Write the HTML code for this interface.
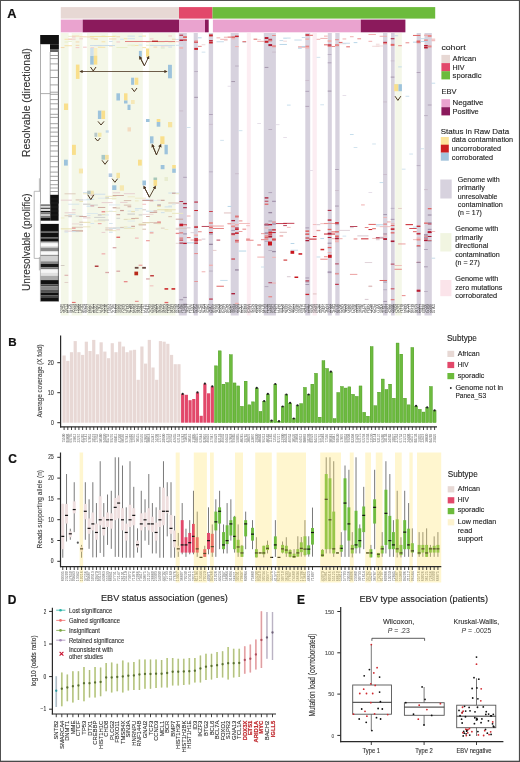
<!DOCTYPE html>
<html><head><meta charset="utf-8"><style>
html,body{margin:0;padding:0;background:#fff;overflow:hidden;width:520px;height:762px;}
svg{display:block;filter:blur(0.3px);font-family:"Liberation Sans",sans-serif;}
</style></head><body>
<svg width="520" height="762" viewBox="0 0 520 762">
<rect x="0" y="0" width="520" height="762" fill="#fff"/>
<rect x="60.8" y="7.1" width="118.2" height="11.5" fill="#e7d8d4" />
<rect x="179" y="7.1" width="33.5" height="11.5" fill="#e2486a" />
<rect x="212.5" y="7.1" width="222.7" height="11.5" fill="#6cbb3c" />
<rect x="60.8" y="19.6" width="21.9" height="12.7" fill="#eaa3cf" />
<rect x="82.7" y="19.6" width="96.3" height="12.7" fill="#8b1a5c" />
<rect x="179" y="19.6" width="26" height="12.7" fill="#eaa3cf" />
<rect x="205" y="19.6" width="3.7" height="12.7" fill="#8b1a5c" />
<rect x="212.9" y="19.6" width="147.9" height="12.7" fill="#eaa3cf" />
<rect x="360.8" y="19.6" width="44.6" height="12.7" fill="#8b1a5c" />
<rect x="60.8" y="33" width="118.2" height="282.5" fill="#f4f7e8" />
<rect x="68.6" y="33" width="3.1" height="282.5" fill="#ffffff" />
<rect x="82.5" y="33" width="4.5" height="282.5" fill="#ffffff" />
<rect x="108.2" y="33" width="3.6" height="282.5" fill="#ffffff" />
<rect x="142.8" y="33" width="6" height="282.5" fill="#ffffff" />
<rect x="175.5" y="33" width="3.5" height="282.5" fill="#ffffff" />
<rect x="111.8" y="200" width="3.7" height="115.5" fill="#ffffff" />
<rect x="178.8" y="33" width="8" height="282.5" fill="#d7d2de" />
<rect x="193.7" y="33" width="4.1" height="282.5" fill="#d7d2de" />
<rect x="208.7" y="33" width="4.4" height="282.5" fill="#d7d2de" />
<rect x="230.7" y="33" width="8" height="282.5" fill="#d7d2de" />
<rect x="263.8" y="33" width="12.1" height="282.5" fill="#d7d2de" />
<rect x="305.3" y="33" width="4.9" height="282.5" fill="#d7d2de" />
<rect x="327.8" y="33" width="4" height="282.5" fill="#d7d2de" />
<rect x="335.3" y="33" width="4.3" height="282.5" fill="#d7d2de" />
<rect x="383" y="33" width="4.4" height="282.5" fill="#d7d2de" />
<rect x="391" y="33" width="3.7" height="282.5" fill="#d7d2de" />
<rect x="416.7" y="33" width="4.2" height="282.5" fill="#d7d2de" />
<rect x="424.5" y="33" width="7.3" height="282.5" fill="#d7d2de" />
<rect x="246.8" y="33" width="4" height="282.5" fill="#fcedf2" />
<rect x="312.5" y="33" width="4.3" height="282.5" fill="#fcedf2" />
<rect x="395.2" y="33" width="6.6" height="282.5" fill="#f4f7e8" />
<rect x="60.8" y="47.04" width="3.71" height="1" fill="#f4d8b0" />
<rect x="60.8" y="265.07" width="3.71" height="0.8" fill="#c8c0b8" />
<rect x="60.8" y="228.35" width="11.12" height="1" fill="#e8e0b0" />
<rect x="60.8" y="199.67" width="11.12" height="1" fill="#e8d0d0" />
<rect x="60.8" y="217.56" width="3.71" height="0.8" fill="#ece8c0" />
<rect x="64.51" y="45.24" width="7.41" height="1" fill="#f6e2a8" />
<rect x="64.51" y="38.76" width="7.41" height="1" fill="#f6e2a8" />
<rect x="64.51" y="41.48" width="3.71" height="1" fill="#e8eec8" />
<rect x="64.51" y="274.76" width="3.71" height="1" fill="#d8a8a8" />
<rect x="64.51" y="281.96" width="3.71" height="1" fill="#e0d0c8" />
<rect x="64.51" y="230.56" width="3.71" height="1" fill="#d8e6ee" />
<rect x="64.51" y="193.44" width="11.12" height="0.8" fill="#d8c0b0" />
<rect x="64.51" y="230.62" width="11.12" height="1" fill="#e8d0d0" />
<rect x="64.51" y="212.29" width="11.12" height="1" fill="#e8d0d0" />
<rect x="64.51" y="215.37" width="7.41" height="0.8" fill="#d8c0b0" />
<rect x="64.51" y="231.64" width="3.71" height="1" fill="#d8e6ee" />
<rect x="68.21" y="38.63" width="7.41" height="1" fill="#f2c8c8" />
<rect x="68.21" y="40.82" width="3.71" height="1" fill="#e8eec8" />
<rect x="68.21" y="35.84" width="3.71" height="1" fill="#e8eec8" />
<rect x="68.21" y="203.76" width="11.12" height="0.8" fill="#cfe0ea" />
<rect x="68.21" y="216.2" width="3.71" height="1" fill="#c8c8c8" />
<rect x="68.21" y="214.03" width="7.41" height="0.8" fill="#cfe0ea" />
<rect x="71.92" y="35.58" width="7.41" height="1" fill="#f4d8b0" />
<rect x="71.92" y="36.45" width="3.71" height="1" fill="#f2c8c8" />
<rect x="71.92" y="227.39" width="3.71" height="1.3" fill="#e88a8a" />
<rect x="71.92" y="301.91" width="3.71" height="1" fill="#e06464" />
<rect x="71.92" y="230.35" width="11.12" height="1" fill="#c89890" />
<rect x="71.92" y="226.8" width="11.12" height="0.8" fill="#d8c0b0" />
<rect x="71.92" y="209.25" width="3.71" height="1" fill="#e8d0d0" />
<rect x="71.92" y="231.11" width="7.41" height="1" fill="#cfe0ea" />
<rect x="71.92" y="223.54" width="7.41" height="0.8" fill="#e8d0d0" />
<rect x="75.63" y="47.13" width="3.71" height="1" fill="#f2c8c8" />
<rect x="75.63" y="44.85" width="3.71" height="1" fill="#f4d8b0" />
<rect x="75.63" y="41.44" width="3.71" height="1" fill="#f4d8b0" />
<rect x="75.63" y="230.53" width="7.41" height="1" fill="#d8c0b0" />
<rect x="75.63" y="215.71" width="7.41" height="0.8" fill="#c8c8c8" />
<rect x="75.63" y="199.41" width="7.41" height="1" fill="#d8c0b0" />
<rect x="79.33" y="36.27" width="3.71" height="1" fill="#f4d8b0" />
<rect x="79.33" y="38.31" width="3.71" height="1" fill="#f2c8c8" />
<rect x="79.33" y="199.5" width="11.12" height="0.8" fill="#d8e6ee" />
<rect x="79.33" y="216.03" width="7.41" height="0.8" fill="#c89890" />
<rect x="79.33" y="224.39" width="3.71" height="0.8" fill="#c8c8c8" />
<rect x="79.33" y="221.68" width="3.71" height="1" fill="#d8c0b0" />
<rect x="79.33" y="201" width="3.71" height="0.8" fill="#e8e0b0" />
<rect x="83.04" y="46.68" width="3.71" height="1" fill="#f2c8c8" />
<rect x="83.04" y="36.31" width="3.71" height="1" fill="#f4d8b0" />
<rect x="83.04" y="203.68" width="7.41" height="1" fill="#c8c8c8" />
<rect x="83.04" y="217.37" width="7.41" height="1" fill="#e8d0d0" />
<rect x="83.04" y="193.42" width="11.12" height="0.8" fill="#e8e0b0" />
<rect x="83.04" y="192.19" width="11.12" height="0.8" fill="#cfe0ea" />
<rect x="83.04" y="221.82" width="7.41" height="1" fill="#e8e0b0" />
<rect x="83.04" y="226.46" width="7.41" height="0.8" fill="#e8e0b0" />
<rect x="86.75" y="36.4" width="7.41" height="1" fill="#f4d8b0" />
<rect x="86.75" y="215.08" width="3.71" height="1" fill="#d8e6ee" />
<rect x="86.75" y="198.87" width="7.41" height="0.8" fill="#cfe0ea" />
<rect x="86.75" y="213" width="11.12" height="0.8" fill="#d8e6ee" />
<rect x="86.75" y="205.65" width="7.41" height="1" fill="#cfe0ea" />
<rect x="86.75" y="206.07" width="3.71" height="0.8" fill="#d8e6ee" />
<rect x="86.75" y="198.85" width="7.41" height="0.8" fill="#cfe0ea" />
<rect x="90.46" y="47.36" width="3.71" height="1" fill="#f2c8c8" />
<rect x="90.46" y="38.27" width="7.41" height="1" fill="#f4d8b0" />
<rect x="90.46" y="205.3" width="3.71" height="1" fill="#e88a8a" />
<rect x="90.46" y="223.01" width="3.71" height="0.8" fill="#cfe0ea" />
<rect x="90.46" y="194.74" width="3.71" height="0.8" fill="#c89890" />
<rect x="90.46" y="204.64" width="7.41" height="0.8" fill="#c8c8c8" />
<rect x="94.16" y="45.09" width="3.71" height="1" fill="#f2c8c8" />
<rect x="94.16" y="38.99" width="3.71" height="1" fill="#f6e2a8" />
<rect x="94.16" y="220.64" width="11.12" height="0.8" fill="#ece8c0" />
<rect x="94.16" y="193.72" width="11.12" height="1" fill="#cfe0ea" />
<rect x="94.16" y="216.92" width="11.12" height="0.8" fill="#c8c8c8" />
<rect x="97.87" y="45.26" width="3.71" height="1" fill="#e8eec8" />
<rect x="97.87" y="44.96" width="3.71" height="1" fill="#cfe2ee" />
<rect x="97.87" y="46.77" width="7.41" height="1" fill="#f6e2a8" />
<rect x="97.87" y="223.34" width="3.71" height="0.8" fill="#e88a8a" />
<rect x="97.87" y="206.97" width="7.41" height="0.8" fill="#c89890" />
<rect x="97.87" y="219.62" width="11.12" height="0.8" fill="#c8c8c8" />
<rect x="97.87" y="214.55" width="3.71" height="0.8" fill="#c89890" />
<rect x="97.87" y="197.74" width="11.12" height="0.8" fill="#d8e6ee" />
<rect x="97.87" y="214.57" width="11.12" height="0.8" fill="#cfe0ea" />
<rect x="101.58" y="35.53" width="3.71" height="1" fill="#e8eec8" />
<rect x="101.58" y="41.28" width="3.71" height="1" fill="#f6e2a8" />
<rect x="101.58" y="253.18" width="3.71" height="1.3" fill="#f0b0b0" />
<rect x="101.58" y="211.1" width="3.71" height="1.3" fill="#e88a8a" />
<rect x="101.58" y="214" width="3.71" height="0.8" fill="#e8e0b0" />
<rect x="101.58" y="231.93" width="3.71" height="1" fill="#e8d0d0" />
<rect x="101.58" y="202.12" width="11.12" height="1" fill="#e8d0d0" />
<rect x="105.28" y="45" width="3.71" height="1" fill="#cfe2ee" />
<rect x="105.28" y="271.85" width="3.71" height="1.3" fill="#d8a8a8" />
<rect x="105.28" y="198.25" width="11.12" height="0.8" fill="#ece8c0" />
<rect x="105.28" y="195.83" width="11.12" height="1" fill="#ece8c0" />
<rect x="105.28" y="197.45" width="3.71" height="0.8" fill="#c8c8c8" />
<rect x="105.28" y="229.39" width="7.41" height="1" fill="#d8c0b0" />
<rect x="105.28" y="227.58" width="7.41" height="0.8" fill="#d8c0b0" />
<rect x="105.28" y="211.18" width="11.12" height="0.8" fill="#ece8c0" />
<rect x="108.99" y="40.94" width="3.71" height="1" fill="#cfe2ee" />
<rect x="108.99" y="45.49" width="3.71" height="1" fill="#f4d8b0" />
<rect x="108.99" y="38.47" width="7.41" height="1" fill="#f4d8b0" />
<rect x="108.99" y="231.71" width="3.71" height="1" fill="#cfe0ea" />
<rect x="108.99" y="210.7" width="3.71" height="0.8" fill="#d8e6ee" />
<rect x="108.99" y="230.35" width="7.41" height="0.8" fill="#e8e0b0" />
<rect x="108.99" y="223.03" width="3.71" height="0.8" fill="#cfe0ea" />
<rect x="108.99" y="227.99" width="7.41" height="0.8" fill="#cfe0ea" />
<rect x="108.99" y="204.54" width="11.12" height="0.8" fill="#d8e6ee" />
<rect x="112.7" y="35.76" width="3.71" height="1" fill="#f6e2a8" />
<rect x="112.7" y="247.05" width="3.71" height="1.3" fill="#d8a8a8" />
<rect x="112.7" y="192.28" width="7.41" height="1" fill="#e8d0d0" />
<rect x="112.7" y="207.19" width="3.71" height="0.8" fill="#c89890" />
<rect x="112.7" y="207.64" width="7.41" height="0.8" fill="#d8c0b0" />
<rect x="112.7" y="195.05" width="11.12" height="0.8" fill="#c89890" />
<rect x="112.7" y="227.49" width="7.41" height="0.8" fill="#c8c8c8" />
<rect x="116.4" y="41.46" width="3.71" height="1" fill="#f2c8c8" />
<rect x="116.4" y="36.25" width="3.71" height="1" fill="#f4d8b0" />
<rect x="116.4" y="47.03" width="7.41" height="1" fill="#e8eec8" />
<rect x="116.4" y="236.62" width="3.71" height="1.3" fill="#e06464" />
<rect x="116.4" y="270.57" width="3.71" height="1.3" fill="#d8a8a8" />
<rect x="116.4" y="217.83" width="3.71" height="0.8" fill="#c8c8c8" />
<rect x="116.4" y="227.6" width="11.12" height="0.8" fill="#d8e6ee" />
<rect x="116.4" y="229.27" width="3.71" height="1" fill="#e8d0d0" />
<rect x="116.4" y="214.2" width="3.71" height="1" fill="#c89890" />
<rect x="120.11" y="38.71" width="3.71" height="1" fill="#cfe2ee" />
<rect x="120.11" y="47.04" width="7.41" height="1" fill="#e8eec8" />
<rect x="120.11" y="210.38" width="3.71" height="1" fill="#e0d0c8" />
<rect x="120.11" y="226.9" width="3.71" height="1" fill="#d8c0b0" />
<rect x="120.11" y="201.89" width="7.41" height="1" fill="#e8d0d0" />
<rect x="120.11" y="209.93" width="3.71" height="1" fill="#c89890" />
<rect x="123.82" y="38.27" width="3.71" height="1" fill="#f6e2a8" />
<rect x="123.82" y="281.01" width="3.71" height="1.3" fill="#e88a8a" />
<rect x="123.82" y="219.22" width="3.71" height="0.8" fill="#c8c0b8" />
<rect x="123.82" y="218.81" width="11.12" height="0.8" fill="#ece8c0" />
<rect x="123.82" y="226.38" width="3.71" height="0.8" fill="#ece8c0" />
<rect x="123.82" y="200.08" width="7.41" height="1" fill="#d8c0b0" />
<rect x="123.82" y="193.2" width="11.12" height="1" fill="#e8d0d0" />
<rect x="123.82" y="204.64" width="7.41" height="1" fill="#d8c0b0" />
<rect x="123.82" y="227.83" width="11.12" height="0.8" fill="#e8e0b0" />
<rect x="127.52" y="35.61" width="7.41" height="1" fill="#cfe2ee" />
<rect x="127.52" y="44.67" width="7.41" height="1" fill="#e8eec8" />
<rect x="127.52" y="38.19" width="7.41" height="1" fill="#cfe2ee" />
<rect x="127.52" y="196.46" width="7.41" height="0.8" fill="#ece8c0" />
<rect x="127.52" y="210.69" width="3.71" height="0.8" fill="#cfe0ea" />
<rect x="127.52" y="206.4" width="3.71" height="0.8" fill="#c89890" />
<rect x="127.52" y="213.56" width="7.41" height="1" fill="#c8c8c8" />
<rect x="127.52" y="226.82" width="3.71" height="0.8" fill="#cfe0ea" />
<rect x="127.52" y="220.64" width="7.41" height="0.8" fill="#d8e6ee" />
<rect x="131.23" y="45.2" width="3.71" height="1" fill="#e8eec8" />
<rect x="131.23" y="211.35" width="3.71" height="0.8" fill="#e0d0c8" />
<rect x="131.23" y="225.81" width="3.71" height="1" fill="#c89890" />
<rect x="131.23" y="210.93" width="3.71" height="1" fill="#e8e0b0" />
<rect x="131.23" y="217.97" width="7.41" height="0.8" fill="#c89890" />
<rect x="134.94" y="44.94" width="3.71" height="1" fill="#f6e2a8" />
<rect x="134.94" y="41.07" width="3.71" height="1" fill="#e8eec8" />
<rect x="134.94" y="237.6" width="3.71" height="1" fill="#f0b0b0" />
<rect x="134.94" y="300.85" width="3.71" height="0.8" fill="#e06464" />
<rect x="134.94" y="197.74" width="11.12" height="0.8" fill="#ece8c0" />
<rect x="134.94" y="200.37" width="3.71" height="1" fill="#ece8c0" />
<rect x="134.94" y="217.47" width="3.71" height="0.8" fill="#ece8c0" />
<rect x="134.94" y="209.71" width="3.71" height="0.8" fill="#cfe0ea" />
<rect x="134.94" y="208.12" width="7.41" height="1" fill="#cfe0ea" />
<rect x="138.65" y="35.74" width="3.71" height="1" fill="#e8eec8" />
<rect x="138.65" y="44.53" width="3.71" height="1" fill="#cfe2ee" />
<rect x="138.65" y="35.89" width="3.71" height="1" fill="#cfe2ee" />
<rect x="138.65" y="264.73" width="3.71" height="1" fill="#e88a8a" />
<rect x="138.65" y="224.3" width="7.41" height="1" fill="#c89890" />
<rect x="138.65" y="223.57" width="7.41" height="1" fill="#e8e0b0" />
<rect x="138.65" y="214.44" width="3.71" height="1" fill="#c8c8c8" />
<rect x="142.35" y="35.56" width="3.71" height="1" fill="#f6e2a8" />
<rect x="142.35" y="47.12" width="3.71" height="1" fill="#f6e2a8" />
<rect x="142.35" y="209.42" width="3.71" height="0.8" fill="#c8c0b8" />
<rect x="142.35" y="203.81" width="3.71" height="0.8" fill="#f0b0b0" />
<rect x="142.35" y="200.03" width="11.12" height="1" fill="#c89890" />
<rect x="142.35" y="228.7" width="3.71" height="1" fill="#d8c0b0" />
<rect x="142.35" y="222.06" width="11.12" height="0.8" fill="#d8c0b0" />
<rect x="142.35" y="199.36" width="11.12" height="0.8" fill="#e8d0d0" />
<rect x="142.35" y="213.89" width="11.12" height="0.8" fill="#e8d0d0" />
<rect x="146.06" y="41.62" width="3.71" height="1" fill="#e8eec8" />
<rect x="146.06" y="44.73" width="7.41" height="1" fill="#e8eec8" />
<rect x="146.06" y="40.97" width="3.71" height="1" fill="#f4d8b0" />
<rect x="146.06" y="278.29" width="3.71" height="1.3" fill="#d8a8a8" />
<rect x="146.06" y="240.23" width="3.71" height="1" fill="#e88a8a" />
<rect x="146.06" y="198.87" width="3.71" height="1" fill="#d8e6ee" />
<rect x="146.06" y="222.34" width="3.71" height="1" fill="#e8e0b0" />
<rect x="146.06" y="216.03" width="3.71" height="0.8" fill="#c89890" />
<rect x="146.06" y="210.66" width="7.41" height="1" fill="#cfe0ea" />
<rect x="149.77" y="38.4" width="3.71" height="1" fill="#f2c8c8" />
<rect x="149.77" y="232.38" width="3.71" height="1" fill="#e88a8a" />
<rect x="149.77" y="285.48" width="3.71" height="0.8" fill="#f0b0b0" />
<rect x="149.77" y="231.11" width="3.71" height="0.8" fill="#d8e6ee" />
<rect x="149.77" y="201.2" width="3.71" height="0.8" fill="#e8d0d0" />
<rect x="149.77" y="212.2" width="7.41" height="0.8" fill="#c89890" />
<rect x="153.47" y="46.58" width="3.71" height="1" fill="#f4d8b0" />
<rect x="153.47" y="199.97" width="7.41" height="0.8" fill="#d8e6ee" />
<rect x="153.47" y="210.61" width="3.71" height="0.8" fill="#c89890" />
<rect x="153.47" y="222.46" width="7.41" height="1" fill="#c89890" />
<rect x="157.18" y="41.54" width="7.41" height="1" fill="#e8eec8" />
<rect x="157.18" y="221.42" width="3.71" height="1.3" fill="#e88a8a" />
<rect x="157.18" y="203.97" width="3.71" height="1" fill="#c8c8c8" />
<rect x="157.18" y="199.68" width="3.71" height="1" fill="#e8d0d0" />
<rect x="157.18" y="223.36" width="3.71" height="0.8" fill="#e8e0b0" />
<rect x="157.18" y="206.02" width="3.71" height="1" fill="#e8e0b0" />
<rect x="157.18" y="209.23" width="3.71" height="1" fill="#e8e0b0" />
<rect x="157.18" y="204.93" width="3.71" height="0.8" fill="#c89890" />
<rect x="160.89" y="47.35" width="3.71" height="1" fill="#cfe2ee" />
<rect x="160.89" y="47.45" width="3.71" height="1" fill="#e8eec8" />
<rect x="160.89" y="45.5" width="3.71" height="1" fill="#f2c8c8" />
<rect x="160.89" y="227.7" width="3.71" height="0.8" fill="#d8c0b0" />
<rect x="160.89" y="212.14" width="3.71" height="1" fill="#cfe0ea" />
<rect x="160.89" y="199.79" width="3.71" height="1" fill="#c89890" />
<rect x="160.89" y="209.3" width="7.41" height="1" fill="#e8e0b0" />
<rect x="164.59" y="40.84" width="3.71" height="1" fill="#f2c8c8" />
<rect x="164.59" y="44.94" width="3.71" height="1" fill="#cfe2ee" />
<rect x="164.59" y="45.26" width="7.41" height="1" fill="#f2c8c8" />
<rect x="164.59" y="301.88" width="3.71" height="1.3" fill="#e06464" />
<rect x="164.59" y="209.25" width="11.12" height="1" fill="#e8e0b0" />
<rect x="164.59" y="206.39" width="7.41" height="1" fill="#cfe0ea" />
<rect x="164.59" y="210.53" width="7.41" height="1" fill="#e8e0b0" />
<rect x="164.59" y="229.21" width="3.71" height="0.8" fill="#ece8c0" />
<rect x="168.3" y="46.65" width="3.71" height="1" fill="#cfe2ee" />
<rect x="168.3" y="35.5" width="3.71" height="1" fill="#f2c8c8" />
<rect x="168.3" y="41.68" width="3.71" height="1" fill="#e8eec8" />
<rect x="168.3" y="192.53" width="11.12" height="1" fill="#cfe0ea" />
<rect x="168.3" y="216.14" width="3.71" height="1" fill="#d8c0b0" />
<rect x="168.3" y="202.47" width="11.12" height="1" fill="#d8c0b0" />
<rect x="168.3" y="205.58" width="3.71" height="1" fill="#cfe0ea" />
<rect x="172.01" y="38.91" width="7.41" height="1" fill="#cfe2ee" />
<rect x="172.01" y="38.74" width="3.71" height="1" fill="#f4d8b0" />
<rect x="172.01" y="41.25" width="3.71" height="1" fill="#f6e2a8" />
<rect x="172.01" y="192.68" width="3.71" height="1" fill="#c89890" />
<rect x="172.01" y="212.85" width="11.12" height="1" fill="#ece8c0" />
<rect x="172.01" y="203.75" width="3.71" height="0.8" fill="#d8e6ee" />
<rect x="175.71" y="41.14" width="3.71" height="1" fill="#f2c8c8" />
<rect x="175.71" y="44.78" width="7.41" height="1" fill="#cfe2ee" />
<rect x="175.71" y="232.75" width="3.71" height="1.3" fill="#e88a8a" />
<rect x="175.71" y="242.84" width="3.71" height="0.8" fill="#e0d0c8" />
<rect x="175.71" y="193.22" width="3.71" height="1" fill="#ece8c0" />
<rect x="175.71" y="203.19" width="7.41" height="0.8" fill="#e8d0d0" />
<rect x="175.71" y="218.75" width="7.41" height="0.8" fill="#c89890" />
<rect x="175.71" y="227.83" width="11.12" height="0.8" fill="#d8c0b0" />
<rect x="175.71" y="228.83" width="3.71" height="1" fill="#e8d0d0" />
<rect x="179.42" y="34.69" width="3.71" height="1" fill="#b8182e" />
<rect x="179.42" y="47.21" width="3.71" height="1.5" fill="#f0b0b0" />
<rect x="179.42" y="39.5" width="3.71" height="1.5" fill="#b8182e" />
<rect x="179.42" y="110.52" width="3.71" height="0.8" fill="#c8b8c8" />
<rect x="179.42" y="232.4" width="3.71" height="1" fill="#e06464" />
<rect x="179.42" y="223.67" width="3.71" height="1.6" fill="#b8182e" />
<rect x="179.42" y="237.6" width="3.71" height="1" fill="#e06464" />
<rect x="179.42" y="239.61" width="3.71" height="1" fill="#c8202a" />
<rect x="179.42" y="242.58" width="3.71" height="1" fill="#a81a34" />
<rect x="179.42" y="224.93" width="3.71" height="1.3" fill="#c8202a" />
<rect x="179.42" y="201.09" width="3.71" height="0.8" fill="#a81a34" />
<rect x="179.42" y="299.42" width="3.71" height="0.8" fill="#9888a0" />
<rect x="183.13" y="36.49" width="3.71" height="1.5" fill="#e06464" />
<rect x="183.13" y="39.57" width="3.71" height="1" fill="#a81a34" />
<rect x="183.13" y="39.49" width="3.71" height="1" fill="#e06464" />
<rect x="183.13" y="36.47" width="3.71" height="1" fill="#e06464" />
<rect x="183.13" y="176.85" width="3.71" height="0.8" fill="#a898b0" />
<rect x="183.13" y="233.23" width="3.71" height="1.3" fill="#a898b0" />
<rect x="183.13" y="224.25" width="3.71" height="1.3" fill="#a81a34" />
<rect x="183.13" y="242.74" width="3.71" height="1.3" fill="#b8182e" />
<rect x="183.13" y="224.76" width="3.71" height="1" fill="#c8202a" />
<rect x="183.13" y="224.67" width="3.71" height="1.3" fill="#f0b0b0" />
<rect x="183.13" y="296.93" width="3.71" height="0.8" fill="#9888a0" />
<rect x="183.13" y="303.67" width="3.71" height="1" fill="#a898b0" />
<rect x="183.13" y="202.94" width="3.71" height="1.3" fill="#a81a34" />
<rect x="183.13" y="207.21" width="3.71" height="1" fill="#a81a34" />
<rect x="186.84" y="126.98" width="3.71" height="0.8" fill="#c6dcea" />
<rect x="186.84" y="242.37" width="7.41" height="1" fill="#b8d6e8" />
<rect x="186.84" y="215.51" width="3.71" height="1" fill="#f0b0b0" />
<rect x="186.84" y="227.32" width="3.71" height="1" fill="#d8c8d0" />
<rect x="186.84" y="237.12" width="3.71" height="1" fill="#e06464" />
<rect x="190.54" y="239.61" width="11.12" height="0.8" fill="#e88a8a" />
<rect x="190.54" y="232.32" width="3.71" height="0.8" fill="#d8c8d0" />
<rect x="194.25" y="47.88" width="3.71" height="2" fill="#c8202a" />
<rect x="194.25" y="41.35" width="3.71" height="1.5" fill="#b8182e" />
<rect x="194.25" y="40.49" width="3.71" height="2" fill="#e88a8a" />
<rect x="194.25" y="71.22" width="3.71" height="0.8" fill="#b4a8bc" />
<rect x="194.25" y="96.86" width="3.71" height="0.8" fill="#9888a0" />
<rect x="194.25" y="234.41" width="3.71" height="1.6" fill="#f0b0b0" />
<rect x="194.25" y="238.19" width="3.71" height="1.6" fill="#c8202a" />
<rect x="194.25" y="240.11" width="3.71" height="1.3" fill="#c8202a" />
<rect x="194.25" y="242.5" width="3.71" height="1.3" fill="#c8202a" />
<rect x="194.25" y="225.83" width="3.71" height="1.6" fill="#f0b0b0" />
<rect x="194.25" y="226.65" width="3.71" height="1.3" fill="#e06464" />
<rect x="194.25" y="226.5" width="3.71" height="1" fill="#a81a34" />
<rect x="194.25" y="210.03" width="3.71" height="1" fill="#c8202a" />
<rect x="194.25" y="281.17" width="3.71" height="0.8" fill="#e88a8a" />
<rect x="194.25" y="253.08" width="3.71" height="1" fill="#e88a8a" />
<rect x="194.25" y="201.57" width="3.71" height="1" fill="#b8182e" />
<rect x="197.96" y="45.86" width="3.71" height="1" fill="#e88a8a" />
<rect x="197.96" y="37.31" width="3.71" height="1" fill="#b8d6e8" />
<rect x="197.96" y="231.25" width="3.71" height="1" fill="#e88a8a" />
<rect x="201.66" y="44.25" width="3.71" height="1" fill="#f0d8d8" />
<rect x="201.66" y="51.72" width="3.71" height="0.8" fill="#c6dcea" />
<rect x="201.66" y="238.59" width="3.71" height="1" fill="#d8c8d0" />
<rect x="201.66" y="271.28" width="3.71" height="1" fill="#f0b0b0" />
<rect x="201.66" y="225.96" width="7.41" height="0.8" fill="#a81a34" />
<rect x="209.08" y="40.09" width="3.71" height="1" fill="#b8182e" />
<rect x="209.08" y="34.4" width="3.71" height="2" fill="#c8202a" />
<rect x="209.08" y="41.48" width="3.71" height="2" fill="#c8202a" />
<rect x="209.08" y="171.47" width="3.71" height="0.8" fill="#b4a8bc" />
<rect x="209.08" y="114" width="3.71" height="0.8" fill="#a898b0" />
<rect x="209.08" y="123.88" width="3.71" height="0.8" fill="#c8b8c8" />
<rect x="209.08" y="231.98" width="3.71" height="1.3" fill="#c8202a" />
<rect x="209.08" y="233.61" width="3.71" height="1" fill="#a898b0" />
<rect x="209.08" y="225.65" width="3.71" height="1" fill="#e88a8a" />
<rect x="209.08" y="222.59" width="3.71" height="1.3" fill="#e88a8a" />
<rect x="209.08" y="222.16" width="3.71" height="1" fill="#e88a8a" />
<rect x="209.08" y="211.12" width="3.71" height="0.8" fill="#c8202a" />
<rect x="209.08" y="264.66" width="3.71" height="1.3" fill="#f0b0b0" />
<rect x="209.08" y="298.57" width="3.71" height="1" fill="#b8182e" />
<rect x="209.08" y="226.99" width="3.71" height="1.3" fill="#e06464" />
<rect x="209.08" y="270.65" width="3.71" height="0.8" fill="#b4a8bc" />
<rect x="209.08" y="243.7" width="3.71" height="1.3" fill="#9888a0" />
<rect x="212.78" y="249.91" width="3.71" height="0.8" fill="#e0c0c0" />
<rect x="212.78" y="227.97" width="11.12" height="0.8" fill="#e06464" />
<rect x="212.78" y="225.63" width="11.12" height="0.8" fill="#e88a8a" />
<rect x="216.49" y="41.25" width="7.41" height="1" fill="#c6dcea" />
<rect x="216.49" y="37.35" width="3.71" height="1" fill="#f0b0b0" />
<rect x="216.49" y="285.73" width="7.41" height="1" fill="#e06464" />
<rect x="216.49" y="239.68" width="3.71" height="0.8" fill="#a81a34" />
<rect x="220.2" y="38.8" width="7.41" height="1" fill="#f0b0b0" />
<rect x="220.2" y="139.89" width="3.71" height="0.8" fill="#c6dcea" />
<rect x="220.2" y="279.95" width="7.41" height="0.8" fill="#b8d6e8" />
<rect x="223.9" y="40.06" width="3.71" height="1" fill="#f0d8d8" />
<rect x="223.9" y="36.71" width="3.71" height="1" fill="#f0b0b0" />
<rect x="223.9" y="212.45" width="7.41" height="1" fill="#e0c0c0" />
<rect x="227.61" y="36.61" width="3.71" height="1" fill="#e06464" />
<rect x="227.61" y="85.8" width="3.71" height="0.8" fill="#e0d8e4" />
<rect x="227.61" y="205.93" width="3.71" height="1" fill="#b8d6e8" />
<rect x="227.61" y="223.24" width="3.71" height="1" fill="#e06464" />
<rect x="227.61" y="222.95" width="7.41" height="0.8" fill="#f0b0b0" />
<rect x="231.32" y="38.25" width="3.71" height="1" fill="#f0b0b0" />
<rect x="231.32" y="36.36" width="3.71" height="1.5" fill="#e06464" />
<rect x="231.32" y="81.24" width="3.71" height="0.8" fill="#9888a0" />
<rect x="231.32" y="225.69" width="3.71" height="1.6" fill="#e88a8a" />
<rect x="231.32" y="234.57" width="3.71" height="1.3" fill="#f0b0b0" />
<rect x="231.32" y="225.72" width="3.71" height="1.3" fill="#e88a8a" />
<rect x="231.32" y="229.86" width="3.71" height="1" fill="#a898b0" />
<rect x="231.32" y="233.26" width="3.71" height="1.3" fill="#e88a8a" />
<rect x="231.32" y="258.53" width="3.71" height="1" fill="#c8202a" />
<rect x="231.32" y="293.06" width="3.71" height="1.3" fill="#a81a34" />
<rect x="231.32" y="219.96" width="3.71" height="1.3" fill="#a81a34" />
<rect x="231.32" y="233.36" width="3.71" height="1.3" fill="#a81a34" />
<rect x="235.03" y="35.61" width="3.71" height="1.5" fill="#c8202a" />
<rect x="235.03" y="46.1" width="3.71" height="1" fill="#f0b0b0" />
<rect x="235.03" y="65.61" width="3.71" height="0.8" fill="#b4a8bc" />
<rect x="235.03" y="173.37" width="3.71" height="0.8" fill="#c8b8c8" />
<rect x="235.03" y="240.13" width="3.71" height="1.3" fill="#c8202a" />
<rect x="235.03" y="232.35" width="3.71" height="1.6" fill="#c8202a" />
<rect x="235.03" y="239.3" width="3.71" height="1" fill="#f0b0b0" />
<rect x="235.03" y="223.96" width="3.71" height="1.6" fill="#f0b0b0" />
<rect x="235.03" y="228.36" width="3.71" height="1.6" fill="#c8202a" />
<rect x="235.03" y="302.75" width="3.71" height="1.3" fill="#f0b0b0" />
<rect x="235.03" y="227.46" width="3.71" height="0.8" fill="#b8182e" />
<rect x="235.03" y="269.29" width="3.71" height="1.3" fill="#9888a0" />
<rect x="235.03" y="241.66" width="3.71" height="1" fill="#e88a8a" />
<rect x="235.03" y="215.6" width="3.71" height="1" fill="#e06464" />
<rect x="235.03" y="216.42" width="3.71" height="1" fill="#e06464" />
<rect x="238.73" y="130.32" width="3.71" height="0.8" fill="#c6dcea" />
<rect x="238.73" y="250.54" width="7.41" height="1" fill="#b8d6e8" />
<rect x="238.73" y="220.41" width="3.71" height="1" fill="#e88a8a" />
<rect x="238.73" y="222.99" width="11.12" height="0.8" fill="#f0b0b0" />
<rect x="238.73" y="231.09" width="3.71" height="0.8" fill="#e88a8a" />
<rect x="242.44" y="41.53" width="3.71" height="1" fill="#c6dcea" />
<rect x="242.44" y="41.22" width="3.71" height="1" fill="#e06464" />
<rect x="242.44" y="228.74" width="3.71" height="0.8" fill="#e06464" />
<rect x="246.15" y="238.63" width="3.71" height="1" fill="#e06464" />
<rect x="246.15" y="225.35" width="3.71" height="0.8" fill="#f0b0b0" />
<rect x="246.15" y="239.74" width="7.41" height="1" fill="#e88a8a" />
<rect x="253.56" y="38.68" width="3.71" height="1" fill="#e06464" />
<rect x="257.27" y="40.87" width="7.41" height="1" fill="#f0b0b0" />
<rect x="257.27" y="39.21" width="3.71" height="1" fill="#f0d8d8" />
<rect x="257.27" y="123.1" width="3.71" height="0.8" fill="#e0d8e4" />
<rect x="257.27" y="244.48" width="3.71" height="1" fill="#e06464" />
<rect x="257.27" y="256.59" width="7.41" height="1" fill="#f0b0b0" />
<rect x="260.97" y="266.61" width="3.71" height="0.8" fill="#c6dcea" />
<rect x="260.97" y="239.16" width="7.41" height="1" fill="#e88a8a" />
<rect x="260.97" y="233.31" width="7.41" height="0.8" fill="#e88a8a" />
<rect x="264.68" y="37.04" width="3.71" height="2" fill="#b8182e" />
<rect x="264.68" y="40.78" width="3.71" height="2" fill="#c8202a" />
<rect x="264.68" y="66.93" width="3.71" height="0.8" fill="#9888a0" />
<rect x="264.68" y="227.44" width="3.71" height="1" fill="#f0b0b0" />
<rect x="264.68" y="223.68" width="3.71" height="1.6" fill="#a81a34" />
<rect x="264.68" y="224" width="3.71" height="1.6" fill="#b8182e" />
<rect x="264.68" y="235.21" width="3.71" height="1.6" fill="#e88a8a" />
<rect x="264.68" y="236.87" width="3.71" height="1.6" fill="#e06464" />
<rect x="264.68" y="224.44" width="3.71" height="1.3" fill="#a898b0" />
<rect x="264.68" y="203.56" width="3.71" height="1.3" fill="#e06464" />
<rect x="264.68" y="240.85" width="3.71" height="0.8" fill="#a898b0" />
<rect x="264.68" y="232.35" width="3.71" height="1.3" fill="#9888a0" />
<rect x="264.68" y="286.1" width="3.71" height="1" fill="#b4a8bc" />
<rect x="264.68" y="200.78" width="3.71" height="0.8" fill="#b8182e" />
<rect x="264.68" y="197.25" width="3.71" height="1.3" fill="#a81a34" />
<rect x="268.39" y="44.1" width="3.71" height="2" fill="#a81a34" />
<rect x="268.39" y="40.18" width="3.71" height="1" fill="#b8182e" />
<rect x="268.39" y="38.83" width="3.71" height="1" fill="#a81a34" />
<rect x="268.39" y="39.82" width="3.71" height="1" fill="#e88a8a" />
<rect x="268.39" y="192.27" width="3.71" height="0.8" fill="#a898b0" />
<rect x="268.39" y="129.1" width="3.71" height="0.8" fill="#b4a8bc" />
<rect x="268.39" y="224.03" width="3.71" height="1.3" fill="#b8182e" />
<rect x="268.39" y="234.36" width="3.71" height="1" fill="#a81a34" />
<rect x="268.39" y="231.54" width="3.71" height="1.6" fill="#c8202a" />
<rect x="268.39" y="235.44" width="3.71" height="1.6" fill="#e88a8a" />
<rect x="268.39" y="235.91" width="3.71" height="1.6" fill="#a81a34" />
<rect x="268.39" y="232.95" width="3.71" height="1.3" fill="#e06464" />
<rect x="268.39" y="282.4" width="3.71" height="0.8" fill="#a81a34" />
<rect x="268.39" y="250.01" width="3.71" height="0.8" fill="#b4a8bc" />
<rect x="268.39" y="296.08" width="3.71" height="1.3" fill="#e88a8a" />
<rect x="268.39" y="211.98" width="3.71" height="1.3" fill="#9888a0" />
<rect x="268.39" y="229.32" width="3.71" height="1.3" fill="#9888a0" />
<rect x="268.39" y="220.4" width="3.71" height="1.3" fill="#b4a8bc" />
<rect x="272.1" y="35.02" width="3.71" height="1" fill="#e88a8a" />
<rect x="272.1" y="45.23" width="3.71" height="2" fill="#e88a8a" />
<rect x="272.1" y="51.68" width="3.71" height="0.8" fill="#c8b8c8" />
<rect x="272.1" y="223.22" width="3.71" height="1.6" fill="#a898b0" />
<rect x="272.1" y="232.08" width="3.71" height="1" fill="#b8182e" />
<rect x="272.1" y="229.23" width="3.71" height="1.3" fill="#c8202a" />
<rect x="272.1" y="239.15" width="3.71" height="1.3" fill="#c8202a" />
<rect x="272.1" y="282.59" width="3.71" height="1" fill="#f0b0b0" />
<rect x="272.1" y="256.83" width="3.71" height="1" fill="#f0b0b0" />
<rect x="272.1" y="200.73" width="3.71" height="1.3" fill="#a898b0" />
<rect x="272.1" y="221.65" width="3.71" height="0.8" fill="#e06464" />
<rect x="272.1" y="238.28" width="3.71" height="1.3" fill="#e06464" />
<rect x="272.1" y="250.91" width="3.71" height="1.3" fill="#9888a0" />
<rect x="275.8" y="124.31" width="3.71" height="0.8" fill="#e0d8e4" />
<rect x="275.8" y="223.23" width="11.12" height="0.8" fill="#b8182e" />
<rect x="279.51" y="43.95" width="7.41" height="1" fill="#b8d6e8" />
<rect x="279.51" y="40.08" width="3.71" height="1" fill="#c6dcea" />
<rect x="279.51" y="231.78" width="7.41" height="1" fill="#e0c0c0" />
<rect x="279.51" y="235.46" width="3.71" height="1" fill="#e88a8a" />
<rect x="283.22" y="37.66" width="3.71" height="1" fill="#b8d6e8" />
<rect x="283.22" y="40.68" width="3.71" height="1" fill="#f0d8d8" />
<rect x="283.22" y="137" width="3.71" height="0.8" fill="#e0d8e4" />
<rect x="283.22" y="222.87" width="11.12" height="0.8" fill="#b8182e" />
<rect x="283.22" y="225.27" width="3.71" height="0.8" fill="#a81a34" />
<rect x="286.92" y="37.57" width="3.71" height="1" fill="#c6dcea" />
<rect x="286.92" y="104.68" width="3.71" height="0.8" fill="#b8d6e8" />
<rect x="286.92" y="276.22" width="3.71" height="1" fill="#d8c8d0" />
<rect x="286.92" y="226.9" width="3.71" height="0.8" fill="#f0b0b0" />
<rect x="290.63" y="242.98" width="3.71" height="1" fill="#b8d6e8" />
<rect x="290.63" y="249.72" width="7.41" height="1" fill="#c6dcea" />
<rect x="294.34" y="39.53" width="7.41" height="1" fill="#c6dcea" />
<rect x="298.04" y="46.47" width="7.41" height="1" fill="#e88a8a" />
<rect x="298.04" y="47.71" width="3.71" height="1" fill="#b8d6e8" />
<rect x="301.75" y="37" width="3.71" height="1" fill="#c6dcea" />
<rect x="301.75" y="45.97" width="3.71" height="1" fill="#b8d6e8" />
<rect x="305.46" y="45.62" width="3.71" height="1.5" fill="#e88a8a" />
<rect x="305.46" y="38.42" width="3.71" height="1.5" fill="#f0b0b0" />
<rect x="305.46" y="46.99" width="3.71" height="1.5" fill="#f0b0b0" />
<rect x="305.46" y="34.26" width="3.71" height="1.5" fill="#c8202a" />
<rect x="305.46" y="105.9" width="3.71" height="0.8" fill="#a898b0" />
<rect x="305.46" y="90.88" width="3.71" height="0.8" fill="#a898b0" />
<rect x="305.46" y="79.98" width="3.71" height="0.8" fill="#c8b8c8" />
<rect x="305.46" y="239.95" width="3.71" height="1.3" fill="#a81a34" />
<rect x="305.46" y="237.52" width="3.71" height="1" fill="#c8202a" />
<rect x="305.46" y="233.73" width="3.71" height="1" fill="#a898b0" />
<rect x="305.46" y="233.39" width="3.71" height="1.6" fill="#e06464" />
<rect x="305.46" y="230.37" width="3.71" height="1.6" fill="#e06464" />
<rect x="305.46" y="284.14" width="3.71" height="0.8" fill="#9888a0" />
<rect x="305.46" y="277.33" width="3.71" height="1.3" fill="#b4a8bc" />
<rect x="305.46" y="281.45" width="3.71" height="1" fill="#a898b0" />
<rect x="305.46" y="227.4" width="3.71" height="1" fill="#a898b0" />
<rect x="305.46" y="293.77" width="3.71" height="1.3" fill="#c8202a" />
<rect x="305.46" y="280.38" width="3.71" height="1" fill="#b8182e" />
<rect x="309.16" y="34.79" width="3.71" height="1" fill="#e06464" />
<rect x="309.16" y="170.08" width="3.71" height="0.8" fill="#e0d8e4" />
<rect x="309.16" y="238.61" width="7.41" height="1" fill="#c8202a" />
<rect x="312.87" y="293.43" width="3.71" height="1" fill="#e0c0c0" />
<rect x="312.87" y="236.02" width="3.71" height="1" fill="#c8202a" />
<rect x="312.87" y="224.24" width="3.71" height="0.8" fill="#f0b0b0" />
<rect x="316.58" y="38.81" width="3.71" height="1" fill="#f0b0b0" />
<rect x="316.58" y="56.89" width="3.71" height="0.8" fill="#c6dcea" />
<rect x="316.58" y="256.49" width="3.71" height="1" fill="#c6dcea" />
<rect x="316.58" y="230.24" width="3.71" height="1" fill="#e0c0c0" />
<rect x="316.58" y="229.88" width="3.71" height="1" fill="#e88a8a" />
<rect x="316.58" y="224.17" width="3.71" height="1" fill="#d8c8d0" />
<rect x="320.29" y="37.89" width="7.41" height="1" fill="#f0b0b0" />
<rect x="320.29" y="104.42" width="3.71" height="0.8" fill="#c6dcea" />
<rect x="320.29" y="238.06" width="3.71" height="1" fill="#b8d6e8" />
<rect x="320.29" y="258.69" width="7.41" height="1" fill="#e88a8a" />
<rect x="320.29" y="223.33" width="7.41" height="0.8" fill="#f0b0b0" />
<rect x="323.99" y="35.61" width="3.71" height="1" fill="#f0b0b0" />
<rect x="323.99" y="44.32" width="3.71" height="1" fill="#e06464" />
<rect x="323.99" y="256.23" width="3.71" height="1" fill="#e88a8a" />
<rect x="323.99" y="222.96" width="11.12" height="0.8" fill="#e88a8a" />
<rect x="323.99" y="233.53" width="11.12" height="1" fill="#c8202a" />
<rect x="327.7" y="45.14" width="3.71" height="1.5" fill="#e06464" />
<rect x="327.7" y="40.08" width="3.71" height="2" fill="#f0b0b0" />
<rect x="327.7" y="44.38" width="3.71" height="1" fill="#b8182e" />
<rect x="327.7" y="62.44" width="3.71" height="0.8" fill="#a898b0" />
<rect x="327.7" y="90.68" width="3.71" height="0.8" fill="#9888a0" />
<rect x="327.7" y="54.15" width="3.71" height="0.8" fill="#b4a8bc" />
<rect x="327.7" y="237.03" width="3.71" height="1" fill="#b8182e" />
<rect x="327.7" y="232.72" width="3.71" height="1.6" fill="#a81a34" />
<rect x="327.7" y="228.85" width="3.71" height="1.3" fill="#e06464" />
<rect x="327.7" y="242.57" width="3.71" height="1.3" fill="#a898b0" />
<rect x="327.7" y="271.4" width="3.71" height="0.8" fill="#a898b0" />
<rect x="327.7" y="271.82" width="3.71" height="1.3" fill="#a898b0" />
<rect x="327.7" y="219.43" width="3.71" height="1.3" fill="#b8182e" />
<rect x="327.7" y="209.86" width="3.71" height="1" fill="#a81a34" />
<rect x="327.7" y="252.1" width="3.71" height="1" fill="#f0b0b0" />
<rect x="327.7" y="246.94" width="3.71" height="1.3" fill="#e06464" />
<rect x="331.41" y="46.03" width="3.71" height="1" fill="#e88a8a" />
<rect x="331.41" y="238.19" width="11.12" height="1" fill="#f0b0b0" />
<rect x="331.41" y="231.37" width="7.41" height="1" fill="#e06464" />
<rect x="335.11" y="44.73" width="3.71" height="1" fill="#c8202a" />
<rect x="335.11" y="39.22" width="3.71" height="1" fill="#e88a8a" />
<rect x="335.11" y="44.22" width="3.71" height="2" fill="#e88a8a" />
<rect x="335.11" y="190.01" width="3.71" height="0.8" fill="#c8b8c8" />
<rect x="335.11" y="169.03" width="3.71" height="0.8" fill="#a898b0" />
<rect x="335.11" y="222.16" width="3.71" height="1.6" fill="#c8202a" />
<rect x="335.11" y="231.25" width="3.71" height="1" fill="#e06464" />
<rect x="335.11" y="235.45" width="3.71" height="1.6" fill="#e06464" />
<rect x="335.11" y="239.33" width="3.71" height="1.3" fill="#f0b0b0" />
<rect x="335.11" y="240.68" width="3.71" height="1.6" fill="#f0b0b0" />
<rect x="335.11" y="237.63" width="3.71" height="1.6" fill="#a81a34" />
<rect x="335.11" y="205.42" width="3.71" height="1.3" fill="#b4a8bc" />
<rect x="335.11" y="283.81" width="3.71" height="1" fill="#b8182e" />
<rect x="335.11" y="272.85" width="3.71" height="0.8" fill="#b4a8bc" />
<rect x="335.11" y="273.17" width="3.71" height="1.3" fill="#e88a8a" />
<rect x="335.11" y="224.29" width="3.71" height="0.8" fill="#a898b0" />
<rect x="335.11" y="263.51" width="3.71" height="0.8" fill="#a81a34" />
<rect x="338.82" y="41.92" width="3.71" height="1" fill="#e06464" />
<rect x="338.82" y="43.24" width="7.41" height="1" fill="#f0d8d8" />
<rect x="338.82" y="229.91" width="11.12" height="0.8" fill="#d8c8d0" />
<rect x="342.53" y="38.46" width="3.71" height="1" fill="#f0b0b0" />
<rect x="342.53" y="42.75" width="7.41" height="1" fill="#c6dcea" />
<rect x="342.53" y="95.05" width="3.71" height="0.8" fill="#e0d8e4" />
<rect x="342.53" y="235.69" width="3.71" height="0.8" fill="#c6dcea" />
<rect x="346.23" y="46.32" width="3.71" height="1" fill="#e06464" />
<rect x="349.94" y="36.21" width="3.71" height="1" fill="#f0b0b0" />
<rect x="349.94" y="134.21" width="3.71" height="0.8" fill="#b8d6e8" />
<rect x="349.94" y="273.91" width="7.41" height="0.8" fill="#e88a8a" />
<rect x="349.94" y="226.12" width="7.41" height="0.8" fill="#a81a34" />
<rect x="349.94" y="227.15" width="3.71" height="1" fill="#d8c8d0" />
<rect x="353.65" y="42.11" width="3.71" height="1" fill="#b8d6e8" />
<rect x="353.65" y="147.15" width="3.71" height="0.8" fill="#c6dcea" />
<rect x="353.65" y="238.58" width="3.71" height="0.8" fill="#e06464" />
<rect x="357.35" y="38.28" width="3.71" height="1" fill="#e88a8a" />
<rect x="357.35" y="235.39" width="11.12" height="1" fill="#d8c8d0" />
<rect x="361.06" y="204.42" width="3.71" height="1" fill="#f0b0b0" />
<rect x="361.06" y="238.34" width="7.41" height="1" fill="#c8202a" />
<rect x="364.77" y="262.23" width="7.41" height="0.8" fill="#d8c8d0" />
<rect x="364.77" y="298.88" width="3.71" height="1" fill="#d8c8d0" />
<rect x="364.77" y="227.18" width="3.71" height="0.8" fill="#e06464" />
<rect x="368.48" y="34" width="7.41" height="1" fill="#f0b0b0" />
<rect x="368.48" y="40.8" width="3.71" height="1" fill="#f0b0b0" />
<rect x="368.48" y="192.07" width="3.71" height="0.8" fill="#e0d8e4" />
<rect x="368.48" y="285.56" width="3.71" height="0.8" fill="#e0c0c0" />
<rect x="368.48" y="286.05" width="3.71" height="1" fill="#e0c0c0" />
<rect x="368.48" y="229.06" width="3.71" height="1" fill="#c8202a" />
<rect x="368.48" y="223.91" width="7.41" height="1" fill="#e06464" />
<rect x="372.18" y="45.77" width="7.41" height="1" fill="#f0d8d8" />
<rect x="372.18" y="143.58" width="3.71" height="0.8" fill="#c6dcea" />
<rect x="372.18" y="228.19" width="3.71" height="1" fill="#e06464" />
<rect x="372.18" y="237.94" width="7.41" height="0.8" fill="#f0b0b0" />
<rect x="375.89" y="43.72" width="3.71" height="1" fill="#f0d8d8" />
<rect x="375.89" y="45.48" width="7.41" height="1" fill="#f0d8d8" />
<rect x="375.89" y="224.27" width="7.41" height="1" fill="#b8d6e8" />
<rect x="375.89" y="225.64" width="3.71" height="0.8" fill="#c6dcea" />
<rect x="375.89" y="239.22" width="3.71" height="1" fill="#d8c8d0" />
<rect x="375.89" y="237.27" width="7.41" height="1" fill="#a81a34" />
<rect x="379.6" y="35.76" width="7.41" height="1" fill="#f0b0b0" />
<rect x="379.6" y="182.26" width="3.71" height="0.8" fill="#b8d6e8" />
<rect x="379.6" y="279.99" width="7.41" height="1" fill="#e06464" />
<rect x="379.6" y="226.32" width="11.12" height="0.8" fill="#f0b0b0" />
<rect x="379.6" y="236.75" width="3.71" height="1" fill="#d8c8d0" />
<rect x="383.3" y="41.82" width="3.71" height="1.5" fill="#b8182e" />
<rect x="383.3" y="42.74" width="3.71" height="1.5" fill="#e88a8a" />
<rect x="383.3" y="101.54" width="3.71" height="0.8" fill="#c8b8c8" />
<rect x="383.3" y="174.07" width="3.71" height="0.8" fill="#c8b8c8" />
<rect x="383.3" y="223.49" width="3.71" height="1.3" fill="#e88a8a" />
<rect x="383.3" y="238.19" width="3.71" height="1" fill="#c8202a" />
<rect x="383.3" y="233.43" width="3.71" height="1" fill="#f0b0b0" />
<rect x="383.3" y="233.34" width="3.71" height="1.3" fill="#a898b0" />
<rect x="383.3" y="235.43" width="3.71" height="1" fill="#f0b0b0" />
<rect x="383.3" y="289.39" width="3.71" height="0.8" fill="#b4a8bc" />
<rect x="383.3" y="300.96" width="3.71" height="0.8" fill="#9888a0" />
<rect x="383.3" y="217.2" width="3.71" height="0.8" fill="#f0b0b0" />
<rect x="383.3" y="281.63" width="3.71" height="0.8" fill="#9888a0" />
<rect x="383.3" y="214.29" width="3.71" height="0.8" fill="#9888a0" />
<rect x="383.3" y="238.63" width="3.71" height="1.3" fill="#a81a34" />
<rect x="387.01" y="221.55" width="3.71" height="0.8" fill="#e88a8a" />
<rect x="390.72" y="43.84" width="3.71" height="2" fill="#e06464" />
<rect x="390.72" y="38.24" width="3.71" height="1" fill="#a81a34" />
<rect x="390.72" y="76.68" width="3.71" height="0.8" fill="#9888a0" />
<rect x="390.72" y="60.5" width="3.71" height="0.8" fill="#c8b8c8" />
<rect x="390.72" y="224.98" width="3.71" height="1" fill="#e06464" />
<rect x="390.72" y="232.18" width="3.71" height="1.3" fill="#e06464" />
<rect x="390.72" y="223.27" width="3.71" height="1" fill="#f0b0b0" />
<rect x="390.72" y="228.31" width="3.71" height="1.6" fill="#c8202a" />
<rect x="390.72" y="240.48" width="3.71" height="1.6" fill="#a81a34" />
<rect x="390.72" y="263.7" width="3.71" height="0.8" fill="#a81a34" />
<rect x="390.72" y="207.9" width="3.71" height="0.8" fill="#b4a8bc" />
<rect x="390.72" y="288.46" width="3.71" height="0.8" fill="#c8202a" />
<rect x="390.72" y="299.24" width="3.71" height="1" fill="#e06464" />
<rect x="390.72" y="218.84" width="3.71" height="1" fill="#a898b0" />
<rect x="394.42" y="35.25" width="3.71" height="1" fill="#c6dcea" />
<rect x="394.42" y="84.27" width="3.71" height="0.8" fill="#c6dcea" />
<rect x="394.42" y="265.07" width="7.41" height="0.8" fill="#f0b0b0" />
<rect x="394.42" y="268.77" width="7.41" height="1" fill="#e88a8a" />
<rect x="398.13" y="45.2" width="3.71" height="1" fill="#e88a8a" />
<rect x="398.13" y="66.51" width="3.71" height="0.8" fill="#b8d6e8" />
<rect x="398.13" y="243.56" width="7.41" height="0.8" fill="#e88a8a" />
<rect x="398.13" y="207.96" width="3.71" height="0.8" fill="#e0c0c0" />
<rect x="401.84" y="168.73" width="3.71" height="0.8" fill="#c6dcea" />
<rect x="401.84" y="295.13" width="3.71" height="1" fill="#e88a8a" />
<rect x="405.54" y="42.29" width="3.71" height="1" fill="#e88a8a" />
<rect x="405.54" y="95.82" width="3.71" height="0.8" fill="#b8d6e8" />
<rect x="405.54" y="224.15" width="7.41" height="1" fill="#c8202a" />
<rect x="409.25" y="153.63" width="3.71" height="0.8" fill="#c6dcea" />
<rect x="409.25" y="228.19" width="7.41" height="0.8" fill="#c8202a" />
<rect x="412.96" y="34.94" width="7.41" height="1" fill="#e06464" />
<rect x="412.96" y="41.65" width="7.41" height="1" fill="#b8d6e8" />
<rect x="412.96" y="226.65" width="7.41" height="0.8" fill="#b8d6e8" />
<rect x="412.96" y="231.16" width="3.71" height="1" fill="#e06464" />
<rect x="412.96" y="239.31" width="7.41" height="0.8" fill="#f0b0b0" />
<rect x="416.67" y="41.25" width="3.71" height="2" fill="#e88a8a" />
<rect x="416.67" y="40.49" width="3.71" height="2" fill="#e06464" />
<rect x="416.67" y="165.27" width="3.71" height="0.8" fill="#b4a8bc" />
<rect x="416.67" y="72.2" width="3.71" height="0.8" fill="#a898b0" />
<rect x="416.67" y="225.62" width="3.71" height="1.3" fill="#c8202a" />
<rect x="416.67" y="237.49" width="3.71" height="1.3" fill="#f0b0b0" />
<rect x="416.67" y="238.94" width="3.71" height="1.6" fill="#e88a8a" />
<rect x="416.67" y="232.78" width="3.71" height="1.3" fill="#e88a8a" />
<rect x="416.67" y="233.2" width="3.71" height="1.3" fill="#b8182e" />
<rect x="416.67" y="290.99" width="3.71" height="0.8" fill="#b8182e" />
<rect x="416.67" y="261.9" width="3.71" height="1" fill="#e06464" />
<rect x="416.67" y="246.15" width="3.71" height="0.8" fill="#a898b0" />
<rect x="416.67" y="245.03" width="3.71" height="1.3" fill="#e06464" />
<rect x="416.67" y="261.91" width="3.71" height="1" fill="#9888a0" />
<rect x="416.67" y="289.68" width="3.71" height="1.3" fill="#b8182e" />
<rect x="420.37" y="40.94" width="7.41" height="1" fill="#b8d6e8" />
<rect x="420.37" y="38.18" width="7.41" height="1" fill="#c6dcea" />
<rect x="420.37" y="148.41" width="3.71" height="0.8" fill="#c6dcea" />
<rect x="424.08" y="46.45" width="3.71" height="2" fill="#b8182e" />
<rect x="424.08" y="34.59" width="3.71" height="1.5" fill="#f0b0b0" />
<rect x="424.08" y="39.44" width="3.71" height="1.5" fill="#e88a8a" />
<rect x="424.08" y="44.98" width="3.71" height="1" fill="#b8182e" />
<rect x="424.08" y="189.28" width="3.71" height="0.8" fill="#c8b8c8" />
<rect x="424.08" y="115.28" width="3.71" height="0.8" fill="#b4a8bc" />
<rect x="424.08" y="239.55" width="3.71" height="1.6" fill="#a81a34" />
<rect x="424.08" y="235.53" width="3.71" height="1" fill="#e06464" />
<rect x="424.08" y="233.97" width="3.71" height="1.6" fill="#a898b0" />
<rect x="424.08" y="237.47" width="3.71" height="1.3" fill="#e06464" />
<rect x="424.08" y="222.52" width="3.71" height="1.3" fill="#e06464" />
<rect x="424.08" y="266.1" width="3.71" height="1.3" fill="#b4a8bc" />
<rect x="424.08" y="249" width="3.71" height="0.8" fill="#a898b0" />
<rect x="424.08" y="236.9" width="3.71" height="1.3" fill="#a898b0" />
<rect x="424.08" y="291.04" width="3.71" height="0.8" fill="#b4a8bc" />
<rect x="427.79" y="45.45" width="3.71" height="2" fill="#e88a8a" />
<rect x="427.79" y="34.97" width="3.71" height="2" fill="#e88a8a" />
<rect x="427.79" y="104.6" width="3.71" height="0.8" fill="#a898b0" />
<rect x="427.79" y="231.49" width="3.71" height="1.6" fill="#a81a34" />
<rect x="427.79" y="235.99" width="3.71" height="1" fill="#a81a34" />
<rect x="427.79" y="231.14" width="3.71" height="1.6" fill="#b8182e" />
<rect x="427.79" y="223.43" width="3.71" height="1" fill="#a81a34" />
<rect x="427.79" y="240.03" width="3.71" height="1" fill="#e06464" />
<rect x="427.79" y="228.78" width="3.71" height="1.3" fill="#a898b0" />
<rect x="427.79" y="240.62" width="3.71" height="0.8" fill="#9888a0" />
<rect x="427.79" y="208.03" width="3.71" height="1.3" fill="#e06464" />
<rect x="427.79" y="222.31" width="3.71" height="0.8" fill="#9888a0" />
<rect x="427.79" y="214.51" width="3.71" height="1" fill="#9888a0" />
<rect x="431.49" y="38.66" width="3.71" height="1" fill="#f0b0b0" />
<rect x="431.49" y="40.2" width="3.71" height="1" fill="#f0b0b0" />
<rect x="431.49" y="82.76" width="3.71" height="0.8" fill="#b8d6e8" />
<rect x="431.49" y="257.68" width="3.71" height="1" fill="#c6dcea" />
<rect x="431.49" y="231.04" width="3.71" height="0.8" fill="#f0b0b0" />
<rect x="268" y="241.5" width="4" height="4" fill="#c8161e" />
<rect x="134.4" y="271.6" width="3.7" height="3.7" fill="#b82a1a" />
<rect x="134.8" y="266.9" width="3.7" height="1.8" fill="#6a4840" />
<rect x="142.2" y="266.9" width="3.7" height="1.8" fill="#6a4840" />
<rect x="94.8" y="265.5" width="3.7" height="1.5" fill="#b04040" />
<rect x="150.2" y="275" width="3.7" height="1.5" fill="#c04040" />
<rect x="164.5" y="288" width="3.7" height="1.8" fill="#d04040" />
<rect x="171.5" y="288" width="3.7" height="1.8" fill="#d04040" />
<rect x="125" y="41" width="50" height="0.9" fill="#e07878" />
<rect x="290.5" y="250.8" width="3.7" height="3" fill="#c8161e" />
<rect x="298.5" y="253.2" width="3.7" height="1.5" fill="#c8161e" />
<rect x="328" y="254.8" width="3.7" height="3" fill="#c8161e" />
<rect x="320.5" y="248.8" width="3.7" height="1.5" fill="#d02a2a" />
<rect x="294.5" y="276.5" width="3.7" height="1.5" fill="#c8161e" />
<rect x="283.5" y="259.5" width="3.7" height="1.2" fill="#d04040" />
<rect x="152" y="40.6" width="6" height="1.4" fill="#c03030" />
<rect x="90" y="36" width="25" height="0.9" fill="#f2e0a0" />
<rect x="90" y="45" width="25" height="0.9" fill="#c8dcea" />
<rect x="150" y="45" width="25" height="0.9" fill="#c8dcea" />
<rect x="90.2" y="48" width="3.6" height="8" fill="#cfe0ec" />
<rect x="90.2" y="56" width="3.6" height="8.6" fill="#9dc3dc" />
<rect x="93.8" y="48" width="3.5" height="7.6" fill="#fbeec0" />
<rect x="93.8" y="55.6" width="3.5" height="9" fill="#f9df8c" />
<rect x="75.9" y="64.6" width="3.6" height="14.3" fill="#f9df8c" />
<rect x="138.9" y="50.9" width="2.9" height="5.9" fill="#9dc3dc" />
<rect x="146" y="48.5" width="3.2" height="8.3" fill="#f9df8c" />
<rect x="168" y="64.8" width="3.9" height="13.5" fill="#9dc3dc" />
<rect x="131.1" y="77.7" width="3" height="7.1" fill="#9dc3dc" />
<rect x="134.7" y="77.7" width="3.6" height="7.1" fill="#f9df8c" />
<rect x="64" y="103.5" width="4.1" height="6.5" fill="#f9df8c" />
<rect x="97.9" y="110.6" width="3.6" height="8.4" fill="#9dc3dc" />
<rect x="101.5" y="110.6" width="3.6" height="8.4" fill="#f9df8c" />
<rect x="94.4" y="132.7" width="2.9" height="4.1" fill="#b8c8c8" />
<rect x="98" y="132.7" width="3.5" height="4.1" fill="#f3e8a8" />
<rect x="105.7" y="130.3" width="3" height="2.4" fill="#c0d8e8" />
<rect x="116.4" y="93.3" width="3.6" height="7.2" fill="#9dc3dc" />
<rect x="124" y="93.3" width="3.5" height="7.2" fill="#f9df8c" />
<rect x="124" y="100.5" width="3.5" height="3" fill="#9dc3dc" />
<rect x="131" y="100" width="3.7" height="4" fill="#f6e8b8" />
<rect x="127.5" y="104.7" width="3" height="5.3" fill="#9dc3dc" />
<rect x="146" y="119" width="3.6" height="3" fill="#9dc3dc" />
<rect x="156.7" y="119" width="3.6" height="3" fill="#f9df8c" />
<rect x="156.7" y="122" width="3.6" height="4.7" fill="#9dc3dc" />
<rect x="168" y="122" width="4.2" height="5.3" fill="#f7e4a0" />
<rect x="127.5" y="127.3" width="3.5" height="4.2" fill="#f3dcc0" />
<rect x="150" y="136.3" width="3.5" height="7.1" fill="#9dc3dc" />
<rect x="160.3" y="136.3" width="4.2" height="7.7" fill="#f9df8c" />
<rect x="72" y="144.8" width="3.9" height="10.1" fill="#f9df8c" />
<rect x="101.5" y="154.9" width="3.6" height="4.8" fill="#a8c8c8" />
<rect x="105.1" y="154.9" width="3.6" height="4.8" fill="#f3e0a0" />
<rect x="64" y="159.7" width="3.8" height="5.9" fill="#9dc3dc" />
<rect x="78.9" y="168.6" width="4.1" height="4.8" fill="#f7e8b0" />
<rect x="108.7" y="173.4" width="3.5" height="3.6" fill="#b0c8e0" />
<rect x="116.4" y="172.8" width="3.6" height="5.3" fill="#f6e4a0" />
<rect x="112.2" y="185.3" width="4.2" height="4.7" fill="#9dc3dc" />
<rect x="87.2" y="190.7" width="3.6" height="3.5" fill="#b0c0c0" />
<rect x="90.8" y="190.7" width="3" height="3.5" fill="#f0e4b0" />
<rect x="164.5" y="144.8" width="3.3" height="9.5" fill="#9dc3dc" />
<rect x="138" y="159.7" width="3.8" height="5.9" fill="#f9df8c" />
<rect x="160.7" y="165" width="3.8" height="4.2" fill="#9dc3dc" />
<rect x="172.2" y="165" width="3.6" height="3.6" fill="#f9df8c" />
<rect x="172.2" y="168.6" width="3.6" height="4.2" fill="#9dc3dc" />
<rect x="164.5" y="177" width="3.5" height="4" fill="#e8ecd0" />
<rect x="153.5" y="177.5" width="3.6" height="2.5" fill="#a8c8b8" />
<rect x="153.5" y="180" width="3.6" height="5.9" fill="#f9df8c" />
<rect x="142.4" y="180.5" width="3.6" height="4.8" fill="#9dc3dc" />
<rect x="119.8" y="185.3" width="4.2" height="5.4" fill="#f6e8b0" />
<rect x="394.2" y="84.2" width="4.3" height="7" fill="#f9df8c" />
<rect x="398.5" y="84.2" width="3.4" height="7" fill="#9dc3dc" />
<defs><marker id="ah" markerWidth="4" markerHeight="4" refX="2" refY="2" orient="auto"><path d="M0,0 L4,2 L0,4 z" fill="#4a3520"/></marker></defs>
<polyline points="90.5,67 93.25,71 96.0,67" fill="none" stroke="#4a3520" stroke-width="1.0"/>
<polyline points="98,121.4 101.0,125.0 104,121.4" fill="none" stroke="#4a3520" stroke-width="1.0"/>
<polyline points="95,138 97.65,141 100.3,138" fill="none" stroke="#4a3520" stroke-width="1.0"/>
<polyline points="131.7,88 134.35,91.6 137.0,88" fill="none" stroke="#4a3520" stroke-width="1.0"/>
<polyline points="102,160.3 105.0,164.3 108,160.3" fill="none" stroke="#4a3520" stroke-width="1.0"/>
<polyline points="112.2,178.7 114.9,182.29999999999998 117.60000000000001,178.7" fill="none" stroke="#4a3520" stroke-width="1.0"/>
<polyline points="87.8,194.8 90.8,199.60000000000002 93.8,194.8" fill="none" stroke="#4a3520" stroke-width="1.0"/>
<polyline points="395,96.2 397.9,100.4 400.8,96.2" fill="none" stroke="#4a3520" stroke-width="1.0"/>
<path d="M144.4,65.8 L140,57.4 M144.4,65.8 L148.4,57.4" fill="none" stroke="#4a3520" stroke-width="0.9" marker-end="url(#ah)"/>
<line x1="144.4" y1="65.8" x2="140" y2="57.4" stroke="#4a3520" stroke-width="0.9" marker-end="url(#ah)"/>
<path d="M156.5,154.9 L152.5,145.4 M156.5,154.9 L160.5,145.4" fill="none" stroke="#4a3520" stroke-width="0.9" marker-end="url(#ah)"/>
<line x1="156.5" y1="154.9" x2="152.5" y2="145.4" stroke="#4a3520" stroke-width="0.9" marker-end="url(#ah)"/>
<path d="M149.4,197.2 L144.2,187 M149.4,197.2 L155,187" fill="none" stroke="#4a3520" stroke-width="0.9" marker-end="url(#ah)"/>
<line x1="149.4" y1="197.2" x2="144.2" y2="187" stroke="#4a3520" stroke-width="0.9" marker-end="url(#ah)"/>
<line x1="81" y1="71.5" x2="166" y2="71.5" stroke="#4a3520" stroke-width="0.8" marker-end="url(#ah)" marker-start="url(#ahs)"/>
<defs><marker id="ahs" markerWidth="4" markerHeight="4" refX="2" refY="2" orient="auto"><path d="M4,0 L0,2 L4,4 z" fill="#4a3520"/></marker></defs>
<text transform="translate(63.85,313.00) rotate(-90)" font-size="4.6" fill="#4e4e4e" textLength="9.2" lengthAdjust="spacingAndGlyphs">52445</text>
<text transform="translate(67.56,313.00) rotate(-90)" font-size="4.6" fill="#4e4e4e" textLength="9.2" lengthAdjust="spacingAndGlyphs">29772</text>
<text transform="translate(71.27,313.00) rotate(-90)" font-size="4.6" fill="#4e4e4e" textLength="9.2" lengthAdjust="spacingAndGlyphs">61750</text>
<text transform="translate(74.97,313.00) rotate(-90)" font-size="4.6" fill="#4e4e4e" textLength="9.2" lengthAdjust="spacingAndGlyphs">95319</text>
<text transform="translate(78.68,313.00) rotate(-90)" font-size="4.6" fill="#4e4e4e" textLength="9.2" lengthAdjust="spacingAndGlyphs">16328</text>
<text transform="translate(82.39,313.00) rotate(-90)" font-size="4.6" fill="#4e4e4e" textLength="9.2" lengthAdjust="spacingAndGlyphs">19494</text>
<text transform="translate(86.10,313.00) rotate(-90)" font-size="4.6" fill="#4e4e4e" textLength="9.2" lengthAdjust="spacingAndGlyphs">80239</text>
<text transform="translate(89.80,313.00) rotate(-90)" font-size="4.6" fill="#4e4e4e" textLength="9.2" lengthAdjust="spacingAndGlyphs">22337</text>
<text transform="translate(93.51,313.00) rotate(-90)" font-size="4.6" fill="#4e4e4e" textLength="9.2" lengthAdjust="spacingAndGlyphs">57931</text>
<text transform="translate(97.22,313.00) rotate(-90)" font-size="4.6" fill="#4e4e4e" textLength="9.2" lengthAdjust="spacingAndGlyphs">86387</text>
<text transform="translate(100.92,313.00) rotate(-90)" font-size="4.6" fill="#4e4e4e" textLength="9.2" lengthAdjust="spacingAndGlyphs">17602</text>
<text transform="translate(104.63,313.00) rotate(-90)" font-size="4.6" fill="#4e4e4e" textLength="9.2" lengthAdjust="spacingAndGlyphs">76510</text>
<text transform="translate(108.34,313.00) rotate(-90)" font-size="4.6" fill="#4e4e4e" textLength="9.2" lengthAdjust="spacingAndGlyphs">38140</text>
<text transform="translate(112.04,313.00) rotate(-90)" font-size="4.6" fill="#4e4e4e" textLength="9.2" lengthAdjust="spacingAndGlyphs">14914</text>
<text transform="translate(115.75,313.00) rotate(-90)" font-size="4.6" fill="#4e4e4e" textLength="9.2" lengthAdjust="spacingAndGlyphs">21265</text>
<text transform="translate(119.46,313.00) rotate(-90)" font-size="4.6" fill="#4e4e4e" textLength="9.2" lengthAdjust="spacingAndGlyphs">66838</text>
<text transform="translate(123.16,313.00) rotate(-90)" font-size="4.6" fill="#4e4e4e" textLength="9.2" lengthAdjust="spacingAndGlyphs">64810</text>
<text transform="translate(126.87,313.00) rotate(-90)" font-size="4.6" fill="#4e4e4e" textLength="9.2" lengthAdjust="spacingAndGlyphs">19156</text>
<text transform="translate(130.58,313.00) rotate(-90)" font-size="4.6" fill="#4e4e4e" textLength="9.2" lengthAdjust="spacingAndGlyphs">41544</text>
<text transform="translate(134.29,313.00) rotate(-90)" font-size="4.6" fill="#4e4e4e" textLength="9.2" lengthAdjust="spacingAndGlyphs">21889</text>
<text transform="translate(137.99,313.00) rotate(-90)" font-size="4.6" fill="#4e4e4e" textLength="9.2" lengthAdjust="spacingAndGlyphs">82226</text>
<text transform="translate(141.70,313.00) rotate(-90)" font-size="4.6" fill="#4e4e4e" textLength="9.2" lengthAdjust="spacingAndGlyphs">65642</text>
<text transform="translate(145.41,313.00) rotate(-90)" font-size="4.6" fill="#4e4e4e" textLength="9.2" lengthAdjust="spacingAndGlyphs">17747</text>
<text transform="translate(149.11,313.00) rotate(-90)" font-size="4.6" fill="#4e4e4e" textLength="9.2" lengthAdjust="spacingAndGlyphs">84115</text>
<text transform="translate(152.82,313.00) rotate(-90)" font-size="4.6" fill="#4e4e4e" textLength="9.2" lengthAdjust="spacingAndGlyphs">26226</text>
<text transform="translate(156.53,313.00) rotate(-90)" font-size="4.6" fill="#4e4e4e" textLength="9.2" lengthAdjust="spacingAndGlyphs">39260</text>
<text transform="translate(160.23,313.00) rotate(-90)" font-size="4.6" fill="#4e4e4e" textLength="9.2" lengthAdjust="spacingAndGlyphs">92657</text>
<text transform="translate(163.94,313.00) rotate(-90)" font-size="4.6" fill="#4e4e4e" textLength="9.2" lengthAdjust="spacingAndGlyphs">92238</text>
<text transform="translate(167.65,313.00) rotate(-90)" font-size="4.6" fill="#4e4e4e" textLength="9.2" lengthAdjust="spacingAndGlyphs">86414</text>
<text transform="translate(171.35,313.00) rotate(-90)" font-size="4.6" fill="#4e4e4e" textLength="9.2" lengthAdjust="spacingAndGlyphs">18108</text>
<text transform="translate(175.06,313.00) rotate(-90)" font-size="4.6" fill="#4e4e4e" textLength="9.2" lengthAdjust="spacingAndGlyphs">85642</text>
<text transform="translate(178.77,313.00) rotate(-90)" font-size="4.6" fill="#4e4e4e" textLength="9.2" lengthAdjust="spacingAndGlyphs">86748</text>
<text transform="translate(182.48,313.00) rotate(-90)" font-size="4.6" fill="#4e4e4e" textLength="9.2" lengthAdjust="spacingAndGlyphs">61993</text>
<text transform="translate(186.18,313.00) rotate(-90)" font-size="4.6" fill="#4e4e4e" textLength="9.2" lengthAdjust="spacingAndGlyphs">16499</text>
<text transform="translate(189.89,313.00) rotate(-90)" font-size="4.6" fill="#4e4e4e" textLength="9.2" lengthAdjust="spacingAndGlyphs">38977</text>
<text transform="translate(193.60,313.00) rotate(-90)" font-size="4.6" fill="#4e4e4e" textLength="9.2" lengthAdjust="spacingAndGlyphs">16105</text>
<text transform="translate(197.30,313.00) rotate(-90)" font-size="4.6" fill="#4e4e4e" textLength="9.2" lengthAdjust="spacingAndGlyphs">82963</text>
<text transform="translate(201.01,313.00) rotate(-90)" font-size="4.6" fill="#4e4e4e" textLength="9.2" lengthAdjust="spacingAndGlyphs">27455</text>
<text transform="translate(204.72,313.00) rotate(-90)" font-size="4.6" fill="#4e4e4e" textLength="9.2" lengthAdjust="spacingAndGlyphs">47959</text>
<text transform="translate(208.42,313.00) rotate(-90)" font-size="4.6" fill="#4e4e4e" textLength="9.2" lengthAdjust="spacingAndGlyphs">64937</text>
<text transform="translate(212.13,313.00) rotate(-90)" font-size="4.6" fill="#4e4e4e" textLength="9.2" lengthAdjust="spacingAndGlyphs">28907</text>
<text transform="translate(215.84,313.00) rotate(-90)" font-size="4.6" fill="#4e4e4e" textLength="9.2" lengthAdjust="spacingAndGlyphs">80868</text>
<text transform="translate(219.54,313.00) rotate(-90)" font-size="4.6" fill="#4e4e4e" textLength="9.2" lengthAdjust="spacingAndGlyphs">25439</text>
<text transform="translate(223.25,313.00) rotate(-90)" font-size="4.6" fill="#4e4e4e" textLength="9.2" lengthAdjust="spacingAndGlyphs">84830</text>
<text transform="translate(226.96,313.00) rotate(-90)" font-size="4.6" fill="#4e4e4e" textLength="9.2" lengthAdjust="spacingAndGlyphs">50433</text>
<text transform="translate(230.67,313.00) rotate(-90)" font-size="4.6" fill="#4e4e4e" textLength="9.2" lengthAdjust="spacingAndGlyphs">83434</text>
<text transform="translate(234.37,313.00) rotate(-90)" font-size="4.6" fill="#4e4e4e" textLength="9.2" lengthAdjust="spacingAndGlyphs">99391</text>
<text transform="translate(238.08,313.00) rotate(-90)" font-size="4.6" fill="#4e4e4e" textLength="9.2" lengthAdjust="spacingAndGlyphs">33688</text>
<text transform="translate(241.79,313.00) rotate(-90)" font-size="4.6" fill="#4e4e4e" textLength="9.2" lengthAdjust="spacingAndGlyphs">23507</text>
<text transform="translate(245.49,313.00) rotate(-90)" font-size="4.6" fill="#4e4e4e" textLength="9.2" lengthAdjust="spacingAndGlyphs">86231</text>
<text transform="translate(249.20,313.00) rotate(-90)" font-size="4.6" fill="#4e4e4e" textLength="9.2" lengthAdjust="spacingAndGlyphs">84868</text>
<text transform="translate(252.91,313.00) rotate(-90)" font-size="4.6" fill="#4e4e4e" textLength="9.2" lengthAdjust="spacingAndGlyphs">93743</text>
<text transform="translate(256.61,313.00) rotate(-90)" font-size="4.6" fill="#4e4e4e" textLength="9.2" lengthAdjust="spacingAndGlyphs">34624</text>
<text transform="translate(260.32,313.00) rotate(-90)" font-size="4.6" fill="#4e4e4e" textLength="9.2" lengthAdjust="spacingAndGlyphs">58810</text>
<text transform="translate(264.03,313.00) rotate(-90)" font-size="4.6" fill="#4e4e4e" textLength="9.2" lengthAdjust="spacingAndGlyphs">22770</text>
<text transform="translate(267.73,313.00) rotate(-90)" font-size="4.6" fill="#4e4e4e" textLength="9.2" lengthAdjust="spacingAndGlyphs">81793</text>
<text transform="translate(271.44,313.00) rotate(-90)" font-size="4.6" fill="#4e4e4e" textLength="9.2" lengthAdjust="spacingAndGlyphs">18229</text>
<text transform="translate(275.15,313.00) rotate(-90)" font-size="4.6" fill="#4e4e4e" textLength="9.2" lengthAdjust="spacingAndGlyphs">83972</text>
<text transform="translate(278.86,313.00) rotate(-90)" font-size="4.6" fill="#4e4e4e" textLength="9.2" lengthAdjust="spacingAndGlyphs">17812</text>
<text transform="translate(282.56,313.00) rotate(-90)" font-size="4.6" fill="#4e4e4e" textLength="9.2" lengthAdjust="spacingAndGlyphs">91134</text>
<text transform="translate(286.27,313.00) rotate(-90)" font-size="4.6" fill="#4e4e4e" textLength="9.2" lengthAdjust="spacingAndGlyphs">36995</text>
<text transform="translate(289.98,313.00) rotate(-90)" font-size="4.6" fill="#4e4e4e" textLength="9.2" lengthAdjust="spacingAndGlyphs">75066</text>
<text transform="translate(293.68,313.00) rotate(-90)" font-size="4.6" fill="#4e4e4e" textLength="9.2" lengthAdjust="spacingAndGlyphs">99181</text>
<text transform="translate(297.39,313.00) rotate(-90)" font-size="4.6" fill="#4e4e4e" textLength="9.2" lengthAdjust="spacingAndGlyphs">79693</text>
<text transform="translate(301.10,313.00) rotate(-90)" font-size="4.6" fill="#4e4e4e" textLength="9.2" lengthAdjust="spacingAndGlyphs">66045</text>
<text transform="translate(304.80,313.00) rotate(-90)" font-size="4.6" fill="#4e4e4e" textLength="9.2" lengthAdjust="spacingAndGlyphs">51175</text>
<text transform="translate(308.51,313.00) rotate(-90)" font-size="4.6" fill="#4e4e4e" textLength="9.2" lengthAdjust="spacingAndGlyphs">71027</text>
<text transform="translate(312.22,313.00) rotate(-90)" font-size="4.6" fill="#4e4e4e" textLength="9.2" lengthAdjust="spacingAndGlyphs">86750</text>
<text transform="translate(315.92,313.00) rotate(-90)" font-size="4.6" fill="#4e4e4e" textLength="9.2" lengthAdjust="spacingAndGlyphs">69399</text>
<text transform="translate(319.63,313.00) rotate(-90)" font-size="4.6" fill="#4e4e4e" textLength="9.2" lengthAdjust="spacingAndGlyphs">57393</text>
<text transform="translate(323.34,313.00) rotate(-90)" font-size="4.6" fill="#4e4e4e" textLength="9.2" lengthAdjust="spacingAndGlyphs">49291</text>
<text transform="translate(327.05,313.00) rotate(-90)" font-size="4.6" fill="#4e4e4e" textLength="9.2" lengthAdjust="spacingAndGlyphs">42561</text>
<text transform="translate(330.75,313.00) rotate(-90)" font-size="4.6" fill="#4e4e4e" textLength="9.2" lengthAdjust="spacingAndGlyphs">33562</text>
<text transform="translate(334.46,313.00) rotate(-90)" font-size="4.6" fill="#4e4e4e" textLength="9.2" lengthAdjust="spacingAndGlyphs">41994</text>
<text transform="translate(338.17,313.00) rotate(-90)" font-size="4.6" fill="#4e4e4e" textLength="9.2" lengthAdjust="spacingAndGlyphs">20728</text>
<text transform="translate(341.87,313.00) rotate(-90)" font-size="4.6" fill="#4e4e4e" textLength="9.2" lengthAdjust="spacingAndGlyphs">85290</text>
<text transform="translate(345.58,313.00) rotate(-90)" font-size="4.6" fill="#4e4e4e" textLength="9.2" lengthAdjust="spacingAndGlyphs">49354</text>
<text transform="translate(349.29,313.00) rotate(-90)" font-size="4.6" fill="#4e4e4e" textLength="9.2" lengthAdjust="spacingAndGlyphs">78838</text>
<text transform="translate(352.99,313.00) rotate(-90)" font-size="4.6" fill="#4e4e4e" textLength="9.2" lengthAdjust="spacingAndGlyphs">74895</text>
<text transform="translate(356.70,313.00) rotate(-90)" font-size="4.6" fill="#4e4e4e" textLength="9.2" lengthAdjust="spacingAndGlyphs">55020</text>
<text transform="translate(360.41,313.00) rotate(-90)" font-size="4.6" fill="#4e4e4e" textLength="9.2" lengthAdjust="spacingAndGlyphs">68829</text>
<text transform="translate(364.11,313.00) rotate(-90)" font-size="4.6" fill="#4e4e4e" textLength="9.2" lengthAdjust="spacingAndGlyphs">47740</text>
<text transform="translate(367.82,313.00) rotate(-90)" font-size="4.6" fill="#4e4e4e" textLength="9.2" lengthAdjust="spacingAndGlyphs">89817</text>
<text transform="translate(371.53,313.00) rotate(-90)" font-size="4.6" fill="#4e4e4e" textLength="9.2" lengthAdjust="spacingAndGlyphs">19594</text>
<text transform="translate(375.24,313.00) rotate(-90)" font-size="4.6" fill="#4e4e4e" textLength="9.2" lengthAdjust="spacingAndGlyphs">25475</text>
<text transform="translate(378.94,313.00) rotate(-90)" font-size="4.6" fill="#4e4e4e" textLength="9.2" lengthAdjust="spacingAndGlyphs">77100</text>
<text transform="translate(382.65,313.00) rotate(-90)" font-size="4.6" fill="#4e4e4e" textLength="9.2" lengthAdjust="spacingAndGlyphs">64804</text>
<text transform="translate(386.36,313.00) rotate(-90)" font-size="4.6" fill="#4e4e4e" textLength="9.2" lengthAdjust="spacingAndGlyphs">31621</text>
<text transform="translate(390.06,313.00) rotate(-90)" font-size="4.6" fill="#4e4e4e" textLength="9.2" lengthAdjust="spacingAndGlyphs">54833</text>
<text transform="translate(393.77,313.00) rotate(-90)" font-size="4.6" fill="#4e4e4e" textLength="9.2" lengthAdjust="spacingAndGlyphs">29920</text>
<text transform="translate(397.48,313.00) rotate(-90)" font-size="4.6" fill="#4e4e4e" textLength="9.2" lengthAdjust="spacingAndGlyphs">74089</text>
<text transform="translate(401.18,313.00) rotate(-90)" font-size="4.6" fill="#4e4e4e" textLength="9.2" lengthAdjust="spacingAndGlyphs">65272</text>
<text transform="translate(404.89,313.00) rotate(-90)" font-size="4.6" fill="#4e4e4e" textLength="9.2" lengthAdjust="spacingAndGlyphs">15138</text>
<text transform="translate(408.60,313.00) rotate(-90)" font-size="4.6" fill="#4e4e4e" textLength="9.2" lengthAdjust="spacingAndGlyphs">97584</text>
<text transform="translate(412.30,313.00) rotate(-90)" font-size="4.6" fill="#4e4e4e" textLength="9.2" lengthAdjust="spacingAndGlyphs">20173</text>
<text transform="translate(416.01,313.00) rotate(-90)" font-size="4.6" fill="#4e4e4e" textLength="9.2" lengthAdjust="spacingAndGlyphs">83148</text>
<text transform="translate(419.72,313.00) rotate(-90)" font-size="4.6" fill="#4e4e4e" textLength="9.2" lengthAdjust="spacingAndGlyphs">85107</text>
<text transform="translate(423.43,313.00) rotate(-90)" font-size="4.6" fill="#4e4e4e" textLength="9.2" lengthAdjust="spacingAndGlyphs">51123</text>
<text transform="translate(427.13,313.00) rotate(-90)" font-size="4.6" fill="#4e4e4e" textLength="9.2" lengthAdjust="spacingAndGlyphs">54580</text>
<text transform="translate(430.84,313.00) rotate(-90)" font-size="4.6" fill="#4e4e4e" textLength="9.2" lengthAdjust="spacingAndGlyphs">55898</text>
<text transform="translate(434.55,313.00) rotate(-90)" font-size="4.6" fill="#4e4e4e" textLength="9.2" lengthAdjust="spacingAndGlyphs">87905</text>
<rect x="40.2" y="35" width="18.7" height="9.2" fill="#111" />
<rect x="50" y="44.2" width="8.9" height="4.8" fill="#111" />
<rect x="50" y="49" width="8.9" height="3" fill="#666" />
<line x1="40.5" y1="44" x2="40.5" y2="203.5" stroke="#999" stroke-width="0.8" />
<line x1="50.2" y1="52" x2="50.2" y2="203.5" stroke="#999" stroke-width="0.8" />
<line x1="58.4" y1="52" x2="58.4" y2="203.5" stroke="#333" stroke-width="0.8" />
<line x1="40.5" y1="93.6" x2="50.2" y2="93.6" stroke="#999" stroke-width="0.8" />
<line x1="50.2" y1="55.5" x2="58.4" y2="55.5" stroke="#8a8a8a" stroke-width="0.8" />
<line x1="50.2" y1="58.6" x2="58.4" y2="58.6" stroke="#8a8a8a" stroke-width="0.8" />
<line x1="50.2" y1="63.9" x2="58.4" y2="63.9" stroke="#8a8a8a" stroke-width="0.8" />
<line x1="50.2" y1="70.2" x2="58.4" y2="70.2" stroke="#8a8a8a" stroke-width="0.8" />
<line x1="50.2" y1="77.5" x2="58.4" y2="77.5" stroke="#8a8a8a" stroke-width="0.8" />
<line x1="50.2" y1="84.9" x2="58.4" y2="84.9" stroke="#8a8a8a" stroke-width="0.8" />
<line x1="50.2" y1="92.2" x2="58.4" y2="92.2" stroke="#8a8a8a" stroke-width="0.8" />
<line x1="50.2" y1="94.3" x2="58.4" y2="94.3" stroke="#8a8a8a" stroke-width="0.8" />
<line x1="50.2" y1="99.6" x2="58.4" y2="99.6" stroke="#8a8a8a" stroke-width="0.8" />
<line x1="50.2" y1="103.8" x2="58.4" y2="103.8" stroke="#8a8a8a" stroke-width="0.8" />
<line x1="50.2" y1="109" x2="58.4" y2="109" stroke="#8a8a8a" stroke-width="0.8" />
<line x1="50.2" y1="114.3" x2="58.4" y2="114.3" stroke="#8a8a8a" stroke-width="0.8" />
<line x1="50.2" y1="117.4" x2="58.4" y2="117.4" stroke="#8a8a8a" stroke-width="0.8" />
<line x1="50.2" y1="123.7" x2="58.4" y2="123.7" stroke="#8a8a8a" stroke-width="0.8" />
<line x1="50.2" y1="127.9" x2="58.4" y2="127.9" stroke="#8a8a8a" stroke-width="0.8" />
<line x1="50.2" y1="132.1" x2="58.4" y2="132.1" stroke="#8a8a8a" stroke-width="0.8" />
<line x1="50.2" y1="136.3" x2="58.4" y2="136.3" stroke="#8a8a8a" stroke-width="0.8" />
<line x1="50.2" y1="141.6" x2="58.4" y2="141.6" stroke="#8a8a8a" stroke-width="0.8" />
<line x1="50.2" y1="145.8" x2="58.4" y2="145.8" stroke="#8a8a8a" stroke-width="0.8" />
<line x1="50.2" y1="151" x2="58.4" y2="151" stroke="#8a8a8a" stroke-width="0.8" />
<line x1="50.2" y1="156.3" x2="58.4" y2="156.3" stroke="#8a8a8a" stroke-width="0.8" />
<line x1="50.2" y1="161.6" x2="58.4" y2="161.6" stroke="#8a8a8a" stroke-width="0.8" />
<line x1="50.2" y1="166.8" x2="58.4" y2="166.8" stroke="#8a8a8a" stroke-width="0.8" />
<line x1="50.2" y1="172.1" x2="58.4" y2="172.1" stroke="#8a8a8a" stroke-width="0.8" />
<line x1="50.2" y1="176.3" x2="58.4" y2="176.3" stroke="#8a8a8a" stroke-width="0.8" />
<line x1="50.2" y1="180.5" x2="58.4" y2="180.5" stroke="#8a8a8a" stroke-width="0.8" />
<line x1="50.2" y1="184.7" x2="58.4" y2="184.7" stroke="#8a8a8a" stroke-width="0.8" />
<line x1="50.2" y1="188" x2="58.4" y2="188" stroke="#8a8a8a" stroke-width="0.8" />
<line x1="50.2" y1="191.5" x2="58.4" y2="191.5" stroke="#8a8a8a" stroke-width="0.8" />
<rect x="50.2" y="194.8" width="8.4" height="25.9" fill="#111" />
<rect x="40.4" y="204.6" width="9.8" height="1.1" fill="#111" />
<rect x="40.4" y="205.7" width="9.8" height="2" fill="#ddd" />
<rect x="40.4" y="207.7" width="9.8" height="1.6" fill="#555" />
<rect x="40.4" y="209.3" width="9.8" height="1.6" fill="#eee" />
<rect x="40.4" y="210.9" width="9.8" height="1.5" fill="#111" />
<rect x="40.4" y="212.4" width="9.8" height="2" fill="#777" />
<rect x="40.4" y="214.4" width="9.8" height="1.6" fill="#ccc" />
<rect x="40.4" y="216" width="9.8" height="2" fill="#777" />
<rect x="40.4" y="218" width="9.8" height="2.7" fill="#111" />
<line x1="50.2" y1="199" x2="58.6" y2="199" stroke="#333" stroke-width="0.4" />
<line x1="50.2" y1="203" x2="58.6" y2="203" stroke="#333" stroke-width="0.4" />
<line x1="50.2" y1="207" x2="58.6" y2="207" stroke="#333" stroke-width="0.4" />
<line x1="50.2" y1="211" x2="58.6" y2="211" stroke="#333" stroke-width="0.4" />
<line x1="50.2" y1="215" x2="58.6" y2="215" stroke="#333" stroke-width="0.4" />
<rect x="40.4" y="223.9" width="18.2" height="7.8" fill="#111" />
<rect x="40.4" y="231.7" width="18.2" height="1.2" fill="#666" />
<rect x="40.4" y="232.9" width="18.2" height="4.3" fill="#111" />
<rect x="40.4" y="237.2" width="18.2" height="1.2" fill="#555" />
<rect x="40.4" y="238.4" width="18.2" height="3.3" fill="#111" />
<rect x="40.4" y="241.7" width="18.2" height="1.7" fill="#bbb" />
<rect x="40.4" y="243.4" width="18.2" height="3" fill="#fafafa" />
<rect x="40.4" y="246.4" width="18.2" height="1.3" fill="#ccc" />
<rect x="40.4" y="247.7" width="18.2" height="3.4" fill="#888" />
<rect x="40.4" y="251.1" width="18.2" height="1.3" fill="#ddd" />
<rect x="40.4" y="252.4" width="18.2" height="2.5" fill="#fafafa" />
<rect x="40.4" y="254.9" width="18.2" height="0.9" fill="#666" />
<rect x="40.4" y="255.8" width="18.2" height="5.5" fill="#d0d0d0" />
<rect x="40.4" y="261.3" width="18.2" height="2.6" fill="#888" />
<rect x="40.4" y="263.9" width="18.2" height="3.4" fill="#1a1a1a" />
<rect x="40.4" y="267.3" width="18.2" height="2.1" fill="#777" />
<rect x="40.4" y="269.4" width="18.2" height="3.4" fill="#f5f5f5" />
<rect x="40.4" y="272.8" width="18.2" height="3" fill="#e0e0e0" />
<rect x="40.4" y="275.8" width="18.2" height="4.3" fill="#aaa" />
<rect x="40.4" y="280.1" width="18.2" height="4.3" fill="#111" />
<rect x="40.4" y="284.4" width="18.2" height="2.1" fill="#444" />
<rect x="40.4" y="286.5" width="18.2" height="3" fill="#888" />
<rect x="40.4" y="289.5" width="18.2" height="3.4" fill="#555" />
<rect x="40.4" y="292.9" width="18.2" height="2.6" fill="#111" />
<rect x="40.4" y="295.5" width="18.2" height="2.5" fill="#444" />
<rect x="40.4" y="298" width="18.2" height="3.4" fill="#111" />
<line x1="58.4" y1="223.9" x2="58.4" y2="301.4" stroke="#222" stroke-width="0.6" />
<line x1="40.4" y1="203.5" x2="40.4" y2="301.4" stroke="#999" stroke-width="0.6" />
<line x1="34.2" y1="191.3" x2="34.2" y2="258.4" stroke="#aaa" stroke-width="0.8" />
<line x1="34.2" y1="191.3" x2="40.4" y2="191.3" stroke="#aaa" stroke-width="0.8" />
<line x1="34.2" y1="258.4" x2="40.4" y2="258.4" stroke="#aaa" stroke-width="0.8" />
<line x1="39.4" y1="178.3" x2="39.4" y2="191.3" stroke="#aaa" stroke-width="0.8" />
<line x1="39.4" y1="257" x2="39.4" y2="270.4" stroke="#aaa" stroke-width="0.8" />
<text x="7.3" y="17.7" font-size="12.8" fill="#111" font-weight="bold"  stroke="#111" stroke-width="0.2">A</text>
<text transform="translate(29.8,102.65) rotate(-90)" font-size="10.3" fill="#333" text-anchor="middle" textLength="108.7" lengthAdjust="spacingAndGlyphs"  stroke="#333" stroke-width="0.12">Resolvable (directional)</text>
<text transform="translate(29.8,242.2) rotate(-90)" font-size="10.3" fill="#333" text-anchor="middle" textLength="97.6" lengthAdjust="spacingAndGlyphs"  stroke="#333" stroke-width="0.12">Unresolvable (prolific)</text>
<text x="441.4" y="50" font-size="8.1" fill="#222" textLength="24.3" lengthAdjust="spacingAndGlyphs"  stroke="#222" stroke-width="0.12">cohort</text>
<rect x="441.4" y="54.9" width="8.6" height="8.2" fill="#e7d8d4" />
<text x="452.6" y="61.2" font-size="7.9" fill="#222" textLength="23.6" lengthAdjust="spacingAndGlyphs"  stroke="#222" stroke-width="0.12">African</text>
<rect x="441.4" y="63.1" width="8.6" height="8.2" fill="#e2486a" />
<text x="452.6" y="70" font-size="7.9" fill="#222" textLength="11.9" lengthAdjust="spacingAndGlyphs"  stroke="#222" stroke-width="0.12">HIV</text>
<rect x="441.4" y="71.2" width="8.6" height="8.2" fill="#6cbb3c" />
<text x="452.6" y="77.9" font-size="7.9" fill="#222" textLength="28.9" lengthAdjust="spacingAndGlyphs"  stroke="#222" stroke-width="0.12">sporadic</text>
<text x="441.4" y="93.8" font-size="8.1" fill="#222" textLength="15.1" lengthAdjust="spacingAndGlyphs"  stroke="#222" stroke-width="0.12">EBV</text>
<rect x="441.4" y="99.2" width="8.6" height="8.2" fill="#eaa3cf" />
<text x="452.6" y="105.4" font-size="7.9" fill="#222" textLength="30.8" lengthAdjust="spacingAndGlyphs"  stroke="#222" stroke-width="0.12">Negative</text>
<rect x="441.4" y="107.2" width="8.6" height="8.2" fill="#8b1a5c" />
<text x="452.6" y="114.2" font-size="7.9" fill="#222" textLength="26.2" lengthAdjust="spacingAndGlyphs"  stroke="#222" stroke-width="0.12">Positive</text>
<text x="440.8" y="134.2" font-size="8.1" fill="#222" textLength="68.3" lengthAdjust="spacingAndGlyphs"  stroke="#222" stroke-width="0.12">Status in Raw Data</text>
<rect x="440.8" y="137" width="8" height="8" fill="#fde49a" />
<text x="451.8" y="142.2" font-size="7.9" fill="#222" textLength="61.3" lengthAdjust="spacingAndGlyphs"  stroke="#222" stroke-width="0.12">data contamination</text>
<rect x="440.8" y="144.7" width="8" height="8" fill="#cc1f1f" />
<text x="451.8" y="151.2" font-size="7.9" fill="#222" textLength="49.3" lengthAdjust="spacingAndGlyphs"  stroke="#222" stroke-width="0.12">uncorroborated</text>
<rect x="440.8" y="152.7" width="8" height="8" fill="#a3c4dc" />
<text x="451.8" y="160.1" font-size="7.9" fill="#222" textLength="41.3" lengthAdjust="spacingAndGlyphs"  stroke="#222" stroke-width="0.12">corroborated</text>
<rect x="440.3" y="179.5" width="11.4" height="19" fill="#d7d2de" />
<text x="457.8" y="181.5" font-size="7.6" fill="#222" textLength="42" lengthAdjust="spacingAndGlyphs"  stroke="#222" stroke-width="0.12">Genome with</text>
<text x="457.8" y="190" font-size="7.6" fill="#222" textLength="27.1" lengthAdjust="spacingAndGlyphs"  stroke="#222" stroke-width="0.12">primarily</text>
<text x="457.8" y="198.5" font-size="7.6" fill="#222" textLength="39.7" lengthAdjust="spacingAndGlyphs"  stroke="#222" stroke-width="0.12">unresolvable</text>
<text x="457.8" y="206.9" font-size="7.6" fill="#222" textLength="45.1" lengthAdjust="spacingAndGlyphs"  stroke="#222" stroke-width="0.12">contamination</text>
<text x="457.8" y="214.9" font-size="7.6" fill="#222" textLength="24" lengthAdjust="spacingAndGlyphs"  stroke="#222" stroke-width="0.12">(n = 17)</text>
<rect x="440.3" y="233.1" width="11.1" height="18.4" fill="#f1f5e1" />
<text x="455.2" y="231.1" font-size="7.6" fill="#222" textLength="43.1" lengthAdjust="spacingAndGlyphs"  stroke="#222" stroke-width="0.12">Genome with</text>
<text x="455.2" y="239.7" font-size="7.6" fill="#222" textLength="27.6" lengthAdjust="spacingAndGlyphs"  stroke="#222" stroke-width="0.12">primarily</text>
<text x="455.2" y="248" font-size="7.6" fill="#222" textLength="33.1" lengthAdjust="spacingAndGlyphs"  stroke="#222" stroke-width="0.12">directional</text>
<text x="455.2" y="256.5" font-size="7.6" fill="#222" textLength="44.6" lengthAdjust="spacingAndGlyphs"  stroke="#222" stroke-width="0.12">contamination</text>
<text x="455.2" y="264.6" font-size="7.6" fill="#222" textLength="24.6" lengthAdjust="spacingAndGlyphs"  stroke="#222" stroke-width="0.12">(n = 27)</text>
<rect x="440.3" y="280" width="11.1" height="16.2" fill="#fbe4ea" />
<text x="455.2" y="281.2" font-size="7.6" fill="#222" textLength="43.1" lengthAdjust="spacingAndGlyphs"  stroke="#222" stroke-width="0.12">Genome with</text>
<text x="455.2" y="290" font-size="7.6" fill="#222" textLength="47.3" lengthAdjust="spacingAndGlyphs"  stroke="#222" stroke-width="0.12">zero mutations</text>
<text x="455.2" y="297.7" font-size="7.6" fill="#222" textLength="42" lengthAdjust="spacingAndGlyphs"  stroke="#222" stroke-width="0.12">corroborated</text>
<text x="8.3" y="346.1" font-size="11.6" fill="#111" font-weight="bold"  stroke="#111" stroke-width="0.2">B</text>
<rect x="62.5" y="355.5" width="3.2" height="67.2" fill="#e8d8d5" />
<rect x="66.2" y="360.9" width="3.2" height="61.8" fill="#e8d8d5" />
<rect x="69.91" y="352.2" width="3.2" height="70.5" fill="#e8d8d5" />
<rect x="73.61" y="341.1" width="3.2" height="81.6" fill="#e8d8d5" />
<rect x="77.32" y="352.2" width="3.2" height="70.5" fill="#e8d8d5" />
<rect x="81.03" y="354.9" width="3.2" height="67.8" fill="#e8d8d5" />
<rect x="84.73" y="341.7" width="3.2" height="81" fill="#e8d8d5" />
<rect x="88.44" y="351" width="3.2" height="71.7" fill="#e8d8d5" />
<rect x="92.14" y="339.9" width="3.2" height="82.8" fill="#e8d8d5" />
<rect x="95.84" y="354.3" width="3.2" height="68.4" fill="#e8d8d5" />
<rect x="99.55" y="342.3" width="3.2" height="80.4" fill="#e8d8d5" />
<rect x="103.25" y="351.6" width="3.2" height="71.1" fill="#e8d8d5" />
<rect x="106.96" y="358.2" width="3.2" height="64.5" fill="#e8d8d5" />
<rect x="110.66" y="343.2" width="3.2" height="79.5" fill="#e8d8d5" />
<rect x="114.37" y="352.2" width="3.2" height="70.5" fill="#e8d8d5" />
<rect x="118.08" y="341.7" width="3.2" height="81" fill="#e8d8d5" />
<rect x="121.78" y="346.5" width="3.2" height="76.2" fill="#e8d8d5" />
<rect x="125.48" y="352.2" width="3.2" height="70.5" fill="#e8d8d5" />
<rect x="129.19" y="350.4" width="3.2" height="72.3" fill="#e8d8d5" />
<rect x="132.89" y="349.8" width="3.2" height="72.9" fill="#e8d8d5" />
<rect x="136.6" y="379.8" width="3.2" height="42.9" fill="#e8d8d5" />
<rect x="140.31" y="346.5" width="3.2" height="76.2" fill="#e8d8d5" />
<rect x="144.01" y="363.6" width="3.2" height="59.1" fill="#e8d8d5" />
<rect x="147.72" y="339.9" width="3.2" height="82.8" fill="#e8d8d5" />
<rect x="151.42" y="367.5" width="3.2" height="55.2" fill="#e8d8d5" />
<rect x="155.12" y="379.8" width="3.2" height="42.9" fill="#e8d8d5" />
<rect x="158.83" y="341.1" width="3.2" height="81.6" fill="#e8d8d5" />
<rect x="162.53" y="341.7" width="3.2" height="81" fill="#e8d8d5" />
<rect x="166.24" y="343.8" width="3.2" height="78.9" fill="#e8d8d5" />
<rect x="169.94" y="354.9" width="3.2" height="67.8" fill="#e8d8d5" />
<rect x="173.65" y="364.2" width="3.2" height="58.5" fill="#e8d8d5" />
<rect x="177.36" y="364.2" width="3.2" height="58.5" fill="#e8d8d5" />
<rect x="181.06" y="393.9" width="3.2" height="28.8" fill="#e2486a" />
<circle cx="182.66" cy="393.9" r="1.1" fill="#222"/>
<rect x="184.76" y="394.8" width="3.2" height="27.9" fill="#e2486a" />
<rect x="188.47" y="400.2" width="3.2" height="22.5" fill="#e2486a" />
<rect x="192.18" y="399" width="3.2" height="23.7" fill="#e2486a" />
<rect x="195.88" y="392.4" width="3.2" height="30.3" fill="#e2486a" />
<circle cx="197.48" cy="392.4" r="1.1" fill="#222"/>
<rect x="199.59" y="415.8" width="3.2" height="6.9" fill="#e2486a" />
<rect x="203.29" y="383.7" width="3.2" height="39" fill="#e2486a" />
<circle cx="204.89" cy="383.7" r="1.1" fill="#222"/>
<rect x="207" y="393.3" width="3.2" height="29.4" fill="#e2486a" />
<rect x="210.7" y="386.4" width="3.2" height="36.3" fill="#e2486a" />
<circle cx="212.3" cy="386.4" r="1.1" fill="#222"/>
<rect x="214.41" y="365.7" width="3.2" height="57" fill="#6dbb3f" />
<rect x="214.6" y="365.9" width="2.8" height="56.8" fill="none" stroke="#58a030" stroke-width="0.4"/>
<rect x="218.11" y="350.7" width="3.2" height="72" fill="#6dbb3f" />
<rect x="218.31" y="350.9" width="2.8" height="71.8" fill="none" stroke="#58a030" stroke-width="0.4"/>
<rect x="221.81" y="384" width="3.2" height="38.7" fill="#6dbb3f" />
<rect x="222.01" y="384.2" width="2.8" height="38.5" fill="none" stroke="#58a030" stroke-width="0.4"/>
<rect x="225.52" y="382.5" width="3.2" height="40.2" fill="#6dbb3f" />
<rect x="225.72" y="382.7" width="2.8" height="40" fill="none" stroke="#58a030" stroke-width="0.4"/>
<rect x="229.22" y="354.6" width="3.2" height="68.1" fill="#6dbb3f" />
<rect x="229.42" y="354.8" width="2.8" height="67.9" fill="none" stroke="#58a030" stroke-width="0.4"/>
<rect x="232.93" y="382.8" width="3.2" height="39.9" fill="#6dbb3f" />
<rect x="233.13" y="383" width="2.8" height="39.7" fill="none" stroke="#58a030" stroke-width="0.4"/>
<rect x="236.63" y="385.8" width="3.2" height="36.9" fill="#6dbb3f" />
<rect x="236.83" y="386" width="2.8" height="36.7" fill="none" stroke="#58a030" stroke-width="0.4"/>
<rect x="240.34" y="406.2" width="3.2" height="16.5" fill="#6dbb3f" />
<rect x="240.54" y="406.4" width="2.8" height="16.3" fill="none" stroke="#58a030" stroke-width="0.4"/>
<rect x="244.05" y="381" width="3.2" height="41.7" fill="#6dbb3f" />
<rect x="244.25" y="381.2" width="2.8" height="41.5" fill="none" stroke="#58a030" stroke-width="0.4"/>
<rect x="247.75" y="404.7" width="3.2" height="18" fill="#6dbb3f" />
<rect x="247.95" y="404.9" width="2.8" height="17.8" fill="none" stroke="#58a030" stroke-width="0.4"/>
<rect x="251.46" y="401.7" width="3.2" height="21" fill="#6dbb3f" />
<rect x="251.66" y="401.9" width="2.8" height="20.8" fill="none" stroke="#58a030" stroke-width="0.4"/>
<rect x="255.16" y="387.9" width="3.2" height="34.8" fill="#6dbb3f" />
<rect x="255.36" y="388.1" width="2.8" height="34.6" fill="none" stroke="#58a030" stroke-width="0.4"/>
<circle cx="256.76" cy="387.9" r="1.1" fill="#222"/>
<rect x="258.87" y="411.3" width="3.2" height="11.4" fill="#6dbb3f" />
<rect x="259.06" y="411.5" width="2.8" height="11.2" fill="none" stroke="#58a030" stroke-width="0.4"/>
<rect x="262.57" y="401.1" width="3.2" height="21.6" fill="#6dbb3f" />
<rect x="262.77" y="401.3" width="2.8" height="21.4" fill="none" stroke="#58a030" stroke-width="0.4"/>
<circle cx="264.17" cy="401.1" r="1.1" fill="#222"/>
<rect x="266.27" y="393.9" width="3.2" height="28.8" fill="#6dbb3f" />
<rect x="266.47" y="394.1" width="2.8" height="28.6" fill="none" stroke="#58a030" stroke-width="0.4"/>
<circle cx="267.88" cy="393.9" r="1.1" fill="#222"/>
<rect x="269.98" y="420.6" width="3.2" height="2.1" fill="#6dbb3f" />
<rect x="270.18" y="420.8" width="2.8" height="1.9" fill="none" stroke="#58a030" stroke-width="0.4"/>
<circle cx="271.58" cy="420.6" r="1.1" fill="#222"/>
<rect x="273.69" y="384" width="3.2" height="38.7" fill="#6dbb3f" />
<rect x="273.88" y="384.2" width="2.8" height="38.5" fill="none" stroke="#58a030" stroke-width="0.4"/>
<circle cx="275.29" cy="384" r="1.1" fill="#222"/>
<rect x="277.39" y="421.2" width="3.2" height="1.5" fill="#6dbb3f" />
<rect x="277.59" y="421.4" width="2.8" height="1.3" fill="none" stroke="#58a030" stroke-width="0.4"/>
<circle cx="278.99" cy="421.2" r="1.1" fill="#222"/>
<rect x="281.1" y="406.5" width="3.2" height="16.2" fill="#6dbb3f" />
<rect x="281.3" y="406.7" width="2.8" height="16" fill="none" stroke="#58a030" stroke-width="0.4"/>
<circle cx="282.7" cy="406.5" r="1.1" fill="#222"/>
<rect x="284.8" y="394.5" width="3.2" height="28.2" fill="#6dbb3f" />
<rect x="285" y="394.7" width="2.8" height="28" fill="none" stroke="#58a030" stroke-width="0.4"/>
<circle cx="286.4" cy="394.5" r="1.1" fill="#222"/>
<rect x="288.5" y="402.9" width="3.2" height="19.8" fill="#6dbb3f" />
<rect x="288.7" y="403.1" width="2.8" height="19.6" fill="none" stroke="#58a030" stroke-width="0.4"/>
<circle cx="290.11" cy="402.9" r="1.1" fill="#222"/>
<rect x="292.21" y="418.5" width="3.2" height="4.2" fill="#6dbb3f" />
<rect x="292.41" y="418.7" width="2.8" height="4" fill="none" stroke="#58a030" stroke-width="0.4"/>
<circle cx="293.81" cy="418.5" r="1.1" fill="#222"/>
<rect x="295.91" y="405.3" width="3.2" height="17.4" fill="#6dbb3f" />
<rect x="296.11" y="405.5" width="2.8" height="17.2" fill="none" stroke="#58a030" stroke-width="0.4"/>
<circle cx="297.51" cy="405.3" r="1.1" fill="#222"/>
<rect x="299.62" y="403.5" width="3.2" height="19.2" fill="#6dbb3f" />
<rect x="299.82" y="403.7" width="2.8" height="19" fill="none" stroke="#58a030" stroke-width="0.4"/>
<rect x="303.33" y="387.3" width="3.2" height="35.4" fill="#6dbb3f" />
<rect x="303.53" y="387.5" width="2.8" height="35.2" fill="none" stroke="#58a030" stroke-width="0.4"/>
<rect x="307.03" y="394.5" width="3.2" height="28.2" fill="#6dbb3f" />
<rect x="307.23" y="394.7" width="2.8" height="28" fill="none" stroke="#58a030" stroke-width="0.4"/>
<circle cx="308.63" cy="394.5" r="1.1" fill="#222"/>
<rect x="310.74" y="384" width="3.2" height="38.7" fill="#6dbb3f" />
<rect x="310.94" y="384.2" width="2.8" height="38.5" fill="none" stroke="#58a030" stroke-width="0.4"/>
<rect x="314.44" y="373.2" width="3.2" height="49.5" fill="#6dbb3f" />
<rect x="314.64" y="373.4" width="2.8" height="49.3" fill="none" stroke="#58a030" stroke-width="0.4"/>
<rect x="318.14" y="417" width="3.2" height="5.7" fill="#6dbb3f" />
<rect x="318.34" y="417.2" width="2.8" height="5.5" fill="none" stroke="#58a030" stroke-width="0.4"/>
<rect x="321.85" y="360.6" width="3.2" height="62.1" fill="#6dbb3f" />
<rect x="322.05" y="360.8" width="2.8" height="61.9" fill="none" stroke="#58a030" stroke-width="0.4"/>
<rect x="325.56" y="368.4" width="3.2" height="54.3" fill="#6dbb3f" />
<rect x="325.75" y="368.6" width="2.8" height="54.1" fill="none" stroke="#58a030" stroke-width="0.4"/>
<rect x="329.26" y="371.7" width="3.2" height="51" fill="#6dbb3f" />
<rect x="329.46" y="371.9" width="2.8" height="50.8" fill="none" stroke="#58a030" stroke-width="0.4"/>
<circle cx="330.86" cy="371.7" r="1.1" fill="#222"/>
<rect x="332.97" y="418.5" width="3.2" height="4.2" fill="#6dbb3f" />
<rect x="333.17" y="418.7" width="2.8" height="4" fill="none" stroke="#58a030" stroke-width="0.4"/>
<rect x="336.67" y="392.4" width="3.2" height="30.3" fill="#6dbb3f" />
<rect x="336.87" y="392.6" width="2.8" height="30.1" fill="none" stroke="#58a030" stroke-width="0.4"/>
<rect x="340.38" y="386.4" width="3.2" height="36.3" fill="#6dbb3f" />
<rect x="340.57" y="386.6" width="2.8" height="36.1" fill="none" stroke="#58a030" stroke-width="0.4"/>
<rect x="344.08" y="387.9" width="3.2" height="34.8" fill="#6dbb3f" />
<rect x="344.28" y="388.1" width="2.8" height="34.6" fill="none" stroke="#58a030" stroke-width="0.4"/>
<rect x="347.79" y="386.7" width="3.2" height="36" fill="#6dbb3f" />
<rect x="347.99" y="386.9" width="2.8" height="35.8" fill="none" stroke="#58a030" stroke-width="0.4"/>
<rect x="351.49" y="394.2" width="3.2" height="28.5" fill="#6dbb3f" />
<rect x="351.69" y="394.4" width="2.8" height="28.3" fill="none" stroke="#58a030" stroke-width="0.4"/>
<rect x="355.19" y="396.3" width="3.2" height="26.4" fill="#6dbb3f" />
<rect x="355.39" y="396.5" width="2.8" height="26.2" fill="none" stroke="#58a030" stroke-width="0.4"/>
<rect x="358.9" y="385.8" width="3.2" height="36.9" fill="#6dbb3f" />
<rect x="359.1" y="386" width="2.8" height="36.7" fill="none" stroke="#58a030" stroke-width="0.4"/>
<rect x="362.61" y="412.2" width="3.2" height="10.5" fill="#6dbb3f" />
<rect x="362.81" y="412.4" width="2.8" height="10.3" fill="none" stroke="#58a030" stroke-width="0.4"/>
<rect x="366.31" y="416.1" width="3.2" height="6.6" fill="#6dbb3f" />
<rect x="366.51" y="416.3" width="2.8" height="6.4" fill="none" stroke="#58a030" stroke-width="0.4"/>
<rect x="370.01" y="346.5" width="3.2" height="76.2" fill="#6dbb3f" />
<rect x="370.21" y="346.7" width="2.8" height="76" fill="none" stroke="#58a030" stroke-width="0.4"/>
<rect x="373.72" y="405.6" width="3.2" height="17.1" fill="#6dbb3f" />
<rect x="373.92" y="405.8" width="2.8" height="16.9" fill="none" stroke="#58a030" stroke-width="0.4"/>
<rect x="377.43" y="392.1" width="3.2" height="30.6" fill="#6dbb3f" />
<rect x="377.62" y="392.3" width="2.8" height="30.4" fill="none" stroke="#58a030" stroke-width="0.4"/>
<rect x="381.13" y="378.9" width="3.2" height="43.8" fill="#6dbb3f" />
<rect x="381.33" y="379.1" width="2.8" height="43.6" fill="none" stroke="#58a030" stroke-width="0.4"/>
<rect x="384.83" y="389.4" width="3.2" height="33.3" fill="#6dbb3f" />
<rect x="385.03" y="389.6" width="2.8" height="33.1" fill="none" stroke="#58a030" stroke-width="0.4"/>
<rect x="388.54" y="384" width="3.2" height="38.7" fill="#6dbb3f" />
<rect x="388.74" y="384.2" width="2.8" height="38.5" fill="none" stroke="#58a030" stroke-width="0.4"/>
<rect x="392.25" y="398.1" width="3.2" height="24.6" fill="#6dbb3f" />
<rect x="392.44" y="398.3" width="2.8" height="24.4" fill="none" stroke="#58a030" stroke-width="0.4"/>
<rect x="395.95" y="342.9" width="3.2" height="79.8" fill="#6dbb3f" />
<rect x="396.15" y="343.1" width="2.8" height="79.6" fill="none" stroke="#58a030" stroke-width="0.4"/>
<rect x="399.66" y="354" width="3.2" height="68.7" fill="#6dbb3f" />
<rect x="399.86" y="354.2" width="2.8" height="68.5" fill="none" stroke="#58a030" stroke-width="0.4"/>
<rect x="403.36" y="398.1" width="3.2" height="24.6" fill="#6dbb3f" />
<rect x="403.56" y="398.3" width="2.8" height="24.4" fill="none" stroke="#58a030" stroke-width="0.4"/>
<rect x="407.06" y="404.7" width="3.2" height="18" fill="#6dbb3f" />
<rect x="407.26" y="404.9" width="2.8" height="17.8" fill="none" stroke="#58a030" stroke-width="0.4"/>
<rect x="410.77" y="347.4" width="3.2" height="75.3" fill="#6dbb3f" />
<rect x="410.97" y="347.6" width="2.8" height="75.1" fill="none" stroke="#58a030" stroke-width="0.4"/>
<rect x="414.48" y="405.9" width="3.2" height="16.8" fill="#6dbb3f" />
<rect x="414.68" y="406.1" width="2.8" height="16.6" fill="none" stroke="#58a030" stroke-width="0.4"/>
<circle cx="416.08" cy="405.9" r="1.1" fill="#222"/>
<rect x="418.18" y="409.2" width="3.2" height="13.5" fill="#6dbb3f" />
<rect x="418.38" y="409.4" width="2.8" height="13.3" fill="none" stroke="#58a030" stroke-width="0.4"/>
<rect x="421.88" y="411.9" width="3.2" height="10.8" fill="#6dbb3f" />
<rect x="422.08" y="412.1" width="2.8" height="10.6" fill="none" stroke="#58a030" stroke-width="0.4"/>
<rect x="425.59" y="407.4" width="3.2" height="15.3" fill="#6dbb3f" />
<rect x="425.79" y="407.6" width="2.8" height="15.1" fill="none" stroke="#58a030" stroke-width="0.4"/>
<circle cx="427.19" cy="407.4" r="1.1" fill="#222"/>
<rect x="429.3" y="386.4" width="3.2" height="36.3" fill="#6dbb3f" />
<rect x="429.5" y="386.6" width="2.8" height="36.1" fill="none" stroke="#58a030" stroke-width="0.4"/>
<rect x="433" y="410.4" width="3.2" height="12.3" fill="#6dbb3f" />
<rect x="433.2" y="410.6" width="2.8" height="12.1" fill="none" stroke="#58a030" stroke-width="0.4"/>
<circle cx="434.6" cy="410.4" r="1.1" fill="#222"/>
<line x1="60.6" y1="335.6" x2="60.6" y2="427.4" stroke="#2a2a2a" stroke-width="1.2" />
<line x1="60" y1="426.9" x2="437" y2="426.9" stroke="#2a2a2a" stroke-width="1.2" />
<line x1="57.3" y1="422.7" x2="60.6" y2="422.7" stroke="#2a2a2a" stroke-width="1" />
<text x="53.8" y="424.95" font-size="6.5" fill="#333" text-anchor="end" textLength="2.8" lengthAdjust="spacingAndGlyphs"  stroke="#333" stroke-width="0.12">0</text>
<line x1="57.3" y1="392.7" x2="60.6" y2="392.7" stroke="#2a2a2a" stroke-width="1" />
<text x="53.8" y="394.95" font-size="6.5" fill="#333" text-anchor="end" textLength="6" lengthAdjust="spacingAndGlyphs"  stroke="#333" stroke-width="0.12">10</text>
<line x1="57.3" y1="362.7" x2="60.6" y2="362.7" stroke="#2a2a2a" stroke-width="1" />
<text x="53.8" y="364.95" font-size="6.5" fill="#333" text-anchor="end" textLength="6" lengthAdjust="spacingAndGlyphs"  stroke="#333" stroke-width="0.12">20</text>
<line x1="64.1" y1="426.9" x2="64.1" y2="430" stroke="#2a2a2a" stroke-width="0.9" />
<line x1="67.8" y1="426.9" x2="67.8" y2="430" stroke="#2a2a2a" stroke-width="0.9" />
<line x1="71.51" y1="426.9" x2="71.51" y2="430" stroke="#2a2a2a" stroke-width="0.9" />
<line x1="75.21" y1="426.9" x2="75.21" y2="430" stroke="#2a2a2a" stroke-width="0.9" />
<line x1="78.92" y1="426.9" x2="78.92" y2="430" stroke="#2a2a2a" stroke-width="0.9" />
<line x1="82.62" y1="426.9" x2="82.62" y2="430" stroke="#2a2a2a" stroke-width="0.9" />
<line x1="86.33" y1="426.9" x2="86.33" y2="430" stroke="#2a2a2a" stroke-width="0.9" />
<line x1="90.03" y1="426.9" x2="90.03" y2="430" stroke="#2a2a2a" stroke-width="0.9" />
<line x1="93.74" y1="426.9" x2="93.74" y2="430" stroke="#2a2a2a" stroke-width="0.9" />
<line x1="97.44" y1="426.9" x2="97.44" y2="430" stroke="#2a2a2a" stroke-width="0.9" />
<line x1="101.15" y1="426.9" x2="101.15" y2="430" stroke="#2a2a2a" stroke-width="0.9" />
<line x1="104.85" y1="426.9" x2="104.85" y2="430" stroke="#2a2a2a" stroke-width="0.9" />
<line x1="108.56" y1="426.9" x2="108.56" y2="430" stroke="#2a2a2a" stroke-width="0.9" />
<line x1="112.26" y1="426.9" x2="112.26" y2="430" stroke="#2a2a2a" stroke-width="0.9" />
<line x1="115.97" y1="426.9" x2="115.97" y2="430" stroke="#2a2a2a" stroke-width="0.9" />
<line x1="119.67" y1="426.9" x2="119.67" y2="430" stroke="#2a2a2a" stroke-width="0.9" />
<line x1="123.38" y1="426.9" x2="123.38" y2="430" stroke="#2a2a2a" stroke-width="0.9" />
<line x1="127.08" y1="426.9" x2="127.08" y2="430" stroke="#2a2a2a" stroke-width="0.9" />
<line x1="130.79" y1="426.9" x2="130.79" y2="430" stroke="#2a2a2a" stroke-width="0.9" />
<line x1="134.49" y1="426.9" x2="134.49" y2="430" stroke="#2a2a2a" stroke-width="0.9" />
<line x1="138.2" y1="426.9" x2="138.2" y2="430" stroke="#2a2a2a" stroke-width="0.9" />
<line x1="141.91" y1="426.9" x2="141.91" y2="430" stroke="#2a2a2a" stroke-width="0.9" />
<line x1="145.61" y1="426.9" x2="145.61" y2="430" stroke="#2a2a2a" stroke-width="0.9" />
<line x1="149.31" y1="426.9" x2="149.31" y2="430" stroke="#2a2a2a" stroke-width="0.9" />
<line x1="153.02" y1="426.9" x2="153.02" y2="430" stroke="#2a2a2a" stroke-width="0.9" />
<line x1="156.72" y1="426.9" x2="156.72" y2="430" stroke="#2a2a2a" stroke-width="0.9" />
<line x1="160.43" y1="426.9" x2="160.43" y2="430" stroke="#2a2a2a" stroke-width="0.9" />
<line x1="164.13" y1="426.9" x2="164.13" y2="430" stroke="#2a2a2a" stroke-width="0.9" />
<line x1="167.84" y1="426.9" x2="167.84" y2="430" stroke="#2a2a2a" stroke-width="0.9" />
<line x1="171.54" y1="426.9" x2="171.54" y2="430" stroke="#2a2a2a" stroke-width="0.9" />
<line x1="175.25" y1="426.9" x2="175.25" y2="430" stroke="#2a2a2a" stroke-width="0.9" />
<line x1="178.96" y1="426.9" x2="178.96" y2="430" stroke="#2a2a2a" stroke-width="0.9" />
<line x1="182.66" y1="426.9" x2="182.66" y2="430" stroke="#2a2a2a" stroke-width="0.9" />
<line x1="186.36" y1="426.9" x2="186.36" y2="430" stroke="#2a2a2a" stroke-width="0.9" />
<line x1="190.07" y1="426.9" x2="190.07" y2="430" stroke="#2a2a2a" stroke-width="0.9" />
<line x1="193.78" y1="426.9" x2="193.78" y2="430" stroke="#2a2a2a" stroke-width="0.9" />
<line x1="197.48" y1="426.9" x2="197.48" y2="430" stroke="#2a2a2a" stroke-width="0.9" />
<line x1="201.19" y1="426.9" x2="201.19" y2="430" stroke="#2a2a2a" stroke-width="0.9" />
<line x1="204.89" y1="426.9" x2="204.89" y2="430" stroke="#2a2a2a" stroke-width="0.9" />
<line x1="208.59" y1="426.9" x2="208.59" y2="430" stroke="#2a2a2a" stroke-width="0.9" />
<line x1="212.3" y1="426.9" x2="212.3" y2="430" stroke="#2a2a2a" stroke-width="0.9" />
<line x1="216" y1="426.9" x2="216" y2="430" stroke="#2a2a2a" stroke-width="0.9" />
<line x1="219.71" y1="426.9" x2="219.71" y2="430" stroke="#2a2a2a" stroke-width="0.9" />
<line x1="223.41" y1="426.9" x2="223.41" y2="430" stroke="#2a2a2a" stroke-width="0.9" />
<line x1="227.12" y1="426.9" x2="227.12" y2="430" stroke="#2a2a2a" stroke-width="0.9" />
<line x1="230.82" y1="426.9" x2="230.82" y2="430" stroke="#2a2a2a" stroke-width="0.9" />
<line x1="234.53" y1="426.9" x2="234.53" y2="430" stroke="#2a2a2a" stroke-width="0.9" />
<line x1="238.23" y1="426.9" x2="238.23" y2="430" stroke="#2a2a2a" stroke-width="0.9" />
<line x1="241.94" y1="426.9" x2="241.94" y2="430" stroke="#2a2a2a" stroke-width="0.9" />
<line x1="245.65" y1="426.9" x2="245.65" y2="430" stroke="#2a2a2a" stroke-width="0.9" />
<line x1="249.35" y1="426.9" x2="249.35" y2="430" stroke="#2a2a2a" stroke-width="0.9" />
<line x1="253.06" y1="426.9" x2="253.06" y2="430" stroke="#2a2a2a" stroke-width="0.9" />
<line x1="256.76" y1="426.9" x2="256.76" y2="430" stroke="#2a2a2a" stroke-width="0.9" />
<line x1="260.47" y1="426.9" x2="260.47" y2="430" stroke="#2a2a2a" stroke-width="0.9" />
<line x1="264.17" y1="426.9" x2="264.17" y2="430" stroke="#2a2a2a" stroke-width="0.9" />
<line x1="267.88" y1="426.9" x2="267.88" y2="430" stroke="#2a2a2a" stroke-width="0.9" />
<line x1="271.58" y1="426.9" x2="271.58" y2="430" stroke="#2a2a2a" stroke-width="0.9" />
<line x1="275.29" y1="426.9" x2="275.29" y2="430" stroke="#2a2a2a" stroke-width="0.9" />
<line x1="278.99" y1="426.9" x2="278.99" y2="430" stroke="#2a2a2a" stroke-width="0.9" />
<line x1="282.7" y1="426.9" x2="282.7" y2="430" stroke="#2a2a2a" stroke-width="0.9" />
<line x1="286.4" y1="426.9" x2="286.4" y2="430" stroke="#2a2a2a" stroke-width="0.9" />
<line x1="290.11" y1="426.9" x2="290.11" y2="430" stroke="#2a2a2a" stroke-width="0.9" />
<line x1="293.81" y1="426.9" x2="293.81" y2="430" stroke="#2a2a2a" stroke-width="0.9" />
<line x1="297.51" y1="426.9" x2="297.51" y2="430" stroke="#2a2a2a" stroke-width="0.9" />
<line x1="301.22" y1="426.9" x2="301.22" y2="430" stroke="#2a2a2a" stroke-width="0.9" />
<line x1="304.93" y1="426.9" x2="304.93" y2="430" stroke="#2a2a2a" stroke-width="0.9" />
<line x1="308.63" y1="426.9" x2="308.63" y2="430" stroke="#2a2a2a" stroke-width="0.9" />
<line x1="312.34" y1="426.9" x2="312.34" y2="430" stroke="#2a2a2a" stroke-width="0.9" />
<line x1="316.04" y1="426.9" x2="316.04" y2="430" stroke="#2a2a2a" stroke-width="0.9" />
<line x1="319.75" y1="426.9" x2="319.75" y2="430" stroke="#2a2a2a" stroke-width="0.9" />
<line x1="323.45" y1="426.9" x2="323.45" y2="430" stroke="#2a2a2a" stroke-width="0.9" />
<line x1="327.16" y1="426.9" x2="327.16" y2="430" stroke="#2a2a2a" stroke-width="0.9" />
<line x1="330.86" y1="426.9" x2="330.86" y2="430" stroke="#2a2a2a" stroke-width="0.9" />
<line x1="334.57" y1="426.9" x2="334.57" y2="430" stroke="#2a2a2a" stroke-width="0.9" />
<line x1="338.27" y1="426.9" x2="338.27" y2="430" stroke="#2a2a2a" stroke-width="0.9" />
<line x1="341.98" y1="426.9" x2="341.98" y2="430" stroke="#2a2a2a" stroke-width="0.9" />
<line x1="345.68" y1="426.9" x2="345.68" y2="430" stroke="#2a2a2a" stroke-width="0.9" />
<line x1="349.39" y1="426.9" x2="349.39" y2="430" stroke="#2a2a2a" stroke-width="0.9" />
<line x1="353.09" y1="426.9" x2="353.09" y2="430" stroke="#2a2a2a" stroke-width="0.9" />
<line x1="356.8" y1="426.9" x2="356.8" y2="430" stroke="#2a2a2a" stroke-width="0.9" />
<line x1="360.5" y1="426.9" x2="360.5" y2="430" stroke="#2a2a2a" stroke-width="0.9" />
<line x1="364.21" y1="426.9" x2="364.21" y2="430" stroke="#2a2a2a" stroke-width="0.9" />
<line x1="367.91" y1="426.9" x2="367.91" y2="430" stroke="#2a2a2a" stroke-width="0.9" />
<line x1="371.62" y1="426.9" x2="371.62" y2="430" stroke="#2a2a2a" stroke-width="0.9" />
<line x1="375.32" y1="426.9" x2="375.32" y2="430" stroke="#2a2a2a" stroke-width="0.9" />
<line x1="379.03" y1="426.9" x2="379.03" y2="430" stroke="#2a2a2a" stroke-width="0.9" />
<line x1="382.73" y1="426.9" x2="382.73" y2="430" stroke="#2a2a2a" stroke-width="0.9" />
<line x1="386.44" y1="426.9" x2="386.44" y2="430" stroke="#2a2a2a" stroke-width="0.9" />
<line x1="390.14" y1="426.9" x2="390.14" y2="430" stroke="#2a2a2a" stroke-width="0.9" />
<line x1="393.85" y1="426.9" x2="393.85" y2="430" stroke="#2a2a2a" stroke-width="0.9" />
<line x1="397.55" y1="426.9" x2="397.55" y2="430" stroke="#2a2a2a" stroke-width="0.9" />
<line x1="401.26" y1="426.9" x2="401.26" y2="430" stroke="#2a2a2a" stroke-width="0.9" />
<line x1="404.96" y1="426.9" x2="404.96" y2="430" stroke="#2a2a2a" stroke-width="0.9" />
<line x1="408.67" y1="426.9" x2="408.67" y2="430" stroke="#2a2a2a" stroke-width="0.9" />
<line x1="412.37" y1="426.9" x2="412.37" y2="430" stroke="#2a2a2a" stroke-width="0.9" />
<line x1="416.08" y1="426.9" x2="416.08" y2="430" stroke="#2a2a2a" stroke-width="0.9" />
<line x1="419.78" y1="426.9" x2="419.78" y2="430" stroke="#2a2a2a" stroke-width="0.9" />
<line x1="423.49" y1="426.9" x2="423.49" y2="430" stroke="#2a2a2a" stroke-width="0.9" />
<line x1="427.19" y1="426.9" x2="427.19" y2="430" stroke="#2a2a2a" stroke-width="0.9" />
<line x1="430.9" y1="426.9" x2="430.9" y2="430" stroke="#2a2a2a" stroke-width="0.9" />
<line x1="434.6" y1="426.9" x2="434.6" y2="430" stroke="#2a2a2a" stroke-width="0.9" />
<text transform="translate(41.7,381) rotate(-90)" font-size="7.0" fill="#444" text-anchor="middle" textLength="73" lengthAdjust="spacingAndGlyphs"  stroke="#444" stroke-width="0.12">Average coverage (X fold)</text>
<text transform="translate(65.00,442.50) rotate(-90)" font-size="3.8" fill="#666" textLength="8.8" lengthAdjust="spacingAndGlyphs">75100</text>
<text transform="translate(68.70,442.50) rotate(-90)" font-size="3.8" fill="#666" textLength="8.8" lengthAdjust="spacingAndGlyphs">86008</text>
<text transform="translate(72.41,442.50) rotate(-90)" font-size="3.8" fill="#666" textLength="8.8" lengthAdjust="spacingAndGlyphs">69795</text>
<text transform="translate(76.11,442.50) rotate(-90)" font-size="3.8" fill="#666" textLength="8.8" lengthAdjust="spacingAndGlyphs">19012</text>
<text transform="translate(79.82,442.50) rotate(-90)" font-size="3.8" fill="#666" textLength="8.8" lengthAdjust="spacingAndGlyphs">22267</text>
<text transform="translate(83.53,442.50) rotate(-90)" font-size="3.8" fill="#666" textLength="8.8" lengthAdjust="spacingAndGlyphs">45381</text>
<text transform="translate(87.23,442.50) rotate(-90)" font-size="3.8" fill="#666" textLength="8.8" lengthAdjust="spacingAndGlyphs">72141</text>
<text transform="translate(90.94,442.50) rotate(-90)" font-size="3.8" fill="#666" textLength="8.8" lengthAdjust="spacingAndGlyphs">97051</text>
<text transform="translate(94.64,442.50) rotate(-90)" font-size="3.8" fill="#666" textLength="8.8" lengthAdjust="spacingAndGlyphs">18519</text>
<text transform="translate(98.34,442.50) rotate(-90)" font-size="3.8" fill="#666" textLength="8.8" lengthAdjust="spacingAndGlyphs">17952</text>
<text transform="translate(102.05,442.50) rotate(-90)" font-size="3.8" fill="#666" textLength="8.8" lengthAdjust="spacingAndGlyphs">50580</text>
<text transform="translate(105.75,442.50) rotate(-90)" font-size="3.8" fill="#666" textLength="8.8" lengthAdjust="spacingAndGlyphs">94820</text>
<text transform="translate(109.46,442.50) rotate(-90)" font-size="3.8" fill="#666" textLength="8.8" lengthAdjust="spacingAndGlyphs">85752</text>
<text transform="translate(113.16,442.50) rotate(-90)" font-size="3.8" fill="#666" textLength="8.8" lengthAdjust="spacingAndGlyphs">99291</text>
<text transform="translate(116.87,442.50) rotate(-90)" font-size="3.8" fill="#666" textLength="8.8" lengthAdjust="spacingAndGlyphs">68411</text>
<text transform="translate(120.58,442.50) rotate(-90)" font-size="3.8" fill="#666" textLength="8.8" lengthAdjust="spacingAndGlyphs">47302</text>
<text transform="translate(124.28,442.50) rotate(-90)" font-size="3.8" fill="#666" textLength="8.8" lengthAdjust="spacingAndGlyphs">60566</text>
<text transform="translate(127.98,442.50) rotate(-90)" font-size="3.8" fill="#666" textLength="8.8" lengthAdjust="spacingAndGlyphs">97641</text>
<text transform="translate(131.69,442.50) rotate(-90)" font-size="3.8" fill="#666" textLength="8.8" lengthAdjust="spacingAndGlyphs">55482</text>
<text transform="translate(135.39,442.50) rotate(-90)" font-size="3.8" fill="#666" textLength="8.8" lengthAdjust="spacingAndGlyphs">12957</text>
<text transform="translate(139.10,442.50) rotate(-90)" font-size="3.8" fill="#666" textLength="8.8" lengthAdjust="spacingAndGlyphs">70515</text>
<text transform="translate(142.80,442.50) rotate(-90)" font-size="3.8" fill="#666" textLength="8.8" lengthAdjust="spacingAndGlyphs">56591</text>
<text transform="translate(146.51,442.50) rotate(-90)" font-size="3.8" fill="#666" textLength="8.8" lengthAdjust="spacingAndGlyphs">32026</text>
<text transform="translate(150.21,442.50) rotate(-90)" font-size="3.8" fill="#666" textLength="8.8" lengthAdjust="spacingAndGlyphs">90074</text>
<text transform="translate(153.92,442.50) rotate(-90)" font-size="3.8" fill="#666" textLength="8.8" lengthAdjust="spacingAndGlyphs">25347</text>
<text transform="translate(157.62,442.50) rotate(-90)" font-size="3.8" fill="#666" textLength="8.8" lengthAdjust="spacingAndGlyphs">74709</text>
<text transform="translate(161.33,442.50) rotate(-90)" font-size="3.8" fill="#666" textLength="8.8" lengthAdjust="spacingAndGlyphs">17727</text>
<text transform="translate(165.03,442.50) rotate(-90)" font-size="3.8" fill="#666" textLength="8.8" lengthAdjust="spacingAndGlyphs">38600</text>
<text transform="translate(168.74,442.50) rotate(-90)" font-size="3.8" fill="#666" textLength="8.8" lengthAdjust="spacingAndGlyphs">47674</text>
<text transform="translate(172.44,442.50) rotate(-90)" font-size="3.8" fill="#666" textLength="8.8" lengthAdjust="spacingAndGlyphs">26952</text>
<text transform="translate(176.15,442.50) rotate(-90)" font-size="3.8" fill="#666" textLength="8.8" lengthAdjust="spacingAndGlyphs">42455</text>
<text transform="translate(179.85,442.50) rotate(-90)" font-size="3.8" fill="#666" textLength="8.8" lengthAdjust="spacingAndGlyphs">62153</text>
<text transform="translate(183.56,442.50) rotate(-90)" font-size="3.8" fill="#666" textLength="8.8" lengthAdjust="spacingAndGlyphs">61242</text>
<text transform="translate(187.26,442.50) rotate(-90)" font-size="3.8" fill="#666" textLength="8.8" lengthAdjust="spacingAndGlyphs">75078</text>
<text transform="translate(190.97,442.50) rotate(-90)" font-size="3.8" fill="#666" textLength="8.8" lengthAdjust="spacingAndGlyphs">20561</text>
<text transform="translate(194.67,442.50) rotate(-90)" font-size="3.8" fill="#666" textLength="8.8" lengthAdjust="spacingAndGlyphs">31805</text>
<text transform="translate(198.38,442.50) rotate(-90)" font-size="3.8" fill="#666" textLength="8.8" lengthAdjust="spacingAndGlyphs">68875</text>
<text transform="translate(202.08,442.50) rotate(-90)" font-size="3.8" fill="#666" textLength="8.8" lengthAdjust="spacingAndGlyphs">62644</text>
<text transform="translate(205.79,442.50) rotate(-90)" font-size="3.8" fill="#666" textLength="8.8" lengthAdjust="spacingAndGlyphs">82016</text>
<text transform="translate(209.49,442.50) rotate(-90)" font-size="3.8" fill="#666" textLength="8.8" lengthAdjust="spacingAndGlyphs">46416</text>
<text transform="translate(213.20,442.50) rotate(-90)" font-size="3.8" fill="#666" textLength="8.8" lengthAdjust="spacingAndGlyphs">27947</text>
<text transform="translate(216.90,442.50) rotate(-90)" font-size="3.8" fill="#666" textLength="8.8" lengthAdjust="spacingAndGlyphs">66429</text>
<text transform="translate(220.61,442.50) rotate(-90)" font-size="3.8" fill="#666" textLength="8.8" lengthAdjust="spacingAndGlyphs">82118</text>
<text transform="translate(224.31,442.50) rotate(-90)" font-size="3.8" fill="#666" textLength="8.8" lengthAdjust="spacingAndGlyphs">46493</text>
<text transform="translate(228.02,442.50) rotate(-90)" font-size="3.8" fill="#666" textLength="8.8" lengthAdjust="spacingAndGlyphs">64433</text>
<text transform="translate(231.72,442.50) rotate(-90)" font-size="3.8" fill="#666" textLength="8.8" lengthAdjust="spacingAndGlyphs">57024</text>
<text transform="translate(235.43,442.50) rotate(-90)" font-size="3.8" fill="#666" textLength="8.8" lengthAdjust="spacingAndGlyphs">99485</text>
<text transform="translate(239.13,442.50) rotate(-90)" font-size="3.8" fill="#666" textLength="8.8" lengthAdjust="spacingAndGlyphs">59865</text>
<text transform="translate(242.84,442.50) rotate(-90)" font-size="3.8" fill="#666" textLength="8.8" lengthAdjust="spacingAndGlyphs">40245</text>
<text transform="translate(246.54,442.50) rotate(-90)" font-size="3.8" fill="#666" textLength="8.8" lengthAdjust="spacingAndGlyphs">29781</text>
<text transform="translate(250.25,442.50) rotate(-90)" font-size="3.8" fill="#666" textLength="8.8" lengthAdjust="spacingAndGlyphs">20876</text>
<text transform="translate(253.95,442.50) rotate(-90)" font-size="3.8" fill="#666" textLength="8.8" lengthAdjust="spacingAndGlyphs">33097</text>
<text transform="translate(257.66,442.50) rotate(-90)" font-size="3.8" fill="#666" textLength="8.8" lengthAdjust="spacingAndGlyphs">29830</text>
<text transform="translate(261.37,442.50) rotate(-90)" font-size="3.8" fill="#666" textLength="8.8" lengthAdjust="spacingAndGlyphs">40403</text>
<text transform="translate(265.07,442.50) rotate(-90)" font-size="3.8" fill="#666" textLength="8.8" lengthAdjust="spacingAndGlyphs">96313</text>
<text transform="translate(268.77,442.50) rotate(-90)" font-size="3.8" fill="#666" textLength="8.8" lengthAdjust="spacingAndGlyphs">40583</text>
<text transform="translate(272.48,442.50) rotate(-90)" font-size="3.8" fill="#666" textLength="8.8" lengthAdjust="spacingAndGlyphs">11581</text>
<text transform="translate(276.19,442.50) rotate(-90)" font-size="3.8" fill="#666" textLength="8.8" lengthAdjust="spacingAndGlyphs">73565</text>
<text transform="translate(279.89,442.50) rotate(-90)" font-size="3.8" fill="#666" textLength="8.8" lengthAdjust="spacingAndGlyphs">87217</text>
<text transform="translate(283.60,442.50) rotate(-90)" font-size="3.8" fill="#666" textLength="8.8" lengthAdjust="spacingAndGlyphs">33900</text>
<text transform="translate(287.30,442.50) rotate(-90)" font-size="3.8" fill="#666" textLength="8.8" lengthAdjust="spacingAndGlyphs">44438</text>
<text transform="translate(291.00,442.50) rotate(-90)" font-size="3.8" fill="#666" textLength="8.8" lengthAdjust="spacingAndGlyphs">46953</text>
<text transform="translate(294.71,442.50) rotate(-90)" font-size="3.8" fill="#666" textLength="8.8" lengthAdjust="spacingAndGlyphs">10536</text>
<text transform="translate(298.41,442.50) rotate(-90)" font-size="3.8" fill="#666" textLength="8.8" lengthAdjust="spacingAndGlyphs">29094</text>
<text transform="translate(302.12,442.50) rotate(-90)" font-size="3.8" fill="#666" textLength="8.8" lengthAdjust="spacingAndGlyphs">64912</text>
<text transform="translate(305.83,442.50) rotate(-90)" font-size="3.8" fill="#666" textLength="8.8" lengthAdjust="spacingAndGlyphs">80069</text>
<text transform="translate(309.53,442.50) rotate(-90)" font-size="3.8" fill="#666" textLength="8.8" lengthAdjust="spacingAndGlyphs">58398</text>
<text transform="translate(313.24,442.50) rotate(-90)" font-size="3.8" fill="#666" textLength="8.8" lengthAdjust="spacingAndGlyphs">89929</text>
<text transform="translate(316.94,442.50) rotate(-90)" font-size="3.8" fill="#666" textLength="8.8" lengthAdjust="spacingAndGlyphs">84231</text>
<text transform="translate(320.64,442.50) rotate(-90)" font-size="3.8" fill="#666" textLength="8.8" lengthAdjust="spacingAndGlyphs">51761</text>
<text transform="translate(324.35,442.50) rotate(-90)" font-size="3.8" fill="#666" textLength="8.8" lengthAdjust="spacingAndGlyphs">26448</text>
<text transform="translate(328.06,442.50) rotate(-90)" font-size="3.8" fill="#666" textLength="8.8" lengthAdjust="spacingAndGlyphs">77566</text>
<text transform="translate(331.76,442.50) rotate(-90)" font-size="3.8" fill="#666" textLength="8.8" lengthAdjust="spacingAndGlyphs">90949</text>
<text transform="translate(335.47,442.50) rotate(-90)" font-size="3.8" fill="#666" textLength="8.8" lengthAdjust="spacingAndGlyphs">95847</text>
<text transform="translate(339.17,442.50) rotate(-90)" font-size="3.8" fill="#666" textLength="8.8" lengthAdjust="spacingAndGlyphs">98630</text>
<text transform="translate(342.88,442.50) rotate(-90)" font-size="3.8" fill="#666" textLength="8.8" lengthAdjust="spacingAndGlyphs">17076</text>
<text transform="translate(346.58,442.50) rotate(-90)" font-size="3.8" fill="#666" textLength="8.8" lengthAdjust="spacingAndGlyphs">69853</text>
<text transform="translate(350.29,442.50) rotate(-90)" font-size="3.8" fill="#666" textLength="8.8" lengthAdjust="spacingAndGlyphs">99204</text>
<text transform="translate(353.99,442.50) rotate(-90)" font-size="3.8" fill="#666" textLength="8.8" lengthAdjust="spacingAndGlyphs">83304</text>
<text transform="translate(357.69,442.50) rotate(-90)" font-size="3.8" fill="#666" textLength="8.8" lengthAdjust="spacingAndGlyphs">61429</text>
<text transform="translate(361.40,442.50) rotate(-90)" font-size="3.8" fill="#666" textLength="8.8" lengthAdjust="spacingAndGlyphs">62175</text>
<text transform="translate(365.11,442.50) rotate(-90)" font-size="3.8" fill="#666" textLength="8.8" lengthAdjust="spacingAndGlyphs">62294</text>
<text transform="translate(368.81,442.50) rotate(-90)" font-size="3.8" fill="#666" textLength="8.8" lengthAdjust="spacingAndGlyphs">61658</text>
<text transform="translate(372.51,442.50) rotate(-90)" font-size="3.8" fill="#666" textLength="8.8" lengthAdjust="spacingAndGlyphs">23570</text>
<text transform="translate(376.22,442.50) rotate(-90)" font-size="3.8" fill="#666" textLength="8.8" lengthAdjust="spacingAndGlyphs">73114</text>
<text transform="translate(379.93,442.50) rotate(-90)" font-size="3.8" fill="#666" textLength="8.8" lengthAdjust="spacingAndGlyphs">93137</text>
<text transform="translate(383.63,442.50) rotate(-90)" font-size="3.8" fill="#666" textLength="8.8" lengthAdjust="spacingAndGlyphs">62486</text>
<text transform="translate(387.33,442.50) rotate(-90)" font-size="3.8" fill="#666" textLength="8.8" lengthAdjust="spacingAndGlyphs">18158</text>
<text transform="translate(391.04,442.50) rotate(-90)" font-size="3.8" fill="#666" textLength="8.8" lengthAdjust="spacingAndGlyphs">34983</text>
<text transform="translate(394.75,442.50) rotate(-90)" font-size="3.8" fill="#666" textLength="8.8" lengthAdjust="spacingAndGlyphs">18827</text>
<text transform="translate(398.45,442.50) rotate(-90)" font-size="3.8" fill="#666" textLength="8.8" lengthAdjust="spacingAndGlyphs">37363</text>
<text transform="translate(402.16,442.50) rotate(-90)" font-size="3.8" fill="#666" textLength="8.8" lengthAdjust="spacingAndGlyphs">67753</text>
<text transform="translate(405.86,442.50) rotate(-90)" font-size="3.8" fill="#666" textLength="8.8" lengthAdjust="spacingAndGlyphs">31273</text>
<text transform="translate(409.56,442.50) rotate(-90)" font-size="3.8" fill="#666" textLength="8.8" lengthAdjust="spacingAndGlyphs">24408</text>
<text transform="translate(413.27,442.50) rotate(-90)" font-size="3.8" fill="#666" textLength="8.8" lengthAdjust="spacingAndGlyphs">54571</text>
<text transform="translate(416.98,442.50) rotate(-90)" font-size="3.8" fill="#666" textLength="8.8" lengthAdjust="spacingAndGlyphs">88738</text>
<text transform="translate(420.68,442.50) rotate(-90)" font-size="3.8" fill="#666" textLength="8.8" lengthAdjust="spacingAndGlyphs">16891</text>
<text transform="translate(424.38,442.50) rotate(-90)" font-size="3.8" fill="#666" textLength="8.8" lengthAdjust="spacingAndGlyphs">23419</text>
<text transform="translate(428.09,442.50) rotate(-90)" font-size="3.8" fill="#666" textLength="8.8" lengthAdjust="spacingAndGlyphs">10030</text>
<text transform="translate(431.80,442.50) rotate(-90)" font-size="3.8" fill="#666" textLength="8.8" lengthAdjust="spacingAndGlyphs">84289</text>
<text transform="translate(435.50,442.50) rotate(-90)" font-size="3.8" fill="#666" textLength="8.8" lengthAdjust="spacingAndGlyphs">29826</text>
<text x="446.9" y="341.2" font-size="8.5" fill="#222" textLength="30" lengthAdjust="spacingAndGlyphs"  stroke="#222" stroke-width="0.12">Subtype</text>
<rect x="447.4" y="350.8" width="6.8" height="6.2" fill="#e7d8d4" />
<text x="457.7" y="355.8" font-size="7.9" fill="#222" textLength="22" lengthAdjust="spacingAndGlyphs"  stroke="#222" stroke-width="0.12">African</text>
<rect x="447.4" y="361.9" width="6.8" height="6.2" fill="#e2486a" />
<text x="457.7" y="366.8" font-size="7.9" fill="#222" textLength="10.8" lengthAdjust="spacingAndGlyphs"  stroke="#222" stroke-width="0.12">HIV</text>
<rect x="447.4" y="373" width="6.8" height="6.2" fill="#6cbb3c" />
<text x="457.7" y="378" font-size="7.9" fill="#222" textLength="26.6" lengthAdjust="spacingAndGlyphs"  stroke="#222" stroke-width="0.12">sporadic</text>
<circle cx="450.8" cy="388" r="0.9" fill="#222"/>
<text x="455.4" y="389.6" font-size="7.9" fill="#222" textLength="47.7" lengthAdjust="spacingAndGlyphs"  stroke="#222" stroke-width="0.12">Genome not in</text>
<text x="455.4" y="398" font-size="7.9" fill="#222" textLength="30.8" lengthAdjust="spacingAndGlyphs"  stroke="#222" stroke-width="0.12">Panea_S3</text>
<text x="8.3" y="463" font-size="12" fill="#111" font-weight="bold"  stroke="#111" stroke-width="0.2">C</text>
<line x1="62.78" y1="503.92" x2="62.78" y2="557.72" stroke="#7a7a7a" stroke-width="1.0" />
<rect x="61.33" y="503.92" width="2.9" height="45.26" fill="#efdfdf" />
<rect x="61.28" y="535.77" width="3" height="1.2" fill="#111" />
<line x1="66.54" y1="474.04" x2="66.54" y2="541.5" stroke="#7a7a7a" stroke-width="1.0" />
<rect x="65.09" y="503.92" width="2.9" height="19.64" fill="#efdfdf" />
<rect x="65.04" y="514.77" width="3" height="1.2" fill="#111" />
<line x1="70.3" y1="528.69" x2="70.3" y2="539.79" stroke="#7a7a7a" stroke-width="1.0" />
<rect x="68.85" y="531.25" width="2.9" height="5.98" fill="#efdfdf" />
<rect x="68.8" y="533.21" width="3" height="1.2" fill="#111" />
<line x1="74.23" y1="482.23" x2="74.23" y2="532.11" stroke="#7a7a7a" stroke-width="1.0" />
<rect x="72.78" y="501.36" width="2.9" height="11.96" fill="#efdfdf" />
<rect x="72.73" y="508.96" width="3" height="1.2" fill="#111" />
<circle cx="77.81" cy="542.69" r="1.1" fill="#555"/>
<line x1="81.57" y1="544.91" x2="81.57" y2="557.72" stroke="#7a7a7a" stroke-width="1.0" />
<rect x="80.12" y="546.62" width="2.9" height="5.12" fill="#efdfdf" />
<rect x="80.07" y="548.24" width="3" height="1.2" fill="#111" />
<line x1="85.33" y1="482.23" x2="85.33" y2="539.79" stroke="#7a7a7a" stroke-width="1.0" />
<rect x="83.88" y="503.92" width="2.9" height="15.37" fill="#efdfdf" />
<rect x="83.83" y="510.67" width="3" height="1.2" fill="#111" />
<line x1="89.08" y1="499.31" x2="89.08" y2="548.84" stroke="#7a7a7a" stroke-width="1.0" />
<rect x="87.63" y="518.44" width="2.9" height="15.37" fill="#efdfdf" />
<rect x="87.58" y="527.75" width="3" height="1.2" fill="#111" />
<line x1="92.84" y1="482.23" x2="92.84" y2="557.38" stroke="#7a7a7a" stroke-width="1.0" />
<rect x="91.39" y="512.46" width="2.9" height="17.93" fill="#efdfdf" />
<rect x="91.34" y="523.31" width="3" height="1.2" fill="#111" />
<line x1="96.43" y1="503.07" x2="96.43" y2="557.38" stroke="#7a7a7a" stroke-width="1.0" />
<rect x="94.98" y="523.57" width="2.9" height="16.23" fill="#efdfdf" />
<rect x="94.93" y="531.85" width="3" height="1.2" fill="#111" />
<line x1="100.19" y1="461.23" x2="100.19" y2="552.94" stroke="#7a7a7a" stroke-width="1.0" />
<rect x="98.74" y="496.24" width="2.9" height="29.04" fill="#efdfdf" />
<rect x="98.69" y="519.21" width="3" height="1.2" fill="#111" />
<line x1="103.77" y1="503.07" x2="103.77" y2="556.87" stroke="#7a7a7a" stroke-width="1.0" />
<rect x="102.32" y="516.73" width="2.9" height="18.79" fill="#efdfdf" />
<rect x="102.27" y="527.75" width="3" height="1.2" fill="#111" />
<line x1="107.53" y1="494.53" x2="107.53" y2="544.91" stroke="#7a7a7a" stroke-width="1.0" />
<rect x="106.08" y="512.46" width="2.9" height="14.52" fill="#efdfdf" />
<rect x="106.03" y="519.21" width="3" height="1.2" fill="#111" />
<line x1="111.29" y1="490.77" x2="111.29" y2="548.84" stroke="#7a7a7a" stroke-width="1.0" />
<rect x="109.84" y="513.32" width="2.9" height="15.37" fill="#efdfdf" />
<rect x="109.79" y="519.21" width="3" height="1.2" fill="#111" />
<line x1="115.22" y1="457.3" x2="115.22" y2="556.87" stroke="#7a7a7a" stroke-width="1.0" />
<rect x="113.77" y="497.95" width="2.9" height="22.2" fill="#efdfdf" />
<rect x="113.72" y="506.74" width="3" height="1.2" fill="#111" />
<line x1="118.63" y1="457.3" x2="118.63" y2="556.87" stroke="#7a7a7a" stroke-width="1.0" />
<rect x="117.18" y="495.38" width="2.9" height="23.06" fill="#efdfdf" />
<rect x="117.13" y="502.47" width="3" height="1.2" fill="#111" />
<line x1="122.49" y1="465.5" x2="122.49" y2="557.72" stroke="#7a7a7a" stroke-width="1.0" />
<rect x="121.04" y="508.19" width="2.9" height="22.2" fill="#efdfdf" />
<rect x="120.99" y="519.21" width="3" height="1.2" fill="#111" />
<line x1="126.25" y1="507.34" x2="126.25" y2="557.72" stroke="#7a7a7a" stroke-width="1.0" />
<rect x="124.8" y="523.57" width="2.9" height="17.08" fill="#efdfdf" />
<rect x="124.75" y="531.85" width="3" height="1.2" fill="#111" />
<line x1="130.01" y1="461.23" x2="130.01" y2="557.72" stroke="#7a7a7a" stroke-width="1.0" />
<rect x="128.56" y="504.78" width="2.9" height="22.2" fill="#efdfdf" />
<rect x="128.51" y="519.21" width="3" height="1.2" fill="#111" />
<line x1="133.76" y1="486.84" x2="133.76" y2="557.72" stroke="#7a7a7a" stroke-width="1.0" />
<rect x="132.31" y="508.19" width="2.9" height="17.08" fill="#efdfdf" />
<rect x="132.26" y="514.77" width="3" height="1.2" fill="#111" />
<line x1="137.52" y1="528.35" x2="137.52" y2="552.6" stroke="#7a7a7a" stroke-width="1.0" />
<rect x="136.07" y="540.64" width="2.9" height="6.83" fill="#efdfdf" />
<rect x="136.02" y="544.14" width="3" height="1.2" fill="#111" />
<line x1="141.28" y1="490.77" x2="141.28" y2="557.72" stroke="#7a7a7a" stroke-width="1.0" />
<rect x="139.83" y="513.32" width="2.9" height="17.08" fill="#efdfdf" />
<rect x="139.78" y="523.31" width="3" height="1.2" fill="#111" />
<line x1="145.04" y1="499.31" x2="145.04" y2="540.64" stroke="#7a7a7a" stroke-width="1.0" />
<rect x="143.59" y="512.46" width="2.9" height="14.52" fill="#efdfdf" />
<rect x="143.54" y="519.21" width="3" height="1.2" fill="#111" />
<line x1="148.79" y1="474.04" x2="148.79" y2="544.91" stroke="#7a7a7a" stroke-width="1.0" />
<rect x="147.34" y="508.19" width="2.9" height="22.2" fill="#efdfdf" />
<rect x="147.29" y="523.31" width="3" height="1.2" fill="#111" />
<line x1="152.38" y1="503.07" x2="152.38" y2="553.45" stroke="#7a7a7a" stroke-width="1.0" />
<rect x="150.93" y="516.73" width="2.9" height="15.37" fill="#efdfdf" />
<rect x="150.88" y="523.31" width="3" height="1.2" fill="#111" />
<line x1="156.14" y1="507.34" x2="156.14" y2="553.45" stroke="#7a7a7a" stroke-width="1.0" />
<rect x="154.69" y="522.71" width="2.9" height="17.93" fill="#efdfdf" />
<rect x="154.64" y="531.85" width="3" height="1.2" fill="#111" />
<line x1="159.89" y1="486.84" x2="159.89" y2="557.72" stroke="#7a7a7a" stroke-width="1.0" />
<rect x="158.44" y="509.9" width="2.9" height="17.08" fill="#efdfdf" />
<rect x="158.39" y="519.21" width="3" height="1.2" fill="#111" />
<line x1="163.48" y1="461.23" x2="163.48" y2="557.72" stroke="#7a7a7a" stroke-width="1.0" />
<rect x="162.03" y="487.7" width="2.9" height="37.57" fill="#efdfdf" />
<rect x="161.98" y="510.67" width="3" height="1.2" fill="#111" />
<line x1="167.24" y1="482.23" x2="167.24" y2="536.37" stroke="#7a7a7a" stroke-width="1.0" />
<rect x="165.79" y="496.24" width="2.9" height="17.08" fill="#efdfdf" />
<rect x="165.74" y="510.67" width="3" height="1.2" fill="#111" />
<line x1="171" y1="482.23" x2="171" y2="557.72" stroke="#7a7a7a" stroke-width="1.0" />
<rect x="169.55" y="515.03" width="2.9" height="18.79" fill="#efdfdf" />
<rect x="169.5" y="527.75" width="3" height="1.2" fill="#111" />
<line x1="174.58" y1="515.88" x2="174.58" y2="557.72" stroke="#7a7a7a" stroke-width="1.0" />
<rect x="173.13" y="530.4" width="2.9" height="17.08" fill="#efdfdf" />
<rect x="173.08" y="540.04" width="3" height="1.2" fill="#111" />
<line x1="178.27" y1="532.96" x2="178.27" y2="556.87" stroke="#7a7a7a" stroke-width="1.0" />
<rect x="176.82" y="545.77" width="2.9" height="5.98" fill="#efdfdf" />
<rect x="176.77" y="548.24" width="3" height="1.2" fill="#111" />
<line x1="182.2" y1="503.07" x2="182.2" y2="554.31" stroke="#7a7a7a" stroke-width="1.0" />
<rect x="180.75" y="520.15" width="2.9" height="32.45" fill="#e2486a" />
<rect x="180.7" y="544.31" width="3" height="1.2" fill="#111" />
<line x1="185.96" y1="528.69" x2="185.96" y2="556.87" stroke="#7a7a7a" stroke-width="1.0" />
<rect x="184.51" y="537.23" width="2.9" height="15.37" fill="#e2486a" />
<rect x="184.46" y="544.31" width="3" height="1.2" fill="#111" />
<line x1="189.71" y1="520.15" x2="189.71" y2="554.31" stroke="#7a7a7a" stroke-width="1.0" />
<rect x="188.26" y="532.96" width="2.9" height="19.64" fill="#e2486a" />
<rect x="188.21" y="542.09" width="3" height="1.2" fill="#111" />
<line x1="193.47" y1="490.77" x2="193.47" y2="554.31" stroke="#7a7a7a" stroke-width="1.0" />
<rect x="192.02" y="523.91" width="2.9" height="28.69" fill="#e2486a" />
<rect x="191.97" y="535.77" width="3" height="1.2" fill="#111" />
<line x1="197.23" y1="511.61" x2="197.23" y2="556.87" stroke="#7a7a7a" stroke-width="1.0" />
<rect x="195.78" y="537.23" width="2.9" height="15.37" fill="#e2486a" />
<rect x="195.73" y="548.24" width="3" height="1.2" fill="#111" />
<line x1="200.99" y1="556.87" x2="200.99" y2="557.38" stroke="#7a7a7a" stroke-width="1.0" />
<rect x="199.49" y="556.78" width="3" height="1.2" fill="#111" />
<line x1="204.74" y1="545.77" x2="204.74" y2="556.87" stroke="#7a7a7a" stroke-width="1.0" />
<rect x="203.29" y="549.18" width="2.9" height="7.69" fill="#e2486a" />
<rect x="203.24" y="552.85" width="3" height="1.2" fill="#111" />
<line x1="208.5" y1="507.34" x2="208.5" y2="554.31" stroke="#7a7a7a" stroke-width="1.0" />
<rect x="207.05" y="532.96" width="2.9" height="16.23" fill="#e2486a" />
<rect x="207" y="540.04" width="3" height="1.2" fill="#111" />
<line x1="212.26" y1="524.42" x2="212.26" y2="556.87" stroke="#7a7a7a" stroke-width="1.0" />
<rect x="210.81" y="533.81" width="2.9" height="18.79" fill="#e2486a" />
<rect x="210.76" y="546.02" width="3" height="1.2" fill="#111" />
<line x1="215.84" y1="499.31" x2="215.84" y2="556.87" stroke="#7a7a7a" stroke-width="1.0" />
<rect x="214.39" y="511.61" width="2.9" height="18.79" fill="#6dbb3f" />
<rect x="214.34" y="521.26" width="3" height="1.2" fill="#111" />
<line x1="219.6" y1="490.77" x2="219.6" y2="549.18" stroke="#7a7a7a" stroke-width="1.0" />
<rect x="218.15" y="507.34" width="2.9" height="16.23" fill="#6dbb3f" />
<rect x="218.1" y="510.67" width="3" height="1.2" fill="#111" />
<line x1="223.53" y1="524.42" x2="223.53" y2="553.45" stroke="#7a7a7a" stroke-width="1.0" />
<rect x="222.08" y="532.11" width="2.9" height="17.08" fill="#6dbb3f" />
<rect x="222.03" y="544.31" width="3" height="1.2" fill="#111" />
<line x1="227.12" y1="503.07" x2="227.12" y2="553.45" stroke="#7a7a7a" stroke-width="1.0" />
<rect x="225.67" y="525.27" width="2.9" height="18.79" fill="#6dbb3f" />
<rect x="225.62" y="540.04" width="3" height="1.2" fill="#111" />
<line x1="230.87" y1="499.31" x2="230.87" y2="540.64" stroke="#7a7a7a" stroke-width="1.0" />
<rect x="229.42" y="520.15" width="2.9" height="15.37" fill="#6dbb3f" />
<rect x="229.37" y="523.31" width="3" height="1.2" fill="#111" />
<line x1="234.63" y1="515.88" x2="234.63" y2="552.6" stroke="#7a7a7a" stroke-width="1.0" />
<rect x="233.18" y="516.73" width="2.9" height="32.45" fill="#6dbb3f" />
<rect x="233.13" y="535.77" width="3" height="1.2" fill="#111" />
<line x1="238.15" y1="524.42" x2="238.15" y2="556.87" stroke="#7a7a7a" stroke-width="1.0" />
<rect x="236.7" y="539.79" width="2.9" height="12.81" fill="#6dbb3f" />
<rect x="236.65" y="546.36" width="3" height="1.2" fill="#111" />
<line x1="241.91" y1="544.91" x2="241.91" y2="556.87" stroke="#7a7a7a" stroke-width="1.0" />
<rect x="240.46" y="545.77" width="2.9" height="11.1" fill="#6dbb3f" />
<rect x="240.41" y="552.34" width="3" height="1.2" fill="#111" />
<line x1="245.66" y1="511.61" x2="245.66" y2="549.18" stroke="#7a7a7a" stroke-width="1.0" />
<rect x="244.21" y="520.15" width="2.9" height="16.23" fill="#6dbb3f" />
<rect x="244.16" y="523.31" width="3" height="1.2" fill="#111" />
<line x1="252.5" y1="520.15" x2="252.5" y2="549.18" stroke="#7a7a7a" stroke-width="1.0" />
<rect x="251.05" y="527.84" width="2.9" height="12.81" fill="#6dbb3f" />
<rect x="251" y="533.55" width="3" height="1.2" fill="#111" />
<line x1="256.42" y1="537.23" x2="256.42" y2="557.38" stroke="#7a7a7a" stroke-width="1.0" />
<rect x="254.97" y="549.18" width="2.9" height="8.2" fill="#6dbb3f" />
<rect x="254.92" y="552.34" width="3" height="1.2" fill="#111" />
<line x1="260.18" y1="552.94" x2="260.18" y2="552.94" stroke="#7a7a7a" stroke-width="1.0" />
<rect x="258.73" y="552.6" width="2.9" height="0.68" fill="#6dbb3f" />
<rect x="258.68" y="552.34" width="3" height="1.2" fill="#111" />
<line x1="263.77" y1="545.77" x2="263.77" y2="557.38" stroke="#7a7a7a" stroke-width="1.0" />
<rect x="262.32" y="545.77" width="2.9" height="8.54" fill="#6dbb3f" />
<rect x="262.27" y="552.34" width="3" height="1.2" fill="#111" />
<line x1="267.53" y1="540.64" x2="267.53" y2="553.45" stroke="#7a7a7a" stroke-width="1.0" />
<rect x="266.08" y="544.91" width="2.9" height="5.12" fill="#6dbb3f" />
<rect x="266.03" y="547.73" width="3" height="1.2" fill="#111" />
<line x1="271.62" y1="557.04" x2="271.62" y2="557.38" stroke="#7a7a7a" stroke-width="1.0" />
<rect x="270.12" y="556.78" width="3" height="1.2" fill="#111" />
<line x1="275.38" y1="520.15" x2="275.38" y2="556.87" stroke="#7a7a7a" stroke-width="1.0" />
<rect x="273.93" y="536.37" width="2.9" height="12.81" fill="#6dbb3f" />
<rect x="273.88" y="544.31" width="3" height="1.2" fill="#111" />
<line x1="278.97" y1="557.04" x2="278.97" y2="557.38" stroke="#7a7a7a" stroke-width="1.0" />
<rect x="277.47" y="556.78" width="3" height="1.2" fill="#111" />
<line x1="282.56" y1="541.5" x2="282.56" y2="553.45" stroke="#7a7a7a" stroke-width="1.0" />
<rect x="281.11" y="544.91" width="2.9" height="7.69" fill="#6dbb3f" />
<rect x="281.06" y="548.24" width="3" height="1.2" fill="#111" />
<line x1="286.31" y1="537.23" x2="286.31" y2="556.87" stroke="#7a7a7a" stroke-width="1.0" />
<rect x="284.86" y="545.77" width="2.9" height="7.69" fill="#6dbb3f" />
<rect x="284.81" y="549.44" width="3" height="1.2" fill="#111" />
<line x1="290.07" y1="549.18" x2="290.07" y2="557.38" stroke="#7a7a7a" stroke-width="1.0" />
<rect x="288.62" y="550.04" width="2.9" height="6.83" fill="#6dbb3f" />
<rect x="288.57" y="552.34" width="3" height="1.2" fill="#111" />
<line x1="294.06" y1="549.12" x2="294.06" y2="557.89" stroke="#7a7a7a" stroke-width="1.0" />
<rect x="292.61" y="553.66" width="2.9" height="4.23" fill="#6dbb3f" />
<rect x="292.56" y="556.08" width="3" height="1.2" fill="#111" />
<line x1="297.84" y1="536.28" x2="297.84" y2="556.68" stroke="#7a7a7a" stroke-width="1.0" />
<rect x="296.39" y="549.12" width="2.9" height="7.55" fill="#6dbb3f" />
<rect x="296.34" y="552.3" width="3" height="1.2" fill="#111" />
<line x1="301.31" y1="537.04" x2="301.31" y2="556.68" stroke="#7a7a7a" stroke-width="1.0" />
<rect x="299.86" y="542.33" width="2.9" height="9.82" fill="#6dbb3f" />
<rect x="299.81" y="547.77" width="3" height="1.2" fill="#111" />
<line x1="304.94" y1="520.12" x2="304.94" y2="556.68" stroke="#7a7a7a" stroke-width="1.0" />
<rect x="303.49" y="536.28" width="2.9" height="18.88" fill="#6dbb3f" />
<rect x="303.44" y="548.52" width="3" height="1.2" fill="#111" />
<line x1="308.72" y1="536.28" x2="308.72" y2="556.68" stroke="#7a7a7a" stroke-width="1.0" />
<rect x="307.27" y="545.35" width="2.9" height="9.06" fill="#6dbb3f" />
<rect x="307.22" y="548.52" width="3" height="1.2" fill="#111" />
<line x1="312.49" y1="507.58" x2="312.49" y2="556.68" stroke="#7a7a7a" stroke-width="1.0" />
<rect x="311.04" y="527.98" width="2.9" height="16.62" fill="#6dbb3f" />
<rect x="310.99" y="531.91" width="3" height="1.2" fill="#111" />
<line x1="322.46" y1="549.12" x2="322.46" y2="556.68" stroke="#7a7a7a" stroke-width="1.0" />
<rect x="321.01" y="549.88" width="2.9" height="6.8" fill="#6dbb3f" />
<rect x="320.96" y="554.57" width="3" height="1.2" fill="#111" />
<line x1="326.21" y1="457.3" x2="326.21" y2="553.45" stroke="#7a7a7a" stroke-width="1.0" />
<rect x="324.76" y="474.04" width="2.9" height="75.15" fill="#6dbb3f" />
<rect x="324.71" y="498.71" width="3" height="1.2" fill="#111" />
<line x1="329.97" y1="457.3" x2="329.97" y2="553.45" stroke="#7a7a7a" stroke-width="1.0" />
<rect x="328.52" y="478.3" width="2.9" height="70.88" fill="#6dbb3f" />
<rect x="328.47" y="519.21" width="3" height="1.2" fill="#111" />
<line x1="333.72" y1="461.23" x2="333.72" y2="556.87" stroke="#7a7a7a" stroke-width="1.0" />
<rect x="332.27" y="511.61" width="2.9" height="41.84" fill="#6dbb3f" />
<rect x="332.22" y="548.24" width="3" height="1.2" fill="#111" />
<line x1="337.48" y1="552.6" x2="337.48" y2="553.28" stroke="#7a7a7a" stroke-width="1.0" />
<rect x="336.03" y="552.6" width="2.9" height="0.68" fill="#6dbb3f" />
<rect x="335.98" y="552.34" width="3" height="1.2" fill="#111" />
<line x1="341.24" y1="532.11" x2="341.24" y2="556.87" stroke="#7a7a7a" stroke-width="1.0" />
<rect x="339.79" y="544.91" width="2.9" height="6.83" fill="#6dbb3f" />
<rect x="339.74" y="547.73" width="3" height="1.2" fill="#111" />
<line x1="345" y1="465.5" x2="345" y2="556.87" stroke="#7a7a7a" stroke-width="1.0" />
<rect x="343.55" y="478.3" width="2.9" height="52.09" fill="#6dbb3f" />
<rect x="343.5" y="502.47" width="3" height="1.2" fill="#111" />
<line x1="348.92" y1="469.77" x2="348.92" y2="556.87" stroke="#7a7a7a" stroke-width="1.0" />
<rect x="347.47" y="507.34" width="2.9" height="33.3" fill="#6dbb3f" />
<rect x="347.42" y="523.31" width="3" height="1.2" fill="#111" />
<line x1="352.27" y1="532.11" x2="352.27" y2="557.38" stroke="#7a7a7a" stroke-width="1.0" />
<rect x="350.82" y="544.91" width="2.9" height="8.54" fill="#6dbb3f" />
<rect x="350.77" y="548.24" width="3" height="1.2" fill="#111" />
<line x1="356.03" y1="457.3" x2="356.03" y2="553.45" stroke="#7a7a7a" stroke-width="1.0" />
<rect x="354.58" y="510.76" width="2.9" height="37.57" fill="#6dbb3f" />
<rect x="354.53" y="544.31" width="3" height="1.2" fill="#111" />
<line x1="359.78" y1="524.42" x2="359.78" y2="553.45" stroke="#7a7a7a" stroke-width="1.0" />
<rect x="358.33" y="528.35" width="2.9" height="19.13" fill="#6dbb3f" />
<rect x="358.28" y="540.04" width="3" height="1.2" fill="#111" />
<line x1="363.71" y1="486.84" x2="363.71" y2="549.18" stroke="#7a7a7a" stroke-width="1.0" />
<rect x="362.26" y="506.49" width="2.9" height="25.62" fill="#6dbb3f" />
<rect x="362.21" y="514.77" width="3" height="1.2" fill="#111" />
<line x1="367.47" y1="552.6" x2="367.47" y2="553.28" stroke="#7a7a7a" stroke-width="1.0" />
<rect x="366.02" y="552.6" width="2.9" height="0.68" fill="#6dbb3f" />
<rect x="365.97" y="552.34" width="3" height="1.2" fill="#111" />
<line x1="370.89" y1="544.91" x2="370.89" y2="557.38" stroke="#7a7a7a" stroke-width="1.0" />
<rect x="369.44" y="549.18" width="2.9" height="8.2" fill="#6dbb3f" />
<rect x="369.39" y="552.34" width="3" height="1.2" fill="#111" />
<line x1="374.64" y1="469.77" x2="374.64" y2="549.18" stroke="#7a7a7a" stroke-width="1.0" />
<rect x="373.19" y="499.31" width="2.9" height="24.25" fill="#6dbb3f" />
<rect x="373.14" y="506.74" width="3" height="1.2" fill="#111" />
<line x1="378.4" y1="552.94" x2="378.4" y2="557.38" stroke="#7a7a7a" stroke-width="1.0" />
<rect x="376.95" y="552.94" width="2.9" height="4.44" fill="#6dbb3f" />
<rect x="376.9" y="553.71" width="3" height="1.2" fill="#111" />
<line x1="382.16" y1="532.11" x2="382.16" y2="556.87" stroke="#7a7a7a" stroke-width="1.0" />
<rect x="380.71" y="545.77" width="2.9" height="7.69" fill="#6dbb3f" />
<rect x="380.66" y="548.24" width="3" height="1.2" fill="#111" />
<line x1="385.92" y1="461.23" x2="385.92" y2="553.45" stroke="#7a7a7a" stroke-width="1.0" />
<rect x="384.47" y="489.75" width="2.9" height="55.17" fill="#6dbb3f" />
<rect x="384.42" y="512.72" width="3" height="1.2" fill="#111" />
<line x1="389.84" y1="474.04" x2="389.84" y2="556.87" stroke="#7a7a7a" stroke-width="1.0" />
<rect x="388.39" y="515.88" width="2.9" height="33.3" fill="#6dbb3f" />
<rect x="388.34" y="540.04" width="3" height="1.2" fill="#111" />
<line x1="393.43" y1="520.15" x2="393.43" y2="556.87" stroke="#7a7a7a" stroke-width="1.0" />
<rect x="391.98" y="532.11" width="2.9" height="17.08" fill="#6dbb3f" />
<rect x="391.93" y="544.31" width="3" height="1.2" fill="#111" />
<line x1="397.19" y1="490.77" x2="397.19" y2="557.38" stroke="#7a7a7a" stroke-width="1.0" />
<rect x="395.74" y="519.3" width="2.9" height="33.3" fill="#6dbb3f" />
<rect x="395.69" y="548.24" width="3" height="1.2" fill="#111" />
<line x1="400.95" y1="537.23" x2="400.95" y2="557.38" stroke="#7a7a7a" stroke-width="1.0" />
<rect x="399.5" y="544.91" width="2.9" height="10.25" fill="#6dbb3f" />
<rect x="399.45" y="552.34" width="3" height="1.2" fill="#111" />
<line x1="404.7" y1="490.77" x2="404.7" y2="556.87" stroke="#7a7a7a" stroke-width="1.0" />
<rect x="403.25" y="520.15" width="2.9" height="29.04" fill="#6dbb3f" />
<rect x="403.2" y="531.51" width="3" height="1.2" fill="#111" />
<line x1="408.63" y1="503.07" x2="408.63" y2="556.87" stroke="#7a7a7a" stroke-width="1.0" />
<rect x="407.18" y="528.69" width="2.9" height="20.5" fill="#6dbb3f" />
<rect x="407.13" y="544.31" width="3" height="1.2" fill="#111" />
<line x1="412.3" y1="528.35" x2="412.3" y2="556.87" stroke="#7a7a7a" stroke-width="1.0" />
<rect x="410.85" y="543.21" width="2.9" height="9.39" fill="#6dbb3f" />
<rect x="410.8" y="550.29" width="3" height="1.2" fill="#111" />
<line x1="419.13" y1="532.11" x2="419.13" y2="556.87" stroke="#7a7a7a" stroke-width="1.0" />
<rect x="417.68" y="544.91" width="2.9" height="9.39" fill="#6dbb3f" />
<rect x="417.63" y="552.34" width="3" height="1.2" fill="#111" />
<line x1="422.89" y1="532.11" x2="422.89" y2="556.87" stroke="#7a7a7a" stroke-width="1.0" />
<rect x="421.44" y="544.91" width="2.9" height="7.69" fill="#6dbb3f" />
<rect x="421.39" y="548.24" width="3" height="1.2" fill="#111" />
<line x1="426.64" y1="528.35" x2="426.64" y2="556.87" stroke="#7a7a7a" stroke-width="1.0" />
<rect x="425.19" y="544.91" width="2.9" height="11.96" fill="#6dbb3f" />
<rect x="425.14" y="552.34" width="3" height="1.2" fill="#111" />
<line x1="430.4" y1="544.91" x2="430.4" y2="556.87" stroke="#7a7a7a" stroke-width="1.0" />
<rect x="428.95" y="547.48" width="2.9" height="5.12" fill="#6dbb3f" />
<rect x="428.9" y="548.24" width="3" height="1.2" fill="#111" />
<line x1="434.16" y1="536.37" x2="434.16" y2="556.87" stroke="#7a7a7a" stroke-width="1.0" />
<rect x="432.71" y="545.77" width="2.9" height="6.83" fill="#6dbb3f" />
<rect x="432.66" y="548.24" width="3" height="1.2" fill="#111" />
<line x1="437.92" y1="532.11" x2="437.92" y2="556.87" stroke="#7a7a7a" stroke-width="1.0" />
<rect x="436.47" y="544.91" width="2.9" height="7.69" fill="#6dbb3f" />
<rect x="436.42" y="548.24" width="3" height="1.2" fill="#111" />
<text transform="translate(63.98,581.30) rotate(-90)" font-size="3.8" fill="#666" textLength="10.1" lengthAdjust="spacingAndGlyphs">80335</text>
<text transform="translate(67.74,581.30) rotate(-90)" font-size="3.8" fill="#666" textLength="10.1" lengthAdjust="spacingAndGlyphs">23299</text>
<text transform="translate(71.50,581.30) rotate(-90)" font-size="3.8" fill="#666" textLength="10.1" lengthAdjust="spacingAndGlyphs">57659</text>
<text transform="translate(75.43,581.30) rotate(-90)" font-size="3.8" fill="#666" textLength="10.1" lengthAdjust="spacingAndGlyphs">90443</text>
<text transform="translate(79.01,581.30) rotate(-90)" font-size="3.8" fill="#666" textLength="10.1" lengthAdjust="spacingAndGlyphs">13342</text>
<text transform="translate(82.77,581.30) rotate(-90)" font-size="3.8" fill="#666" textLength="10.1" lengthAdjust="spacingAndGlyphs">19216</text>
<text transform="translate(86.53,581.30) rotate(-90)" font-size="3.8" fill="#666" textLength="10.1" lengthAdjust="spacingAndGlyphs">37256</text>
<text transform="translate(90.28,581.30) rotate(-90)" font-size="3.8" fill="#666" textLength="10.1" lengthAdjust="spacingAndGlyphs">90487</text>
<text transform="translate(94.04,581.30) rotate(-90)" font-size="3.8" fill="#666" textLength="10.1" lengthAdjust="spacingAndGlyphs">59313</text>
<text transform="translate(97.63,581.30) rotate(-90)" font-size="3.8" fill="#666" textLength="10.1" lengthAdjust="spacingAndGlyphs">29470</text>
<text transform="translate(101.39,581.30) rotate(-90)" font-size="3.8" fill="#666" textLength="10.1" lengthAdjust="spacingAndGlyphs">93153</text>
<text transform="translate(104.97,581.30) rotate(-90)" font-size="3.8" fill="#666" textLength="10.1" lengthAdjust="spacingAndGlyphs">43063</text>
<text transform="translate(108.73,581.30) rotate(-90)" font-size="3.8" fill="#666" textLength="10.1" lengthAdjust="spacingAndGlyphs">55533</text>
<text transform="translate(112.49,581.30) rotate(-90)" font-size="3.8" fill="#666" textLength="10.1" lengthAdjust="spacingAndGlyphs">88941</text>
<text transform="translate(116.42,581.30) rotate(-90)" font-size="3.8" fill="#666" textLength="10.1" lengthAdjust="spacingAndGlyphs">57731</text>
<text transform="translate(119.83,581.30) rotate(-90)" font-size="3.8" fill="#666" textLength="10.1" lengthAdjust="spacingAndGlyphs">72147</text>
<text transform="translate(123.69,581.30) rotate(-90)" font-size="3.8" fill="#666" textLength="10.1" lengthAdjust="spacingAndGlyphs">26101</text>
<text transform="translate(127.45,581.30) rotate(-90)" font-size="3.8" fill="#666" textLength="10.1" lengthAdjust="spacingAndGlyphs">25119</text>
<text transform="translate(131.21,581.30) rotate(-90)" font-size="3.8" fill="#666" textLength="10.1" lengthAdjust="spacingAndGlyphs">73972</text>
<text transform="translate(134.96,581.30) rotate(-90)" font-size="3.8" fill="#666" textLength="10.1" lengthAdjust="spacingAndGlyphs">71078</text>
<text transform="translate(138.72,581.30) rotate(-90)" font-size="3.8" fill="#666" textLength="10.1" lengthAdjust="spacingAndGlyphs">72966</text>
<text transform="translate(142.48,581.30) rotate(-90)" font-size="3.8" fill="#666" textLength="10.1" lengthAdjust="spacingAndGlyphs">73417</text>
<text transform="translate(146.24,581.30) rotate(-90)" font-size="3.8" fill="#666" textLength="10.1" lengthAdjust="spacingAndGlyphs">50875</text>
<text transform="translate(149.99,581.30) rotate(-90)" font-size="3.8" fill="#666" textLength="10.1" lengthAdjust="spacingAndGlyphs">21257</text>
<text transform="translate(153.58,581.30) rotate(-90)" font-size="3.8" fill="#666" textLength="10.1" lengthAdjust="spacingAndGlyphs">28889</text>
<text transform="translate(157.34,581.30) rotate(-90)" font-size="3.8" fill="#666" textLength="10.1" lengthAdjust="spacingAndGlyphs">23393</text>
<text transform="translate(161.09,581.30) rotate(-90)" font-size="3.8" fill="#666" textLength="10.1" lengthAdjust="spacingAndGlyphs">54909</text>
<text transform="translate(164.68,581.30) rotate(-90)" font-size="3.8" fill="#666" textLength="10.1" lengthAdjust="spacingAndGlyphs">44702</text>
<text transform="translate(168.44,581.30) rotate(-90)" font-size="3.8" fill="#666" textLength="10.1" lengthAdjust="spacingAndGlyphs">72733</text>
<text transform="translate(172.20,581.30) rotate(-90)" font-size="3.8" fill="#666" textLength="10.1" lengthAdjust="spacingAndGlyphs">31160</text>
<text transform="translate(175.78,581.30) rotate(-90)" font-size="3.8" fill="#666" textLength="10.1" lengthAdjust="spacingAndGlyphs">77676</text>
<text transform="translate(179.47,581.30) rotate(-90)" font-size="3.8" fill="#666" textLength="10.1" lengthAdjust="spacingAndGlyphs">13027</text>
<text transform="translate(183.40,581.30) rotate(-90)" font-size="3.8" fill="#666" textLength="10.1" lengthAdjust="spacingAndGlyphs">36897</text>
<text transform="translate(187.16,581.30) rotate(-90)" font-size="3.8" fill="#666" textLength="10.1" lengthAdjust="spacingAndGlyphs">79239</text>
<text transform="translate(190.91,581.30) rotate(-90)" font-size="3.8" fill="#666" textLength="10.1" lengthAdjust="spacingAndGlyphs">57415</text>
<text transform="translate(194.67,581.30) rotate(-90)" font-size="3.8" fill="#666" textLength="10.1" lengthAdjust="spacingAndGlyphs">29215</text>
<text transform="translate(198.43,581.30) rotate(-90)" font-size="3.8" fill="#666" textLength="10.1" lengthAdjust="spacingAndGlyphs">81194</text>
<text transform="translate(202.19,581.30) rotate(-90)" font-size="3.8" fill="#666" textLength="10.1" lengthAdjust="spacingAndGlyphs">13544</text>
<text transform="translate(205.94,581.30) rotate(-90)" font-size="3.8" fill="#666" textLength="10.1" lengthAdjust="spacingAndGlyphs">79220</text>
<text transform="translate(209.70,581.30) rotate(-90)" font-size="3.8" fill="#666" textLength="10.1" lengthAdjust="spacingAndGlyphs">49071</text>
<text transform="translate(213.46,581.30) rotate(-90)" font-size="3.8" fill="#666" textLength="10.1" lengthAdjust="spacingAndGlyphs">94268</text>
<text transform="translate(217.04,581.30) rotate(-90)" font-size="3.8" fill="#666" textLength="10.1" lengthAdjust="spacingAndGlyphs">21928</text>
<text transform="translate(220.80,581.30) rotate(-90)" font-size="3.8" fill="#666" textLength="10.1" lengthAdjust="spacingAndGlyphs">44224</text>
<text transform="translate(224.73,581.30) rotate(-90)" font-size="3.8" fill="#666" textLength="10.1" lengthAdjust="spacingAndGlyphs">77947</text>
<text transform="translate(228.32,581.30) rotate(-90)" font-size="3.8" fill="#666" textLength="10.1" lengthAdjust="spacingAndGlyphs">58064</text>
<text transform="translate(232.07,581.30) rotate(-90)" font-size="3.8" fill="#666" textLength="10.1" lengthAdjust="spacingAndGlyphs">31894</text>
<text transform="translate(235.83,581.30) rotate(-90)" font-size="3.8" fill="#666" textLength="10.1" lengthAdjust="spacingAndGlyphs">56621</text>
<text transform="translate(239.35,581.30) rotate(-90)" font-size="3.8" fill="#666" textLength="10.1" lengthAdjust="spacingAndGlyphs">39201</text>
<text transform="translate(243.11,581.30) rotate(-90)" font-size="3.8" fill="#666" textLength="10.1" lengthAdjust="spacingAndGlyphs">79807</text>
<text transform="translate(246.86,581.30) rotate(-90)" font-size="3.8" fill="#666" textLength="10.1" lengthAdjust="spacingAndGlyphs">80984</text>
<text transform="translate(253.70,581.30) rotate(-90)" font-size="3.8" fill="#666" textLength="10.1" lengthAdjust="spacingAndGlyphs">75889</text>
<text transform="translate(257.62,581.30) rotate(-90)" font-size="3.8" fill="#666" textLength="10.1" lengthAdjust="spacingAndGlyphs">53209</text>
<text transform="translate(261.38,581.30) rotate(-90)" font-size="3.8" fill="#666" textLength="10.1" lengthAdjust="spacingAndGlyphs">93419</text>
<text transform="translate(264.97,581.30) rotate(-90)" font-size="3.8" fill="#666" textLength="10.1" lengthAdjust="spacingAndGlyphs">39234</text>
<text transform="translate(268.73,581.30) rotate(-90)" font-size="3.8" fill="#666" textLength="10.1" lengthAdjust="spacingAndGlyphs">90377</text>
<text transform="translate(272.82,581.30) rotate(-90)" font-size="3.8" fill="#666" textLength="10.1" lengthAdjust="spacingAndGlyphs">35578</text>
<text transform="translate(276.58,581.30) rotate(-90)" font-size="3.8" fill="#666" textLength="10.1" lengthAdjust="spacingAndGlyphs">41377</text>
<text transform="translate(280.17,581.30) rotate(-90)" font-size="3.8" fill="#666" textLength="10.1" lengthAdjust="spacingAndGlyphs">62518</text>
<text transform="translate(283.76,581.30) rotate(-90)" font-size="3.8" fill="#666" textLength="10.1" lengthAdjust="spacingAndGlyphs">39719</text>
<text transform="translate(287.51,581.30) rotate(-90)" font-size="3.8" fill="#666" textLength="10.1" lengthAdjust="spacingAndGlyphs">36203</text>
<text transform="translate(291.27,581.30) rotate(-90)" font-size="3.8" fill="#666" textLength="10.1" lengthAdjust="spacingAndGlyphs">77847</text>
<text transform="translate(295.26,581.30) rotate(-90)" font-size="3.8" fill="#666" textLength="10.1" lengthAdjust="spacingAndGlyphs">74589</text>
<text transform="translate(299.04,581.30) rotate(-90)" font-size="3.8" fill="#666" textLength="10.1" lengthAdjust="spacingAndGlyphs">56604</text>
<text transform="translate(302.51,581.30) rotate(-90)" font-size="3.8" fill="#666" textLength="10.1" lengthAdjust="spacingAndGlyphs">13798</text>
<text transform="translate(306.14,581.30) rotate(-90)" font-size="3.8" fill="#666" textLength="10.1" lengthAdjust="spacingAndGlyphs">13661</text>
<text transform="translate(309.92,581.30) rotate(-90)" font-size="3.8" fill="#666" textLength="10.1" lengthAdjust="spacingAndGlyphs">46623</text>
<text transform="translate(313.69,581.30) rotate(-90)" font-size="3.8" fill="#666" textLength="10.1" lengthAdjust="spacingAndGlyphs">71897</text>
<text transform="translate(323.66,581.30) rotate(-90)" font-size="3.8" fill="#666" textLength="10.1" lengthAdjust="spacingAndGlyphs">43970</text>
<text transform="translate(327.41,581.30) rotate(-90)" font-size="3.8" fill="#666" textLength="10.1" lengthAdjust="spacingAndGlyphs">35381</text>
<text transform="translate(331.17,581.30) rotate(-90)" font-size="3.8" fill="#666" textLength="10.1" lengthAdjust="spacingAndGlyphs">89316</text>
<text transform="translate(334.92,581.30) rotate(-90)" font-size="3.8" fill="#666" textLength="10.1" lengthAdjust="spacingAndGlyphs">55125</text>
<text transform="translate(338.68,581.30) rotate(-90)" font-size="3.8" fill="#666" textLength="10.1" lengthAdjust="spacingAndGlyphs">68619</text>
<text transform="translate(342.44,581.30) rotate(-90)" font-size="3.8" fill="#666" textLength="10.1" lengthAdjust="spacingAndGlyphs">55812</text>
<text transform="translate(346.20,581.30) rotate(-90)" font-size="3.8" fill="#666" textLength="10.1" lengthAdjust="spacingAndGlyphs">57793</text>
<text transform="translate(350.12,581.30) rotate(-90)" font-size="3.8" fill="#666" textLength="10.1" lengthAdjust="spacingAndGlyphs">20556</text>
<text transform="translate(353.47,581.30) rotate(-90)" font-size="3.8" fill="#666" textLength="10.1" lengthAdjust="spacingAndGlyphs">38896</text>
<text transform="translate(357.23,581.30) rotate(-90)" font-size="3.8" fill="#666" textLength="10.1" lengthAdjust="spacingAndGlyphs">23389</text>
<text transform="translate(360.98,581.30) rotate(-90)" font-size="3.8" fill="#666" textLength="10.1" lengthAdjust="spacingAndGlyphs">39733</text>
<text transform="translate(364.91,581.30) rotate(-90)" font-size="3.8" fill="#666" textLength="10.1" lengthAdjust="spacingAndGlyphs">71614</text>
<text transform="translate(368.67,581.30) rotate(-90)" font-size="3.8" fill="#666" textLength="10.1" lengthAdjust="spacingAndGlyphs">35782</text>
<text transform="translate(372.09,581.30) rotate(-90)" font-size="3.8" fill="#666" textLength="10.1" lengthAdjust="spacingAndGlyphs">54267</text>
<text transform="translate(375.84,581.30) rotate(-90)" font-size="3.8" fill="#666" textLength="10.1" lengthAdjust="spacingAndGlyphs">36787</text>
<text transform="translate(379.60,581.30) rotate(-90)" font-size="3.8" fill="#666" textLength="10.1" lengthAdjust="spacingAndGlyphs">73262</text>
<text transform="translate(383.36,581.30) rotate(-90)" font-size="3.8" fill="#666" textLength="10.1" lengthAdjust="spacingAndGlyphs">91797</text>
<text transform="translate(387.12,581.30) rotate(-90)" font-size="3.8" fill="#666" textLength="10.1" lengthAdjust="spacingAndGlyphs">89988</text>
<text transform="translate(391.04,581.30) rotate(-90)" font-size="3.8" fill="#666" textLength="10.1" lengthAdjust="spacingAndGlyphs">10250</text>
<text transform="translate(394.63,581.30) rotate(-90)" font-size="3.8" fill="#666" textLength="10.1" lengthAdjust="spacingAndGlyphs">72845</text>
<text transform="translate(398.39,581.30) rotate(-90)" font-size="3.8" fill="#666" textLength="10.1" lengthAdjust="spacingAndGlyphs">95587</text>
<text transform="translate(402.15,581.30) rotate(-90)" font-size="3.8" fill="#666" textLength="10.1" lengthAdjust="spacingAndGlyphs">55089</text>
<text transform="translate(405.90,581.30) rotate(-90)" font-size="3.8" fill="#666" textLength="10.1" lengthAdjust="spacingAndGlyphs">94296</text>
<text transform="translate(409.83,581.30) rotate(-90)" font-size="3.8" fill="#666" textLength="10.1" lengthAdjust="spacingAndGlyphs">21112</text>
<text transform="translate(413.50,581.30) rotate(-90)" font-size="3.8" fill="#666" textLength="10.1" lengthAdjust="spacingAndGlyphs">96584</text>
<text transform="translate(420.33,581.30) rotate(-90)" font-size="3.8" fill="#666" textLength="10.1" lengthAdjust="spacingAndGlyphs">25716</text>
<text transform="translate(424.09,581.30) rotate(-90)" font-size="3.8" fill="#666" textLength="10.1" lengthAdjust="spacingAndGlyphs">60926</text>
<text transform="translate(427.84,581.30) rotate(-90)" font-size="3.8" fill="#666" textLength="10.1" lengthAdjust="spacingAndGlyphs">36125</text>
<text transform="translate(431.60,581.30) rotate(-90)" font-size="3.8" fill="#666" textLength="10.1" lengthAdjust="spacingAndGlyphs">72656</text>
<text transform="translate(435.36,581.30) rotate(-90)" font-size="3.8" fill="#666" textLength="10.1" lengthAdjust="spacingAndGlyphs">33399</text>
<text transform="translate(439.12,581.30) rotate(-90)" font-size="3.8" fill="#666" textLength="10.1" lengthAdjust="spacingAndGlyphs">66875</text>
<rect x="79.6" y="452.5" width="3.5" height="130" fill="#ffe060" opacity="0.3"/>
<rect x="175.7" y="452.5" width="4" height="130" fill="#ffe060" opacity="0.3"/>
<rect x="193.8" y="452.5" width="13.1" height="130" fill="#ffe060" opacity="0.3"/>
<rect x="210" y="452.5" width="3.8" height="130" fill="#ffe060" opacity="0.3"/>
<rect x="235" y="452.5" width="8" height="130" fill="#ffe060" opacity="0.3"/>
<rect x="255.2" y="452.5" width="16.6" height="130" fill="#ffe060" opacity="0.3"/>
<rect x="276.6" y="452.5" width="29.4" height="130" fill="#ffe060" opacity="0.3"/>
<rect x="320.2" y="452.5" width="20.8" height="130" fill="#ffe060" opacity="0.3"/>
<rect x="349.8" y="452.5" width="3.9" height="130" fill="#ffe060" opacity="0.3"/>
<rect x="365.2" y="452.5" width="5.8" height="130" fill="#ffe060" opacity="0.3"/>
<rect x="375.8" y="452.5" width="6.7" height="130" fill="#ffe060" opacity="0.3"/>
<rect x="395" y="452.5" width="6.7" height="130" fill="#ffe060" opacity="0.3"/>
<rect x="409.4" y="452.5" width="3.3" height="130" fill="#ffe060" opacity="0.3"/>
<rect x="417" y="452.5" width="24.2" height="130" fill="#ffe060" opacity="0.3"/>
<line x1="60.5" y1="452.5" x2="60.5" y2="567.2" stroke="#2a2a2a" stroke-width="1.2" />
<line x1="60" y1="566.6" x2="441.3" y2="566.6" stroke="#2a2a2a" stroke-width="1.2" />
<line x1="57.3" y1="561.3" x2="60.5" y2="561.3" stroke="#2a2a2a" stroke-width="1" />
<text x="53.6" y="563.4" font-size="6.3" fill="#333" text-anchor="end" textLength="2.8" lengthAdjust="spacingAndGlyphs"  stroke="#333" stroke-width="0.12">0</text>
<line x1="57.3" y1="540.5" x2="60.5" y2="540.5" stroke="#2a2a2a" stroke-width="1" />
<text x="53.6" y="542.6" font-size="6.3" fill="#333" text-anchor="end" textLength="2.8" lengthAdjust="spacingAndGlyphs"  stroke="#333" stroke-width="0.12">5</text>
<line x1="57.3" y1="519.7" x2="60.5" y2="519.7" stroke="#2a2a2a" stroke-width="1" />
<text x="53.6" y="521.8" font-size="6.3" fill="#333" text-anchor="end" textLength="5.4" lengthAdjust="spacingAndGlyphs"  stroke="#333" stroke-width="0.12">10</text>
<line x1="57.3" y1="498.9" x2="60.5" y2="498.9" stroke="#2a2a2a" stroke-width="1" />
<text x="53.6" y="501" font-size="6.3" fill="#333" text-anchor="end" textLength="5.4" lengthAdjust="spacingAndGlyphs"  stroke="#333" stroke-width="0.12">15</text>
<line x1="57.3" y1="478.1" x2="60.5" y2="478.1" stroke="#2a2a2a" stroke-width="1" />
<text x="53.6" y="480.2" font-size="6.3" fill="#333" text-anchor="end" textLength="5.4" lengthAdjust="spacingAndGlyphs"  stroke="#333" stroke-width="0.12">20</text>
<line x1="57.3" y1="457.3" x2="60.5" y2="457.3" stroke="#2a2a2a" stroke-width="1" />
<text x="53.6" y="459.4" font-size="6.3" fill="#333" text-anchor="end" textLength="5.4" lengthAdjust="spacingAndGlyphs"  stroke="#333" stroke-width="0.12">25</text>
<line x1="62.78" y1="566.6" x2="62.78" y2="570" stroke="#2a2a2a" stroke-width="0.9" />
<line x1="66.54" y1="566.6" x2="66.54" y2="570" stroke="#2a2a2a" stroke-width="0.9" />
<line x1="70.3" y1="566.6" x2="70.3" y2="570" stroke="#2a2a2a" stroke-width="0.9" />
<line x1="74.23" y1="566.6" x2="74.23" y2="570" stroke="#2a2a2a" stroke-width="0.9" />
<line x1="77.81" y1="566.6" x2="77.81" y2="570" stroke="#2a2a2a" stroke-width="0.9" />
<line x1="81.57" y1="566.6" x2="81.57" y2="570" stroke="#2a2a2a" stroke-width="0.9" />
<line x1="85.33" y1="566.6" x2="85.33" y2="570" stroke="#2a2a2a" stroke-width="0.9" />
<line x1="89.08" y1="566.6" x2="89.08" y2="570" stroke="#2a2a2a" stroke-width="0.9" />
<line x1="92.84" y1="566.6" x2="92.84" y2="570" stroke="#2a2a2a" stroke-width="0.9" />
<line x1="96.43" y1="566.6" x2="96.43" y2="570" stroke="#2a2a2a" stroke-width="0.9" />
<line x1="100.19" y1="566.6" x2="100.19" y2="570" stroke="#2a2a2a" stroke-width="0.9" />
<line x1="103.77" y1="566.6" x2="103.77" y2="570" stroke="#2a2a2a" stroke-width="0.9" />
<line x1="107.53" y1="566.6" x2="107.53" y2="570" stroke="#2a2a2a" stroke-width="0.9" />
<line x1="111.29" y1="566.6" x2="111.29" y2="570" stroke="#2a2a2a" stroke-width="0.9" />
<line x1="115.22" y1="566.6" x2="115.22" y2="570" stroke="#2a2a2a" stroke-width="0.9" />
<line x1="118.63" y1="566.6" x2="118.63" y2="570" stroke="#2a2a2a" stroke-width="0.9" />
<line x1="122.49" y1="566.6" x2="122.49" y2="570" stroke="#2a2a2a" stroke-width="0.9" />
<line x1="126.25" y1="566.6" x2="126.25" y2="570" stroke="#2a2a2a" stroke-width="0.9" />
<line x1="130.01" y1="566.6" x2="130.01" y2="570" stroke="#2a2a2a" stroke-width="0.9" />
<line x1="133.76" y1="566.6" x2="133.76" y2="570" stroke="#2a2a2a" stroke-width="0.9" />
<line x1="137.52" y1="566.6" x2="137.52" y2="570" stroke="#2a2a2a" stroke-width="0.9" />
<line x1="141.28" y1="566.6" x2="141.28" y2="570" stroke="#2a2a2a" stroke-width="0.9" />
<line x1="145.04" y1="566.6" x2="145.04" y2="570" stroke="#2a2a2a" stroke-width="0.9" />
<line x1="148.79" y1="566.6" x2="148.79" y2="570" stroke="#2a2a2a" stroke-width="0.9" />
<line x1="152.38" y1="566.6" x2="152.38" y2="570" stroke="#2a2a2a" stroke-width="0.9" />
<line x1="156.14" y1="566.6" x2="156.14" y2="570" stroke="#2a2a2a" stroke-width="0.9" />
<line x1="159.89" y1="566.6" x2="159.89" y2="570" stroke="#2a2a2a" stroke-width="0.9" />
<line x1="163.48" y1="566.6" x2="163.48" y2="570" stroke="#2a2a2a" stroke-width="0.9" />
<line x1="167.24" y1="566.6" x2="167.24" y2="570" stroke="#2a2a2a" stroke-width="0.9" />
<line x1="171" y1="566.6" x2="171" y2="570" stroke="#2a2a2a" stroke-width="0.9" />
<line x1="174.58" y1="566.6" x2="174.58" y2="570" stroke="#2a2a2a" stroke-width="0.9" />
<line x1="178.27" y1="566.6" x2="178.27" y2="570" stroke="#2a2a2a" stroke-width="0.9" />
<line x1="182.2" y1="566.6" x2="182.2" y2="570" stroke="#2a2a2a" stroke-width="0.9" />
<line x1="185.96" y1="566.6" x2="185.96" y2="570" stroke="#2a2a2a" stroke-width="0.9" />
<line x1="189.71" y1="566.6" x2="189.71" y2="570" stroke="#2a2a2a" stroke-width="0.9" />
<line x1="193.47" y1="566.6" x2="193.47" y2="570" stroke="#2a2a2a" stroke-width="0.9" />
<line x1="197.23" y1="566.6" x2="197.23" y2="570" stroke="#2a2a2a" stroke-width="0.9" />
<line x1="200.99" y1="566.6" x2="200.99" y2="570" stroke="#2a2a2a" stroke-width="0.9" />
<line x1="204.74" y1="566.6" x2="204.74" y2="570" stroke="#2a2a2a" stroke-width="0.9" />
<line x1="208.5" y1="566.6" x2="208.5" y2="570" stroke="#2a2a2a" stroke-width="0.9" />
<line x1="212.26" y1="566.6" x2="212.26" y2="570" stroke="#2a2a2a" stroke-width="0.9" />
<line x1="215.84" y1="566.6" x2="215.84" y2="570" stroke="#2a2a2a" stroke-width="0.9" />
<line x1="219.6" y1="566.6" x2="219.6" y2="570" stroke="#2a2a2a" stroke-width="0.9" />
<line x1="223.53" y1="566.6" x2="223.53" y2="570" stroke="#2a2a2a" stroke-width="0.9" />
<line x1="227.12" y1="566.6" x2="227.12" y2="570" stroke="#2a2a2a" stroke-width="0.9" />
<line x1="230.87" y1="566.6" x2="230.87" y2="570" stroke="#2a2a2a" stroke-width="0.9" />
<line x1="234.63" y1="566.6" x2="234.63" y2="570" stroke="#2a2a2a" stroke-width="0.9" />
<line x1="238.15" y1="566.6" x2="238.15" y2="570" stroke="#2a2a2a" stroke-width="0.9" />
<line x1="241.91" y1="566.6" x2="241.91" y2="570" stroke="#2a2a2a" stroke-width="0.9" />
<line x1="245.66" y1="566.6" x2="245.66" y2="570" stroke="#2a2a2a" stroke-width="0.9" />
<line x1="252.5" y1="566.6" x2="252.5" y2="570" stroke="#2a2a2a" stroke-width="0.9" />
<line x1="256.42" y1="566.6" x2="256.42" y2="570" stroke="#2a2a2a" stroke-width="0.9" />
<line x1="260.18" y1="566.6" x2="260.18" y2="570" stroke="#2a2a2a" stroke-width="0.9" />
<line x1="263.77" y1="566.6" x2="263.77" y2="570" stroke="#2a2a2a" stroke-width="0.9" />
<line x1="267.53" y1="566.6" x2="267.53" y2="570" stroke="#2a2a2a" stroke-width="0.9" />
<line x1="271.62" y1="566.6" x2="271.62" y2="570" stroke="#2a2a2a" stroke-width="0.9" />
<line x1="275.38" y1="566.6" x2="275.38" y2="570" stroke="#2a2a2a" stroke-width="0.9" />
<line x1="278.97" y1="566.6" x2="278.97" y2="570" stroke="#2a2a2a" stroke-width="0.9" />
<line x1="282.56" y1="566.6" x2="282.56" y2="570" stroke="#2a2a2a" stroke-width="0.9" />
<line x1="286.31" y1="566.6" x2="286.31" y2="570" stroke="#2a2a2a" stroke-width="0.9" />
<line x1="290.07" y1="566.6" x2="290.07" y2="570" stroke="#2a2a2a" stroke-width="0.9" />
<line x1="294.06" y1="566.6" x2="294.06" y2="570" stroke="#2a2a2a" stroke-width="0.9" />
<line x1="297.84" y1="566.6" x2="297.84" y2="570" stroke="#2a2a2a" stroke-width="0.9" />
<line x1="301.31" y1="566.6" x2="301.31" y2="570" stroke="#2a2a2a" stroke-width="0.9" />
<line x1="304.94" y1="566.6" x2="304.94" y2="570" stroke="#2a2a2a" stroke-width="0.9" />
<line x1="308.72" y1="566.6" x2="308.72" y2="570" stroke="#2a2a2a" stroke-width="0.9" />
<line x1="312.49" y1="566.6" x2="312.49" y2="570" stroke="#2a2a2a" stroke-width="0.9" />
<line x1="322.46" y1="566.6" x2="322.46" y2="570" stroke="#2a2a2a" stroke-width="0.9" />
<line x1="326.21" y1="566.6" x2="326.21" y2="570" stroke="#2a2a2a" stroke-width="0.9" />
<line x1="329.97" y1="566.6" x2="329.97" y2="570" stroke="#2a2a2a" stroke-width="0.9" />
<line x1="333.72" y1="566.6" x2="333.72" y2="570" stroke="#2a2a2a" stroke-width="0.9" />
<line x1="337.48" y1="566.6" x2="337.48" y2="570" stroke="#2a2a2a" stroke-width="0.9" />
<line x1="341.24" y1="566.6" x2="341.24" y2="570" stroke="#2a2a2a" stroke-width="0.9" />
<line x1="345" y1="566.6" x2="345" y2="570" stroke="#2a2a2a" stroke-width="0.9" />
<line x1="348.92" y1="566.6" x2="348.92" y2="570" stroke="#2a2a2a" stroke-width="0.9" />
<line x1="352.27" y1="566.6" x2="352.27" y2="570" stroke="#2a2a2a" stroke-width="0.9" />
<line x1="356.03" y1="566.6" x2="356.03" y2="570" stroke="#2a2a2a" stroke-width="0.9" />
<line x1="359.78" y1="566.6" x2="359.78" y2="570" stroke="#2a2a2a" stroke-width="0.9" />
<line x1="363.71" y1="566.6" x2="363.71" y2="570" stroke="#2a2a2a" stroke-width="0.9" />
<line x1="367.47" y1="566.6" x2="367.47" y2="570" stroke="#2a2a2a" stroke-width="0.9" />
<line x1="370.89" y1="566.6" x2="370.89" y2="570" stroke="#2a2a2a" stroke-width="0.9" />
<line x1="374.64" y1="566.6" x2="374.64" y2="570" stroke="#2a2a2a" stroke-width="0.9" />
<line x1="378.4" y1="566.6" x2="378.4" y2="570" stroke="#2a2a2a" stroke-width="0.9" />
<line x1="382.16" y1="566.6" x2="382.16" y2="570" stroke="#2a2a2a" stroke-width="0.9" />
<line x1="385.92" y1="566.6" x2="385.92" y2="570" stroke="#2a2a2a" stroke-width="0.9" />
<line x1="389.84" y1="566.6" x2="389.84" y2="570" stroke="#2a2a2a" stroke-width="0.9" />
<line x1="393.43" y1="566.6" x2="393.43" y2="570" stroke="#2a2a2a" stroke-width="0.9" />
<line x1="397.19" y1="566.6" x2="397.19" y2="570" stroke="#2a2a2a" stroke-width="0.9" />
<line x1="400.95" y1="566.6" x2="400.95" y2="570" stroke="#2a2a2a" stroke-width="0.9" />
<line x1="404.7" y1="566.6" x2="404.7" y2="570" stroke="#2a2a2a" stroke-width="0.9" />
<line x1="408.63" y1="566.6" x2="408.63" y2="570" stroke="#2a2a2a" stroke-width="0.9" />
<line x1="412.3" y1="566.6" x2="412.3" y2="570" stroke="#2a2a2a" stroke-width="0.9" />
<line x1="419.13" y1="566.6" x2="419.13" y2="570" stroke="#2a2a2a" stroke-width="0.9" />
<line x1="422.89" y1="566.6" x2="422.89" y2="570" stroke="#2a2a2a" stroke-width="0.9" />
<line x1="426.64" y1="566.6" x2="426.64" y2="570" stroke="#2a2a2a" stroke-width="0.9" />
<line x1="430.4" y1="566.6" x2="430.4" y2="570" stroke="#2a2a2a" stroke-width="0.9" />
<line x1="434.16" y1="566.6" x2="434.16" y2="570" stroke="#2a2a2a" stroke-width="0.9" />
<line x1="437.92" y1="566.6" x2="437.92" y2="570" stroke="#2a2a2a" stroke-width="0.9" />
<text transform="translate(41.7,509.2) rotate(-90)" font-size="7.0" fill="#444" text-anchor="middle" textLength="78.5" lengthAdjust="spacingAndGlyphs"  stroke="#444" stroke-width="0.12">Reads supporting allele (n)</text>
<text x="447.7" y="476.9" font-size="8.5" fill="#222" textLength="30" lengthAdjust="spacingAndGlyphs"  stroke="#222" stroke-width="0.12">Subtype</text>
<rect x="447.7" y="486.2" width="6.6" height="6.2" fill="#e7d8d4" />
<text x="457.7" y="490.8" font-size="7.9" fill="#222" textLength="22.3" lengthAdjust="spacingAndGlyphs"  stroke="#222" stroke-width="0.12">African</text>
<rect x="447.7" y="497.2" width="6.6" height="6.2" fill="#e2486a" />
<text x="457.7" y="501.8" font-size="7.9" fill="#222" textLength="11.2" lengthAdjust="spacingAndGlyphs"  stroke="#222" stroke-width="0.12">HIV</text>
<rect x="447.7" y="508" width="6.6" height="6.2" fill="#6cbb3c" />
<text x="457.7" y="512.3" font-size="7.9" fill="#222" textLength="26.6" lengthAdjust="spacingAndGlyphs"  stroke="#222" stroke-width="0.12">sporadic</text>
<rect x="447.7" y="519.2" width="6.6" height="6.2" fill="#fdf3cf" />
<text x="457.7" y="523.8" font-size="7.9" fill="#222" textLength="38.5" lengthAdjust="spacingAndGlyphs"  stroke="#222" stroke-width="0.12">Low median</text>
<text x="457.7" y="532.6" font-size="7.9" fill="#222" textLength="14.6" lengthAdjust="spacingAndGlyphs"  stroke="#222" stroke-width="0.12">read</text>
<text x="457.7" y="540.8" font-size="7.9" fill="#222" textLength="25.1" lengthAdjust="spacingAndGlyphs"  stroke="#222" stroke-width="0.12">support</text>
<text x="7.7" y="604.2" font-size="12" fill="#111" font-weight="bold"  stroke="#111" stroke-width="0.2">D</text>
<text x="101" y="600.9" font-size="8.2" fill="#222" textLength="126.8" lengthAdjust="spacingAndGlyphs"  stroke="#222" stroke-width="0.12">EBV status association (genes)</text>
<line x1="56.25" y1="676.25" x2="56.25" y2="707" stroke="#a8e0ea" stroke-width="1.7" />
<line x1="56.25" y1="676.25" x2="56.25" y2="707" stroke="#c89098" stroke-width="0.6" />
<circle cx="56.25" cy="690.75" r="1.15" fill="#2a9aa0"/>
<line x1="61.8" y1="672.5" x2="61.8" y2="706.25" stroke="#cde08c" stroke-width="1.7" />
<line x1="61.8" y1="672.5" x2="61.8" y2="706.25" stroke="#9aa080" stroke-width="0.6" />
<circle cx="61.8" cy="688.75" r="1.15" fill="#5a7030"/>
<line x1="67.34" y1="674.5" x2="67.34" y2="701.25" stroke="#cde08c" stroke-width="1.7" />
<line x1="67.34" y1="674.5" x2="67.34" y2="701.25" stroke="#9aa080" stroke-width="0.6" />
<circle cx="67.34" cy="687.5" r="1.15" fill="#5a7030"/>
<line x1="72.88" y1="671.25" x2="72.88" y2="702.5" stroke="#cde08c" stroke-width="1.7" />
<line x1="72.88" y1="671.25" x2="72.88" y2="702.5" stroke="#9aa080" stroke-width="0.6" />
<circle cx="72.88" cy="686.25" r="1.15" fill="#5a7030"/>
<line x1="78.43" y1="671.25" x2="78.43" y2="700" stroke="#cde08c" stroke-width="1.7" />
<line x1="78.43" y1="671.25" x2="78.43" y2="700" stroke="#9aa080" stroke-width="0.6" />
<circle cx="78.43" cy="685.5" r="1.15" fill="#5a7030"/>
<line x1="83.97" y1="667" x2="83.97" y2="701.25" stroke="#cde08c" stroke-width="1.7" />
<line x1="83.97" y1="667" x2="83.97" y2="701.25" stroke="#9aa080" stroke-width="0.6" />
<circle cx="83.97" cy="683.25" r="1.15" fill="#5a7030"/>
<line x1="89.52" y1="670" x2="89.52" y2="697.5" stroke="#cde08c" stroke-width="1.7" />
<line x1="89.52" y1="670" x2="89.52" y2="697.5" stroke="#9aa080" stroke-width="0.6" />
<circle cx="89.52" cy="683.25" r="1.15" fill="#5a7030"/>
<line x1="95.06" y1="667" x2="95.06" y2="697.5" stroke="#cde08c" stroke-width="1.7" />
<line x1="95.06" y1="667" x2="95.06" y2="697.5" stroke="#9aa080" stroke-width="0.6" />
<circle cx="95.06" cy="682.5" r="1.15" fill="#5a7030"/>
<line x1="100.61" y1="667.5" x2="100.61" y2="696.25" stroke="#cde08c" stroke-width="1.7" />
<line x1="100.61" y1="667.5" x2="100.61" y2="696.25" stroke="#9aa080" stroke-width="0.6" />
<circle cx="100.61" cy="682" r="1.15" fill="#5a7030"/>
<line x1="106.16" y1="663" x2="106.16" y2="691.25" stroke="#cde08c" stroke-width="1.7" />
<line x1="106.16" y1="663" x2="106.16" y2="691.25" stroke="#9aa080" stroke-width="0.6" />
<circle cx="106.16" cy="677.5" r="1.15" fill="#5a7030"/>
<line x1="111.7" y1="662.5" x2="111.7" y2="692.5" stroke="#cde08c" stroke-width="1.7" />
<line x1="111.7" y1="662.5" x2="111.7" y2="692.5" stroke="#9aa080" stroke-width="0.6" />
<circle cx="111.7" cy="677.5" r="1.15" fill="#5a7030"/>
<line x1="117.25" y1="663.75" x2="117.25" y2="691.25" stroke="#cde08c" stroke-width="1.7" />
<line x1="117.25" y1="663.75" x2="117.25" y2="691.25" stroke="#9aa080" stroke-width="0.6" />
<circle cx="117.25" cy="677" r="1.15" fill="#5a7030"/>
<line x1="122.79" y1="660.5" x2="122.79" y2="692.5" stroke="#cde08c" stroke-width="1.7" />
<line x1="122.79" y1="660.5" x2="122.79" y2="692.5" stroke="#9aa080" stroke-width="0.6" />
<circle cx="122.79" cy="676.5" r="1.15" fill="#5a7030"/>
<line x1="128.33" y1="662.5" x2="128.33" y2="690.5" stroke="#cde08c" stroke-width="1.7" />
<line x1="128.33" y1="662.5" x2="128.33" y2="690.5" stroke="#9aa080" stroke-width="0.6" />
<circle cx="128.33" cy="675.75" r="1.15" fill="#5a7030"/>
<line x1="133.88" y1="662" x2="133.88" y2="690" stroke="#cde08c" stroke-width="1.7" />
<line x1="133.88" y1="662" x2="133.88" y2="690" stroke="#9aa080" stroke-width="0.6" />
<circle cx="133.88" cy="675.5" r="1.15" fill="#5a7030"/>
<line x1="139.43" y1="659.5" x2="139.43" y2="690" stroke="#cde08c" stroke-width="1.7" />
<line x1="139.43" y1="659.5" x2="139.43" y2="690" stroke="#9aa080" stroke-width="0.6" />
<circle cx="139.43" cy="674.5" r="1.15" fill="#5a7030"/>
<line x1="144.97" y1="659.5" x2="144.97" y2="688.75" stroke="#cde08c" stroke-width="1.7" />
<line x1="144.97" y1="659.5" x2="144.97" y2="688.75" stroke="#9aa080" stroke-width="0.6" />
<circle cx="144.97" cy="674" r="1.15" fill="#5a7030"/>
<line x1="150.51" y1="659.5" x2="150.51" y2="688.75" stroke="#cde08c" stroke-width="1.7" />
<line x1="150.51" y1="659.5" x2="150.51" y2="688.75" stroke="#9aa080" stroke-width="0.6" />
<circle cx="150.51" cy="674" r="1.15" fill="#5a7030"/>
<line x1="156.06" y1="659.5" x2="156.06" y2="688" stroke="#cde08c" stroke-width="1.7" />
<line x1="156.06" y1="659.5" x2="156.06" y2="688" stroke="#9aa080" stroke-width="0.6" />
<circle cx="156.06" cy="673.75" r="1.15" fill="#5a7030"/>
<line x1="161.61" y1="660" x2="161.61" y2="687.5" stroke="#cde08c" stroke-width="1.7" />
<line x1="161.61" y1="660" x2="161.61" y2="687.5" stroke="#9aa080" stroke-width="0.6" />
<circle cx="161.61" cy="673.75" r="1.15" fill="#5a7030"/>
<line x1="167.15" y1="658" x2="167.15" y2="687.5" stroke="#cde08c" stroke-width="1.7" />
<line x1="167.15" y1="658" x2="167.15" y2="687.5" stroke="#9aa080" stroke-width="0.6" />
<circle cx="167.15" cy="673" r="1.15" fill="#5a7030"/>
<line x1="172.69" y1="658" x2="172.69" y2="685.5" stroke="#cde08c" stroke-width="1.7" />
<line x1="172.69" y1="658" x2="172.69" y2="685.5" stroke="#9aa080" stroke-width="0.6" />
<circle cx="172.69" cy="671.75" r="1.15" fill="#5a7030"/>
<line x1="178.24" y1="658.75" x2="178.24" y2="685.5" stroke="#cde08c" stroke-width="1.7" />
<line x1="178.24" y1="658.75" x2="178.24" y2="685.5" stroke="#9aa080" stroke-width="0.6" />
<circle cx="178.24" cy="671.75" r="1.15" fill="#5a7030"/>
<line x1="183.78" y1="658.75" x2="183.78" y2="685" stroke="#cde08c" stroke-width="1.7" />
<line x1="183.78" y1="658.75" x2="183.78" y2="685" stroke="#9aa080" stroke-width="0.6" />
<circle cx="183.78" cy="671.5" r="1.15" fill="#5a7030"/>
<line x1="189.33" y1="658" x2="189.33" y2="684.5" stroke="#cde08c" stroke-width="1.7" />
<line x1="189.33" y1="658" x2="189.33" y2="684.5" stroke="#9aa080" stroke-width="0.6" />
<circle cx="189.33" cy="671.25" r="1.15" fill="#5a7030"/>
<line x1="194.88" y1="658" x2="194.88" y2="682.5" stroke="#cde08c" stroke-width="1.7" />
<line x1="194.88" y1="658" x2="194.88" y2="682.5" stroke="#9aa080" stroke-width="0.6" />
<circle cx="194.88" cy="670.75" r="1.15" fill="#5a7030"/>
<line x1="200.42" y1="655.5" x2="200.42" y2="682.5" stroke="#cde08c" stroke-width="1.7" />
<line x1="200.42" y1="655.5" x2="200.42" y2="682.5" stroke="#9aa080" stroke-width="0.6" />
<circle cx="200.42" cy="668.5" r="1.15" fill="#5a7030"/>
<line x1="205.97" y1="653.75" x2="205.97" y2="680" stroke="#cde08c" stroke-width="1.7" />
<line x1="205.97" y1="653.75" x2="205.97" y2="680" stroke="#9aa080" stroke-width="0.6" />
<circle cx="205.97" cy="666.75" r="1.15" fill="#5a7030"/>
<line x1="211.51" y1="653.75" x2="211.51" y2="679.5" stroke="#cde08c" stroke-width="1.7" />
<line x1="211.51" y1="653.75" x2="211.51" y2="679.5" stroke="#9aa080" stroke-width="0.6" />
<circle cx="211.51" cy="666" r="1.15" fill="#5a7030"/>
<line x1="217.06" y1="652" x2="217.06" y2="678" stroke="#cde08c" stroke-width="1.7" />
<line x1="217.06" y1="652" x2="217.06" y2="678" stroke="#9aa080" stroke-width="0.6" />
<circle cx="217.06" cy="665.25" r="1.15" fill="#5a7030"/>
<line x1="222.6" y1="651.25" x2="222.6" y2="677.5" stroke="#cde08c" stroke-width="1.7" />
<line x1="222.6" y1="651.25" x2="222.6" y2="677.5" stroke="#9aa080" stroke-width="0.6" />
<circle cx="222.6" cy="664.25" r="1.15" fill="#5a7030"/>
<line x1="228.15" y1="647" x2="228.15" y2="679.5" stroke="#cde08c" stroke-width="1.7" />
<line x1="228.15" y1="647" x2="228.15" y2="679.5" stroke="#9aa080" stroke-width="0.6" />
<circle cx="228.15" cy="663.25" r="1.15" fill="#5a7030"/>
<line x1="233.69" y1="648.75" x2="233.69" y2="677.5" stroke="#cde08c" stroke-width="1.7" />
<line x1="233.69" y1="648.75" x2="233.69" y2="677.5" stroke="#9aa080" stroke-width="0.6" />
<circle cx="233.69" cy="663.25" r="1.15" fill="#5a7030"/>
<line x1="239.23" y1="648.75" x2="239.23" y2="677" stroke="#cde08c" stroke-width="1.7" />
<line x1="239.23" y1="648.75" x2="239.23" y2="677" stroke="#9aa080" stroke-width="0.6" />
<circle cx="239.23" cy="663" r="1.15" fill="#5a7030"/>
<line x1="244.78" y1="646.25" x2="244.78" y2="673.75" stroke="#f6b0b0" stroke-width="1.7" />
<line x1="244.78" y1="646.25" x2="244.78" y2="673.75" stroke="#c89098" stroke-width="0.6" />
<circle cx="244.78" cy="660" r="1.15" fill="#b05060"/>
<line x1="250.32" y1="644.5" x2="250.32" y2="672.5" stroke="#f6b0b0" stroke-width="1.7" />
<line x1="250.32" y1="644.5" x2="250.32" y2="672.5" stroke="#c89098" stroke-width="0.6" />
<circle cx="250.32" cy="658.75" r="1.15" fill="#b05060"/>
<line x1="255.87" y1="639.5" x2="255.87" y2="669.5" stroke="#f6b0b0" stroke-width="1.7" />
<line x1="255.87" y1="639.5" x2="255.87" y2="669.5" stroke="#c89098" stroke-width="0.6" />
<circle cx="255.87" cy="654.5" r="1.15" fill="#b05060"/>
<line x1="261.41" y1="611.25" x2="261.41" y2="668" stroke="#f6b0b0" stroke-width="1.7" />
<line x1="261.41" y1="611.25" x2="261.41" y2="668" stroke="#c89098" stroke-width="0.6" />
<circle cx="261.41" cy="640" r="1.15" fill="#b05060"/>
<line x1="266.96" y1="612" x2="266.96" y2="658.75" stroke="#d6d0de" stroke-width="1.7" />
<line x1="266.96" y1="612" x2="266.96" y2="658.75" stroke="#a8a0b0" stroke-width="0.6" />
<circle cx="266.96" cy="637.5" r="1.15" fill="#6e6078"/>
<line x1="272.5" y1="612" x2="272.5" y2="660" stroke="#d6d0de" stroke-width="1.7" />
<line x1="272.5" y1="612" x2="272.5" y2="660" stroke="#a8a0b0" stroke-width="0.6" />
<circle cx="272.5" cy="632.5" r="1.15" fill="#6e6078"/>
<line x1="52.4" y1="607.7" x2="52.4" y2="714.6" stroke="#2a2a2a" stroke-width="1.2" />
<line x1="51.8" y1="714" x2="276" y2="714" stroke="#2a2a2a" stroke-width="1.2" />
<line x1="49.1" y1="611.4" x2="52.4" y2="611.4" stroke="#2a2a2a" stroke-width="1" />
<text x="46.2" y="613.6" font-size="6.3" fill="#333" text-anchor="end" textLength="2.5" lengthAdjust="spacingAndGlyphs"  stroke="#333" stroke-width="0.12">2</text>
<line x1="49.1" y1="644" x2="52.4" y2="644" stroke="#2a2a2a" stroke-width="1" />
<text x="46.2" y="646.2" font-size="6.3" fill="#333" text-anchor="end" textLength="2.5" lengthAdjust="spacingAndGlyphs"  stroke="#333" stroke-width="0.12">1</text>
<line x1="49.1" y1="676.6" x2="52.4" y2="676.6" stroke="#2a2a2a" stroke-width="1" />
<text x="46.2" y="678.8" font-size="6.3" fill="#333" text-anchor="end" textLength="2.7" lengthAdjust="spacingAndGlyphs"  stroke="#333" stroke-width="0.12">0</text>
<line x1="49.1" y1="709.2" x2="52.4" y2="709.2" stroke="#2a2a2a" stroke-width="1" />
<text x="46.2" y="711.4" font-size="6.3" fill="#333" text-anchor="end" textLength="5.6" lengthAdjust="spacingAndGlyphs"  stroke="#333" stroke-width="0.12">−1</text>
<line x1="56.25" y1="714" x2="56.25" y2="717.2" stroke="#2a2a2a" stroke-width="0.9" />
<text transform="translate(58.25,720.7) rotate(-90) scale(1.03,1)" font-size="5.7" fill="#333" text-anchor="end" stroke="#333" stroke-width="0.12">SNTB2</text>
<line x1="61.8" y1="714" x2="61.8" y2="717.2" stroke="#2a2a2a" stroke-width="0.9" />
<text transform="translate(63.80,720.7) rotate(-90) scale(1.03,1)" font-size="5.7" fill="#333" text-anchor="end" stroke="#333" stroke-width="0.12">SMARCA4</text>
<line x1="67.34" y1="714" x2="67.34" y2="717.2" stroke="#2a2a2a" stroke-width="0.9" />
<text transform="translate(69.34,720.7) rotate(-90) scale(1.03,1)" font-size="5.7" fill="#333" text-anchor="end" stroke="#333" stroke-width="0.12">DNMT1</text>
<line x1="72.88" y1="714" x2="72.88" y2="717.2" stroke="#2a2a2a" stroke-width="0.9" />
<text transform="translate(74.88,720.7) rotate(-90) scale(1.03,1)" font-size="5.7" fill="#333" text-anchor="end" stroke="#333" stroke-width="0.12">MME</text>
<line x1="78.43" y1="714" x2="78.43" y2="717.2" stroke="#2a2a2a" stroke-width="0.9" />
<text transform="translate(80.43,720.7) rotate(-90) scale(1.03,1)" font-size="5.7" fill="#333" text-anchor="end" stroke="#333" stroke-width="0.12">CTCF</text>
<line x1="83.97" y1="714" x2="83.97" y2="717.2" stroke="#2a2a2a" stroke-width="0.9" />
<text transform="translate(85.97,720.7) rotate(-90) scale(1.03,1)" font-size="5.7" fill="#333" text-anchor="end" stroke="#333" stroke-width="0.12">TP53</text>
<line x1="89.52" y1="714" x2="89.52" y2="717.2" stroke="#2a2a2a" stroke-width="0.9" />
<text transform="translate(91.52,720.7) rotate(-90) scale(1.03,1)" font-size="5.7" fill="#333" text-anchor="end" stroke="#333" stroke-width="0.12">DTX1</text>
<line x1="95.06" y1="714" x2="95.06" y2="717.2" stroke="#2a2a2a" stroke-width="0.9" />
<text transform="translate(97.06,720.7) rotate(-90) scale(1.03,1)" font-size="5.7" fill="#333" text-anchor="end" stroke="#333" stroke-width="0.12">CREBBP</text>
<line x1="100.61" y1="714" x2="100.61" y2="717.2" stroke="#2a2a2a" stroke-width="0.9" />
<text transform="translate(102.61,720.7) rotate(-90) scale(1.03,1)" font-size="5.7" fill="#333" text-anchor="end" stroke="#333" stroke-width="0.12">HIST1H1C</text>
<line x1="106.16" y1="714" x2="106.16" y2="717.2" stroke="#2a2a2a" stroke-width="0.9" />
<text transform="translate(108.16,720.7) rotate(-90) scale(1.03,1)" font-size="5.7" fill="#333" text-anchor="end" stroke="#333" stroke-width="0.12">CHD8</text>
<line x1="111.7" y1="714" x2="111.7" y2="717.2" stroke="#2a2a2a" stroke-width="0.9" />
<text transform="translate(113.70,720.7) rotate(-90) scale(1.03,1)" font-size="5.7" fill="#333" text-anchor="end" stroke="#333" stroke-width="0.12">PLCG2</text>
<line x1="117.25" y1="714" x2="117.25" y2="717.2" stroke="#2a2a2a" stroke-width="0.9" />
<text transform="translate(119.25,720.7) rotate(-90) scale(1.03,1)" font-size="5.7" fill="#333" text-anchor="end" stroke="#333" stroke-width="0.12">FBXO11</text>
<line x1="122.79" y1="714" x2="122.79" y2="717.2" stroke="#2a2a2a" stroke-width="0.9" />
<text transform="translate(124.79,720.7) rotate(-90) scale(1.03,1)" font-size="5.7" fill="#333" text-anchor="end" stroke="#333" stroke-width="0.12">TMSB4X</text>
<line x1="128.33" y1="714" x2="128.33" y2="717.2" stroke="#2a2a2a" stroke-width="0.9" />
<text transform="translate(130.33,720.7) rotate(-90) scale(1.03,1)" font-size="5.7" fill="#333" text-anchor="end" stroke="#333" stroke-width="0.12">SIN3A</text>
<line x1="133.88" y1="714" x2="133.88" y2="717.2" stroke="#2a2a2a" stroke-width="0.9" />
<text transform="translate(135.88,720.7) rotate(-90) scale(1.03,1)" font-size="5.7" fill="#333" text-anchor="end" stroke="#333" stroke-width="0.12">HNRNPU</text>
<line x1="139.43" y1="714" x2="139.43" y2="717.2" stroke="#2a2a2a" stroke-width="0.9" />
<text transform="translate(141.43,720.7) rotate(-90) scale(1.03,1)" font-size="5.7" fill="#333" text-anchor="end" stroke="#333" stroke-width="0.12">RNF144B</text>
<line x1="144.97" y1="714" x2="144.97" y2="717.2" stroke="#2a2a2a" stroke-width="0.9" />
<text transform="translate(146.97,720.7) rotate(-90) scale(1.03,1)" font-size="5.7" fill="#333" text-anchor="end" stroke="#333" stroke-width="0.12">GNAI2</text>
<line x1="150.51" y1="714" x2="150.51" y2="717.2" stroke="#2a2a2a" stroke-width="0.9" />
<text transform="translate(152.51,720.7) rotate(-90) scale(1.03,1)" font-size="5.7" fill="#333" text-anchor="end" stroke="#333" stroke-width="0.12">TCF3</text>
<line x1="156.06" y1="714" x2="156.06" y2="717.2" stroke="#2a2a2a" stroke-width="0.9" />
<text transform="translate(158.06,720.7) rotate(-90) scale(1.03,1)" font-size="5.7" fill="#333" text-anchor="end" stroke="#333" stroke-width="0.12">CCND3</text>
<line x1="161.61" y1="714" x2="161.61" y2="717.2" stroke="#2a2a2a" stroke-width="0.9" />
<text transform="translate(163.61,720.7) rotate(-90) scale(1.03,1)" font-size="5.7" fill="#333" text-anchor="end" stroke="#333" stroke-width="0.12">MCL1</text>
<line x1="167.15" y1="714" x2="167.15" y2="717.2" stroke="#2a2a2a" stroke-width="0.9" />
<text transform="translate(169.15,720.7) rotate(-90) scale(1.03,1)" font-size="5.7" fill="#333" text-anchor="end" stroke="#333" stroke-width="0.12">BCR</text>
<line x1="172.69" y1="714" x2="172.69" y2="717.2" stroke="#2a2a2a" stroke-width="0.9" />
<text transform="translate(174.69,720.7) rotate(-90) scale(1.03,1)" font-size="5.7" fill="#333" text-anchor="end" stroke="#333" stroke-width="0.12">BMP7</text>
<line x1="178.24" y1="714" x2="178.24" y2="717.2" stroke="#2a2a2a" stroke-width="0.9" />
<text transform="translate(180.24,720.7) rotate(-90) scale(1.03,1)" font-size="5.7" fill="#333" text-anchor="end" stroke="#333" stroke-width="0.12">HIST1H3H</text>
<line x1="183.78" y1="714" x2="183.78" y2="717.2" stroke="#2a2a2a" stroke-width="0.9" />
<text transform="translate(185.78,720.7) rotate(-90) scale(1.03,1)" font-size="5.7" fill="#333" text-anchor="end" stroke="#333" stroke-width="0.12">HIST1H2BK</text>
<line x1="189.33" y1="714" x2="189.33" y2="717.2" stroke="#2a2a2a" stroke-width="0.9" />
<text transform="translate(191.33,720.7) rotate(-90) scale(1.03,1)" font-size="5.7" fill="#333" text-anchor="end" stroke="#333" stroke-width="0.12">HIST1H1E</text>
<line x1="194.88" y1="714" x2="194.88" y2="717.2" stroke="#2a2a2a" stroke-width="0.9" />
<text transform="translate(196.88,720.7) rotate(-90) scale(1.03,1)" font-size="5.7" fill="#333" text-anchor="end" stroke="#333" stroke-width="0.12">ID3</text>
<line x1="200.42" y1="714" x2="200.42" y2="717.2" stroke="#2a2a2a" stroke-width="0.9" />
<text transform="translate(202.42,720.7) rotate(-90) scale(1.03,1)" font-size="5.7" fill="#333" text-anchor="end" stroke="#333" stroke-width="0.12">IKZF3</text>
<line x1="205.97" y1="714" x2="205.97" y2="717.2" stroke="#2a2a2a" stroke-width="0.9" />
<text transform="translate(207.97,720.7) rotate(-90) scale(1.03,1)" font-size="5.7" fill="#333" text-anchor="end" stroke="#333" stroke-width="0.12">BTG2</text>
<line x1="211.51" y1="714" x2="211.51" y2="717.2" stroke="#2a2a2a" stroke-width="0.9" />
<text transform="translate(213.51,720.7) rotate(-90) scale(1.03,1)" font-size="5.7" fill="#333" text-anchor="end" stroke="#333" stroke-width="0.12">BCL6</text>
<line x1="217.06" y1="714" x2="217.06" y2="717.2" stroke="#2a2a2a" stroke-width="0.9" />
<text transform="translate(219.06,720.7) rotate(-90) scale(1.03,1)" font-size="5.7" fill="#333" text-anchor="end" stroke="#333" stroke-width="0.12">BCL7A</text>
<line x1="222.6" y1="714" x2="222.6" y2="717.2" stroke="#2a2a2a" stroke-width="0.9" />
<text transform="translate(224.60,720.7) rotate(-90) scale(1.03,1)" font-size="5.7" fill="#333" text-anchor="end" stroke="#333" stroke-width="0.12">FOXO1</text>
<line x1="228.15" y1="714" x2="228.15" y2="717.2" stroke="#2a2a2a" stroke-width="0.9" />
<text transform="translate(230.15,720.7) rotate(-90) scale(1.03,1)" font-size="5.7" fill="#333" text-anchor="end" stroke="#333" stroke-width="0.12">S1PR2</text>
<line x1="233.69" y1="714" x2="233.69" y2="717.2" stroke="#2a2a2a" stroke-width="0.9" />
<text transform="translate(235.69,720.7) rotate(-90) scale(1.03,1)" font-size="5.7" fill="#333" text-anchor="end" stroke="#333" stroke-width="0.12">GNA13</text>
<line x1="239.23" y1="714" x2="239.23" y2="717.2" stroke="#2a2a2a" stroke-width="0.9" />
<text transform="translate(241.23,720.7) rotate(-90) scale(1.03,1)" font-size="5.7" fill="#333" text-anchor="end" stroke="#333" stroke-width="0.12">TCL1A</text>
<line x1="244.78" y1="714" x2="244.78" y2="717.2" stroke="#2a2a2a" stroke-width="0.9" />
<text transform="translate(246.78,720.7) rotate(-90) scale(1.03,1)" font-size="5.7" fill="#c0282d" text-anchor="end" font-weight="bold" stroke="#c0282d" stroke-width="0.2">DDX3X</text>
<line x1="250.32" y1="714" x2="250.32" y2="717.2" stroke="#2a2a2a" stroke-width="0.9" />
<text transform="translate(252.32,720.7) rotate(-90) scale(1.03,1)" font-size="5.7" fill="#c0282d" text-anchor="end" font-weight="bold" stroke="#c0282d" stroke-width="0.2">ETS1</text>
<line x1="255.87" y1="714" x2="255.87" y2="717.2" stroke="#2a2a2a" stroke-width="0.9" />
<text transform="translate(257.87,720.7) rotate(-90) scale(1.03,1)" font-size="5.7" fill="#c0282d" text-anchor="end" font-weight="bold" stroke="#c0282d" stroke-width="0.2">ARID1A</text>
<line x1="261.41" y1="714" x2="261.41" y2="717.2" stroke="#2a2a2a" stroke-width="0.9" />
<text transform="translate(263.41,720.7) rotate(-90) scale(1.03,1)" font-size="5.7" fill="#c0282d" text-anchor="end" font-weight="bold" stroke="#c0282d" stroke-width="0.2">MYC</text>
<line x1="266.96" y1="714" x2="266.96" y2="717.2" stroke="#2a2a2a" stroke-width="0.9" />
<text transform="translate(268.96,720.7) rotate(-90) scale(1.03,1)" font-size="5.7" fill="#333" text-anchor="end" stroke="#333" stroke-width="0.12">BACH2</text>
<line x1="272.5" y1="714" x2="272.5" y2="717.2" stroke="#2a2a2a" stroke-width="0.9" />
<text transform="translate(274.50,720.7) rotate(-90) scale(1.03,1)" font-size="5.7" fill="#c0282d" text-anchor="end" font-weight="bold" stroke="#c0282d" stroke-width="0.2">IGLL5</text>
<text transform="translate(36.3,660.9) rotate(-90)" font-size="7.2" fill="#333" text-anchor="middle" textLength="50.9" lengthAdjust="spacingAndGlyphs"  stroke="#333" stroke-width="0.12">log10 (odds ratio)</text>
<line x1="56.2" y1="610.2" x2="65.4" y2="610.2" stroke="#2ab3a6" stroke-width="0.8" />
<circle cx="60.5" cy="610.2" r="1.3" fill="#2ab3a6"/>
<text x="68.9" y="612.5" font-size="6.8" fill="#333" textLength="43.4" lengthAdjust="spacingAndGlyphs"  stroke="#333" stroke-width="0.12">Lost significance</text>
<line x1="56.2" y1="620.4" x2="65.4" y2="620.4" stroke="#f06a6a" stroke-width="0.8" />
<circle cx="60.5" cy="620.4" r="1.3" fill="#f06a6a"/>
<text x="68.9" y="622.7" font-size="6.8" fill="#333" textLength="51.1" lengthAdjust="spacingAndGlyphs"  stroke="#333" stroke-width="0.12">Gained significance</text>
<line x1="56.2" y1="630.4" x2="65.4" y2="630.4" stroke="#7aa542" stroke-width="0.8" />
<circle cx="60.5" cy="630.4" r="1.3" fill="#7aa542"/>
<text x="68.9" y="632.7" font-size="6.8" fill="#333" textLength="31.1" lengthAdjust="spacingAndGlyphs"  stroke="#333" stroke-width="0.12">Insignificant</text>
<line x1="56.2" y1="640.2" x2="65.4" y2="640.2" stroke="#a58ab8" stroke-width="0.8" />
<circle cx="60.5" cy="640.2" r="1.3" fill="#a58ab8"/>
<text x="68.9" y="642.5" font-size="6.8" fill="#333" textLength="55.3" lengthAdjust="spacingAndGlyphs"  stroke="#333" stroke-width="0.12">Retained significance</text>
<path d="M59.6,651.9 L63.4,655.7 M63.4,651.9 L59.6,655.7" stroke="#c8102e" stroke-width="1.1"/>
<text x="68.9" y="651.9" font-size="6.8" fill="#333" textLength="43.9" lengthAdjust="spacingAndGlyphs"  stroke="#333" stroke-width="0.12">Inconsistent with</text>
<text x="68.9" y="658.7" font-size="6.8" fill="#333" textLength="34.2" lengthAdjust="spacingAndGlyphs"  stroke="#333" stroke-width="0.12">other studies</text>
<text x="297" y="604.2" font-size="12" fill="#111" font-weight="bold"  stroke="#111" stroke-width="0.2">E</text>
<text x="359.4" y="601.5" font-size="8.4" fill="#222" textLength="128.6" lengthAdjust="spacingAndGlyphs"  stroke="#222" stroke-width="0.12">EBV type association (patients)</text>
<line x1="371.3" y1="645" x2="371.3" y2="685" stroke="#6a6a6a" stroke-width="0.9" />
<line x1="371.3" y1="714.2" x2="371.3" y2="730.6" stroke="#6a6a6a" stroke-width="0.9" />
<rect x="352.7" y="685" width="38.8" height="29.2" fill="none" stroke="#555" stroke-width="0.9"/>
<line x1="352.7" y1="702.3" x2="391.5" y2="702.3" stroke="#333" stroke-width="1.0" />
<line x1="424.1" y1="687" x2="424.1" y2="702.7" stroke="#6a6a6a" stroke-width="0.9" />
<line x1="424.1" y1="715.3" x2="424.1" y2="725.2" stroke="#6a6a6a" stroke-width="0.9" />
<rect x="404.4" y="702.7" width="39.8" height="12.6" fill="none" stroke="#555" stroke-width="0.9"/>
<line x1="404.4" y1="707.1" x2="444.2" y2="707.1" stroke="#333" stroke-width="1.0" />
<line x1="476.5" y1="678.3" x2="476.5" y2="705.2" stroke="#6a6a6a" stroke-width="0.9" />
<line x1="476.5" y1="727.7" x2="476.5" y2="736" stroke="#6a6a6a" stroke-width="0.9" />
<rect x="456.7" y="705.2" width="39.1" height="22.5" fill="none" stroke="#555" stroke-width="0.9"/>
<line x1="456.7" y1="716.2" x2="495.8" y2="716.2" stroke="#333" stroke-width="1.0" />
<circle cx="369.4" cy="669.6" r="0.9" fill="#111"/>
<circle cx="364.2" cy="675.8" r="0.9" fill="#111"/>
<circle cx="379.6" cy="677.1" r="0.9" fill="#111"/>
<circle cx="379.6" cy="692.1" r="0.9" fill="#111"/>
<circle cx="380.4" cy="701.7" r="0.9" fill="#111"/>
<circle cx="361.7" cy="709" r="0.9" fill="#111"/>
<circle cx="378.1" cy="708.5" r="0.9" fill="#111"/>
<circle cx="382.3" cy="709" r="0.9" fill="#111"/>
<circle cx="359.2" cy="719" r="0.9" fill="#111"/>
<circle cx="366.2" cy="722.3" r="0.9" fill="#111"/>
<circle cx="376.5" cy="717.7" r="0.9" fill="#111"/>
<circle cx="380.6" cy="719" r="0.9" fill="#111"/>
<circle cx="371.9" cy="730.6" r="0.9" fill="#111"/>
<circle cx="422.1" cy="686.9" r="0.9" fill="#111"/>
<circle cx="425" cy="699.4" r="0.9" fill="#111"/>
<circle cx="405.8" cy="702.7" r="0.9" fill="#111"/>
<circle cx="413.5" cy="714.2" r="0.9" fill="#111"/>
<circle cx="431.7" cy="715.4" r="0.9" fill="#111"/>
<circle cx="424" cy="725" r="0.9" fill="#111"/>
<circle cx="476.5" cy="657.1" r="0.9" fill="#111"/>
<circle cx="474" cy="677.7" r="0.9" fill="#111"/>
<circle cx="478.8" cy="679.2" r="0.9" fill="#111"/>
<circle cx="472.1" cy="688.5" r="0.9" fill="#111"/>
<circle cx="476.9" cy="687.9" r="0.9" fill="#111"/>
<circle cx="472.7" cy="698" r="0.9" fill="#111"/>
<circle cx="477.9" cy="698.8" r="0.9" fill="#111"/>
<circle cx="474.83" cy="717.76" r="0.9" fill="#111"/>
<circle cx="491.35" cy="715.78" r="0.9" fill="#111"/>
<circle cx="476.77" cy="718.34" r="0.9" fill="#111"/>
<circle cx="465.46" cy="716.75" r="0.9" fill="#111"/>
<circle cx="481.05" cy="722.65" r="0.9" fill="#111"/>
<circle cx="462.29" cy="712.37" r="0.9" fill="#111"/>
<circle cx="462.17" cy="723" r="0.9" fill="#111"/>
<circle cx="483.27" cy="706.88" r="0.9" fill="#111"/>
<circle cx="493.38" cy="726.26" r="0.9" fill="#111"/>
<circle cx="481.89" cy="718.93" r="0.9" fill="#111"/>
<circle cx="464.51" cy="706.32" r="0.9" fill="#111"/>
<circle cx="477.49" cy="707.25" r="0.9" fill="#111"/>
<circle cx="465.66" cy="711.08" r="0.9" fill="#111"/>
<circle cx="460.05" cy="715.74" r="0.9" fill="#111"/>
<circle cx="474.42" cy="723.69" r="0.9" fill="#111"/>
<circle cx="477.17" cy="719.45" r="0.9" fill="#111"/>
<circle cx="476.49" cy="719.91" r="0.9" fill="#111"/>
<circle cx="475.01" cy="711.84" r="0.9" fill="#111"/>
<circle cx="493.92" cy="726.91" r="0.9" fill="#111"/>
<circle cx="488.41" cy="720.86" r="0.9" fill="#111"/>
<circle cx="470.03" cy="710.82" r="0.9" fill="#111"/>
<circle cx="469.12" cy="707.47" r="0.9" fill="#111"/>
<circle cx="485.82" cy="714.41" r="0.9" fill="#111"/>
<circle cx="488.63" cy="714.12" r="0.9" fill="#111"/>
<circle cx="492.53" cy="723.79" r="0.9" fill="#111"/>
<circle cx="459.02" cy="710.4" r="0.9" fill="#111"/>
<circle cx="490.86" cy="715.87" r="0.9" fill="#111"/>
<circle cx="493.31" cy="714.35" r="0.9" fill="#111"/>
<circle cx="461.56" cy="719.22" r="0.9" fill="#111"/>
<circle cx="486.25" cy="711.67" r="0.9" fill="#111"/>
<circle cx="485.5" cy="729.42" r="0.9" fill="#111"/>
<circle cx="477.9" cy="731.58" r="0.9" fill="#111"/>
<circle cx="466.1" cy="733.86" r="0.9" fill="#111"/>
<circle cx="464.19" cy="733.15" r="0.9" fill="#111"/>
<circle cx="463.73" cy="731.37" r="0.9" fill="#111"/>
<circle cx="466.81" cy="730.16" r="0.9" fill="#111"/>
<circle cx="491.07" cy="734.43" r="0.9" fill="#111"/>
<circle cx="469.73" cy="735.08" r="0.9" fill="#111"/>
<circle cx="466.74" cy="731.15" r="0.9" fill="#111"/>
<circle cx="487.34" cy="733.13" r="0.9" fill="#111"/>
<circle cx="463.21" cy="735.91" r="0.9" fill="#111"/>
<circle cx="466.82" cy="730.07" r="0.9" fill="#111"/>
<circle cx="377.1" cy="667.7" r="0.9" fill="#d02a30"/>
<circle cx="373.8" cy="672.9" r="0.9" fill="#d02a30"/>
<circle cx="370.8" cy="683.8" r="0.9" fill="#d02a30"/>
<circle cx="375.2" cy="685.4" r="0.9" fill="#d02a30"/>
<circle cx="363.7" cy="689.2" r="0.9" fill="#d02a30"/>
<circle cx="359.8" cy="693.5" r="0.9" fill="#d02a30"/>
<circle cx="366.5" cy="693.5" r="0.9" fill="#d02a30"/>
<circle cx="372.7" cy="693.5" r="0.9" fill="#d02a30"/>
<circle cx="370.8" cy="702.7" r="0.9" fill="#d02a30"/>
<circle cx="365" cy="711.3" r="0.9" fill="#d02a30"/>
<circle cx="353.5" cy="714.2" r="0.9" fill="#d02a30"/>
<circle cx="374.6" cy="713.8" r="0.9" fill="#d02a30"/>
<circle cx="387.7" cy="714.6" r="0.9" fill="#d02a30"/>
<circle cx="366.9" cy="716.2" r="0.9" fill="#d02a30"/>
<circle cx="371.3" cy="644.6" r="0.9" fill="#d02a30"/>
<circle cx="419.2" cy="705.2" r="0.9" fill="#d02a30"/>
<circle cx="426.9" cy="709.6" r="0.9" fill="#d02a30"/>
<circle cx="440.4" cy="703.7" r="0.9" fill="#d02a30"/>
<circle cx="418.3" cy="719.2" r="0.9" fill="#d02a30"/>
<circle cx="476.5" cy="664.2" r="0.9" fill="#d02a30"/>
<circle cx="481.2" cy="688.8" r="0.9" fill="#d02a30"/>
<circle cx="480.8" cy="700.8" r="0.9" fill="#d02a30"/>
<circle cx="462.05" cy="712.98" r="0.9" fill="#d02a30"/>
<circle cx="492.74" cy="721.92" r="0.9" fill="#d02a30"/>
<circle cx="463.13" cy="711.17" r="0.9" fill="#d02a30"/>
<circle cx="462.54" cy="707.26" r="0.9" fill="#d02a30"/>
<circle cx="484.73" cy="730.63" r="0.9" fill="#d02a30"/>
<circle cx="469.48" cy="728.59" r="0.9" fill="#d02a30"/>
<circle cx="462.88" cy="732.66" r="0.9" fill="#d02a30"/>
<circle cx="467.78" cy="732.81" r="0.9" fill="#d02a30"/>
<circle cx="471.89" cy="731.63" r="0.9" fill="#d02a30"/>
<circle cx="490.69" cy="731.87" r="0.9" fill="#d02a30"/>
<circle cx="478.39" cy="734.93" r="0.9" fill="#d02a30"/>
<circle cx="465.85" cy="729.23" r="0.9" fill="#d02a30"/>
<circle cx="489.07" cy="734.54" r="0.9" fill="#d02a30"/>
<circle cx="467.98" cy="729.52" r="0.9" fill="#d02a30"/>
<circle cx="483.66" cy="735.52" r="0.9" fill="#d02a30"/>
<circle cx="466.29" cy="735.6" r="0.9" fill="#d02a30"/>
<polyline points="371.9,640.8 371.9,638.3 424.6,638.3 424.6,640.8" fill="none" stroke="#333" stroke-width="0.8"/>
<text x="382.9" y="624.4" font-size="7.2" fill="#333" textLength="31.3" lengthAdjust="spacingAndGlyphs"  stroke="#333" stroke-width="0.12">Wilcoxon,</text>
<text x="387.7" y="632.5" font-size="7.2" fill="#333" textLength="22.1" lengthAdjust="spacingAndGlyphs"><tspan font-style="italic">P</tspan> = .23</text>
<text x="453.5" y="624.3" font-size="7.2" fill="#333" textLength="45.7" lengthAdjust="spacingAndGlyphs"  stroke="#333" stroke-width="0.12">Kruskal-Wallis,</text>
<text x="461.5" y="632.8" font-size="7.2" fill="#333" textLength="30" lengthAdjust="spacingAndGlyphs"><tspan font-style="italic">P</tspan> = .0025</text>
<line x1="340.7" y1="606.9" x2="340.7" y2="742.2" stroke="#2a2a2a" stroke-width="1.2" />
<line x1="340.1" y1="741.7" x2="503.4" y2="741.7" stroke="#2a2a2a" stroke-width="1.2" />
<line x1="337.3" y1="735.4" x2="340.7" y2="735.4" stroke="#2a2a2a" stroke-width="1" />
<text x="334.2" y="737.6" font-size="6.2" fill="#555" text-anchor="end" textLength="2.6" lengthAdjust="spacingAndGlyphs"  stroke="#555" stroke-width="0.12">0</text>
<line x1="337.3" y1="694.1" x2="340.7" y2="694.1" stroke="#2a2a2a" stroke-width="1" />
<text x="334.2" y="696.3" font-size="6.2" fill="#555" text-anchor="end" textLength="6" lengthAdjust="spacingAndGlyphs"  stroke="#555" stroke-width="0.12">50</text>
<line x1="337.3" y1="652.8" x2="340.7" y2="652.8" stroke="#2a2a2a" stroke-width="1" />
<text x="334.2" y="655" font-size="6.2" fill="#555" text-anchor="end" textLength="9.3" lengthAdjust="spacingAndGlyphs"  stroke="#555" stroke-width="0.12">100</text>
<line x1="337.3" y1="611.5" x2="340.7" y2="611.5" stroke="#2a2a2a" stroke-width="1" />
<text x="334.2" y="613.7" font-size="6.2" fill="#555" text-anchor="end" textLength="9.3" lengthAdjust="spacingAndGlyphs"  stroke="#555" stroke-width="0.12">150</text>
<line x1="371.3" y1="741.7" x2="371.3" y2="745" stroke="#2a2a2a" stroke-width="0.9" />
<text x="371.3" y="752.7" font-size="6.3" fill="#333" text-anchor="middle" textLength="17.5" lengthAdjust="spacingAndGlyphs"  stroke="#333" stroke-width="0.12">Type 1</text>
<line x1="424.1" y1="741.7" x2="424.1" y2="745" stroke="#2a2a2a" stroke-width="0.9" />
<text x="424.1" y="752.7" font-size="6.3" fill="#333" text-anchor="middle" textLength="17.5" lengthAdjust="spacingAndGlyphs"  stroke="#333" stroke-width="0.12">Type 2</text>
<line x1="476.5" y1="741.7" x2="476.5" y2="745" stroke="#2a2a2a" stroke-width="0.9" />
<text x="474" y="752.7" font-size="6.3" fill="#333" text-anchor="middle" textLength="35" lengthAdjust="spacingAndGlyphs"  stroke="#333" stroke-width="0.12">EBV negative</text>
<text transform="translate(315.3,675) rotate(-90)" font-size="8.4" fill="#333" text-anchor="middle" textLength="83" lengthAdjust="spacingAndGlyphs"  stroke="#333" stroke-width="0.12">Mutation load (corroborated)</text>
<rect x="0" y="0" width="520" height="1" fill="#505050" />
<rect x="0" y="0" width="1" height="762" fill="#505050" />
<rect x="518.9" y="0" width="1.1" height="762" fill="#4a4a4a" />
<rect x="0" y="760.7" width="520" height="1.3" fill="#4a4a4a" />
</svg></body></html>
